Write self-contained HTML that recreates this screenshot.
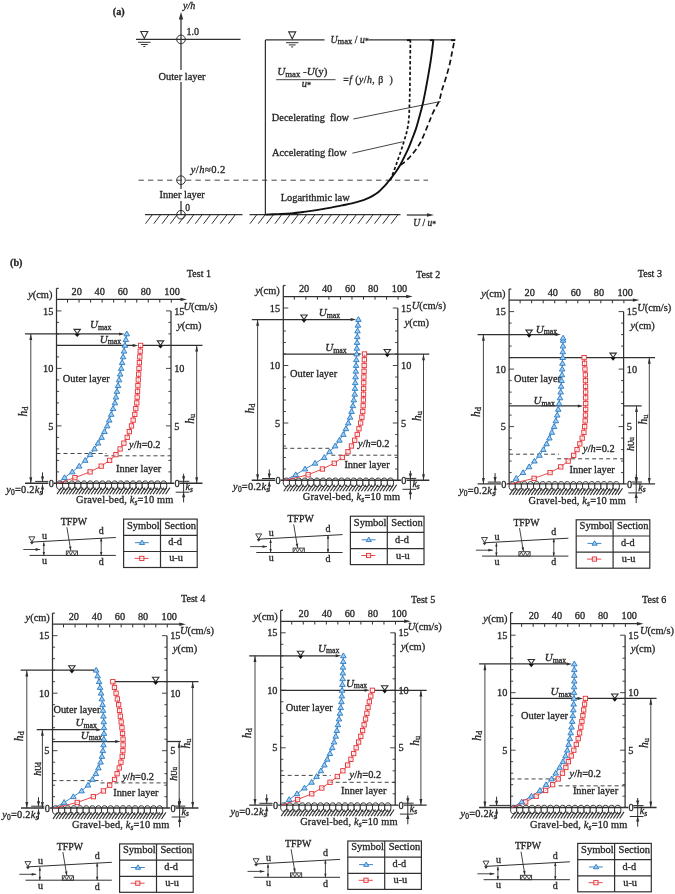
<!DOCTYPE html>
<html><head><meta charset="utf-8"><style>
html,body{margin:0;padding:0;background:#fff;overflow:hidden;}
svg{display:block;font-family:"Liberation Serif",serif;will-change:transform;}
text{stroke:#262626;stroke-width:0.3px;}
</style></head><body>
<svg width="675" height="894" viewBox="0 0 675 894">
<rect width="675" height="894" fill="#fff"/>
<text x="112.8" y="14.8" font-size="10.2" text-anchor="start" font-style="normal" font-weight="bold" fill="#262626" >(a)</text>
<line x1="181" y1="214.7" x2="181" y2="19" stroke="#303030" stroke-width="1.25" />
<polygon points="181,12 183.2,19.5 178.8,19.5" fill="#303030" stroke="none" stroke-width="1"/>
<text x="183" y="8.5" font-size="10" text-anchor="start" font-style="italic" font-weight="normal" fill="#262626" >y/h</text>
<line x1="136" y1="39.4" x2="240.5" y2="39.4" stroke="#303030" stroke-width="1.25" />
<polygon points="140.8,31.5 147.8,31.5 144.3,38.4" fill="none" stroke="#303030" stroke-width="1.1"/>
<line x1="138.1" y1="42.3" x2="150.5" y2="42.3" stroke="#303030" stroke-width="1.0" />
<line x1="140.9" y1="44.5" x2="147.7" y2="44.5" stroke="#303030" stroke-width="1.0" />
<line x1="143.3" y1="46.5" x2="145.3" y2="46.5" stroke="#303030" stroke-width="1.0" />
<circle cx="181" cy="39.4" r="4.3" fill="none" stroke="#303030" stroke-width="1"/>
<text x="186.5" y="34.6" font-size="10" text-anchor="start" font-style="normal" font-weight="normal" fill="#262626" >1.0</text>
<rect x="157" y="70" width="50" height="12" fill="#fff"/>
<text x="158.5" y="79.6" font-size="10.4" text-anchor="start" font-style="normal" font-weight="normal" fill="#262626" >Outer layer</text>
<line x1="138.5" y1="180.2" x2="428" y2="180.2" stroke="#303030" stroke-width="0.9" stroke-dasharray="5.3,4.2" />
<circle cx="181" cy="180.2" r="4.3" fill="none" stroke="#303030" stroke-width="1"/>
<text x="190.7" y="172.6" font-size="10.6" text-anchor="start" font-style="normal" font-weight="normal" fill="#262626" letter-spacing="0.45"><tspan font-style="italic">y</tspan>/<tspan font-style="italic">h</tspan>≈0.2</text>
<rect x="158" y="189" width="50" height="12" fill="#fff"/>
<text x="159.5" y="198.2" font-size="10.4" text-anchor="start" font-style="normal" font-weight="normal" fill="#262626" >Inner layer</text>
<text x="185.3" y="210.6" font-size="9.5" text-anchor="start" font-style="normal" font-weight="normal" fill="#262626" >0</text>
<line x1="145" y1="214.7" x2="242.5" y2="214.7" stroke="#303030" stroke-width="1.25" />
<line x1="152.3" y1="214.7" x2="145.5" y2="223.7" stroke="#303030" stroke-width="1.0" />
<line x1="160.6" y1="214.7" x2="153.8" y2="223.7" stroke="#303030" stroke-width="1.0" />
<line x1="168.9" y1="214.7" x2="162.1" y2="223.7" stroke="#303030" stroke-width="1.0" />
<line x1="177.2" y1="214.7" x2="170.4" y2="223.7" stroke="#303030" stroke-width="1.0" />
<line x1="185.5" y1="214.7" x2="178.7" y2="223.7" stroke="#303030" stroke-width="1.0" />
<line x1="193.8" y1="214.7" x2="187" y2="223.7" stroke="#303030" stroke-width="1.0" />
<line x1="202.1" y1="214.7" x2="195.3" y2="223.7" stroke="#303030" stroke-width="1.0" />
<line x1="210.4" y1="214.7" x2="203.6" y2="223.7" stroke="#303030" stroke-width="1.0" />
<line x1="218.7" y1="214.7" x2="211.9" y2="223.7" stroke="#303030" stroke-width="1.0" />
<line x1="227" y1="214.7" x2="220.2" y2="223.7" stroke="#303030" stroke-width="1.0" />
<line x1="235.3" y1="214.7" x2="228.5" y2="223.7" stroke="#303030" stroke-width="1.0" />
<circle cx="181" cy="214.7" r="4.3" fill="none" stroke="#303030" stroke-width="1"/>
<line x1="249.5" y1="214.7" x2="400.5" y2="214.7" stroke="#303030" stroke-width="1.25" />
<line x1="256.8" y1="214.7" x2="250" y2="223.7" stroke="#303030" stroke-width="1.0" />
<line x1="265.1" y1="214.7" x2="258.3" y2="223.7" stroke="#303030" stroke-width="1.0" />
<line x1="273.4" y1="214.7" x2="266.6" y2="223.7" stroke="#303030" stroke-width="1.0" />
<line x1="281.7" y1="214.7" x2="274.9" y2="223.7" stroke="#303030" stroke-width="1.0" />
<line x1="290" y1="214.7" x2="283.2" y2="223.7" stroke="#303030" stroke-width="1.0" />
<line x1="298.3" y1="214.7" x2="291.5" y2="223.7" stroke="#303030" stroke-width="1.0" />
<line x1="306.6" y1="214.7" x2="299.8" y2="223.7" stroke="#303030" stroke-width="1.0" />
<line x1="314.9" y1="214.7" x2="308.1" y2="223.7" stroke="#303030" stroke-width="1.0" />
<line x1="323.2" y1="214.7" x2="316.4" y2="223.7" stroke="#303030" stroke-width="1.0" />
<line x1="331.5" y1="214.7" x2="324.7" y2="223.7" stroke="#303030" stroke-width="1.0" />
<line x1="339.8" y1="214.7" x2="333" y2="223.7" stroke="#303030" stroke-width="1.0" />
<line x1="348.1" y1="214.7" x2="341.3" y2="223.7" stroke="#303030" stroke-width="1.0" />
<line x1="356.4" y1="214.7" x2="349.6" y2="223.7" stroke="#303030" stroke-width="1.0" />
<line x1="364.7" y1="214.7" x2="357.9" y2="223.7" stroke="#303030" stroke-width="1.0" />
<line x1="373" y1="214.7" x2="366.2" y2="223.7" stroke="#303030" stroke-width="1.0" />
<line x1="381.3" y1="214.7" x2="374.5" y2="223.7" stroke="#303030" stroke-width="1.0" />
<line x1="389.6" y1="214.7" x2="382.8" y2="223.7" stroke="#303030" stroke-width="1.0" />
<line x1="397.9" y1="214.7" x2="391.1" y2="223.7" stroke="#303030" stroke-width="1.0" />
<line x1="265.4" y1="40" x2="265.4" y2="214.7" stroke="#303030" stroke-width="1.25" />
<line x1="265.4" y1="39.8" x2="324.5" y2="39.8" stroke="#303030" stroke-width="1.25" />
<line x1="368.5" y1="39.8" x2="455.5" y2="39.8" stroke="#303030" stroke-width="1.25" />
<polygon points="288.7,31.9 295.7,31.9 292.2,38.8" fill="none" stroke="#303030" stroke-width="1.1"/>
<line x1="286" y1="42.7" x2="298.4" y2="42.7" stroke="#303030" stroke-width="1.0" />
<line x1="288.8" y1="44.9" x2="295.6" y2="44.9" stroke="#303030" stroke-width="1.0" />
<line x1="291.2" y1="46.9" x2="293.2" y2="46.9" stroke="#303030" stroke-width="1.0" />
<text x="330.5" y="42.6" font-size="9.8" text-anchor="start" font-style="normal" font-weight="normal" fill="#262626" ><tspan font-style="italic">U</tspan><tspan font-size="8.6" dy="1">max</tspan><tspan dy="-1"> / </tspan><tspan font-style="italic">u</tspan><tspan font-size="7.5" dy="1">*</tspan></text>
<text x="277.2" y="75.3" font-size="11" text-anchor="start" font-style="normal" font-weight="normal" fill="#262626" ><tspan font-style="italic">U</tspan><tspan font-size="8.8" dy="2">max</tspan><tspan dy="-2"> -</tspan><tspan font-style="italic">U</tspan>(y)</text>
<line x1="276.2" y1="79.7" x2="335.5" y2="79.7" stroke="#303030" stroke-width="0.9" />
<text x="301.8" y="86.5" font-size="10.5" text-anchor="start" font-style="normal" font-weight="normal" fill="#262626" ><tspan font-style="italic">u</tspan><tspan font-size="8" dy="1.5">*</tspan></text>
<text x="343.2" y="83" font-size="9.8" text-anchor="start" font-style="normal" font-weight="normal" fill="#262626" letter-spacing="0.45">=<tspan font-style="italic">f</tspan> (<tspan font-style="italic">y</tspan>/<tspan font-style="italic">h</tspan>, β&#160;&#160;)</text>
<text x="271.8" y="121.3" font-size="10.4" text-anchor="start" font-style="normal" font-weight="normal" fill="#262626" >Decelerating&#160; flow</text>
<line x1="353.3" y1="119" x2="440.5" y2="101.5" stroke="#303030" stroke-width="0.9" />
<text x="272" y="155.5" font-size="10.4" text-anchor="start" font-style="normal" font-weight="normal" fill="#262626" >Accelerating flow</text>
<line x1="352.4" y1="153.2" x2="402.6" y2="141.8" stroke="#303030" stroke-width="0.9" />
<text x="280.7" y="201.2" font-size="10.4" text-anchor="start" font-style="normal" font-weight="normal" fill="#262626" >Logarithmic law</text>
<line x1="406.8" y1="215" x2="428" y2="215" stroke="#303030" stroke-width="1.25" />
<polygon points="434,215 427,216.8 427,213.2" fill="#303030" stroke="none" stroke-width="1"/>
<text x="413.2" y="226" font-size="9.5" text-anchor="start" font-style="normal" font-weight="normal" fill="#262626" ><tspan font-style="italic">U</tspan> / <tspan font-style="italic">u</tspan><tspan font-size="7.5" dy="1">*</tspan></text>
<path d="M265.4,214.6 C267.5,214.52 273.73,214.3 278,214.1 C282.27,213.9 286.67,213.77 291,213.4 C295.33,213.03 299.5,212.48 304,211.9 C308.5,211.32 313.5,210.62 318,209.9 C322.5,209.18 326.83,208.38 331,207.6 C335.17,206.82 339.5,205.92 343,205.2 C346.5,204.48 349.17,203.97 352,203.3 C354.83,202.63 357.5,201.98 360,201.2 C362.5,200.42 364.83,199.53 367,198.6 C369.17,197.67 371.08,196.68 373,195.6 C374.92,194.52 376.72,193.55 378.5,192.1 C380.28,190.65 382.15,188.55 383.7,186.9 C385.25,185.25 386.5,183.73 387.8,182.2 C389.1,180.67 390.22,179.35 391.5,177.7 C392.78,176.05 394.2,174.17 395.5,172.3 C396.8,170.43 397.88,168.97 399.3,166.5 C400.72,164.03 402.5,160.48 404,157.5 C405.5,154.52 406.92,151.77 408.3,148.6 C409.68,145.43 411,141.87 412.3,138.5 C413.6,135.13 414.88,132.15 416.1,128.4 C417.32,124.65 418.48,120.1 419.6,116 C420.72,111.9 421.77,108.3 422.8,103.8 C423.83,99.3 424.87,93.85 425.8,89 C426.73,84.15 427.62,79.2 428.4,74.7 C429.18,70.2 429.87,66.12 430.5,62 C431.13,57.88 431.77,53.25 432.2,50 C432.63,46.75 432.9,44.12 433.1,42.5 C433.3,40.88 433.35,40.67 433.4,40.3" fill="none" stroke="#111" stroke-width="1.9"/>
<path d="M390.5,180.2 C391.6,177.17 394.88,168.37 397.1,162 C399.32,155.63 401.93,148.33 403.8,142 C405.67,135.67 407.33,131 408.3,124 C409.27,117 409.3,109 409.6,100 C409.9,91 409.97,79.92 410.1,70 C410.23,60.08 410.35,45.42 410.4,40.5" fill="none" stroke="#111" stroke-width="1.7" stroke-dasharray="3.2,2.2"/>
<path d="M400.5,165.2 C401.98,163.92 406.23,161.02 409.4,157.5 C412.57,153.98 416.4,149.52 419.5,144.1 C422.6,138.68 425.8,130.13 428,125 C430.2,119.87 430.88,117.22 432.7,113.3 C434.52,109.38 437.35,105.38 438.9,101.5 C440.45,97.62 440.82,93.98 442,90 C443.18,86.02 444.7,82 446,77.6 C447.3,73.2 448.75,68.02 449.8,63.6 C450.85,59.18 451.53,54.87 452.3,51.1 C453.07,47.33 454.05,42.68 454.4,41" fill="none" stroke="#111" stroke-width="1.7" stroke-dasharray="5.5,3.2"/>
<line x1="406.9" y1="40.2" x2="410.9" y2="40.2" stroke="#111" stroke-width="1.8" />
<line x1="429.9" y1="40.2" x2="433.9" y2="40.2" stroke="#111" stroke-width="1.8" />
<line x1="451.1" y1="40.2" x2="455.1" y2="40.2" stroke="#111" stroke-width="1.8" />
<text x="10" y="265.8" font-size="10.2" text-anchor="start" font-style="normal" font-weight="bold" fill="#262626" >(b)</text>
<text x="211.1" y="277.4" font-size="10.1" text-anchor="end" font-style="normal" font-weight="normal" fill="#262626" >Test 1</text>
<line x1="56.5" y1="288.4" x2="56.5" y2="483.4" stroke="#303030" stroke-width="1.25" />
<line x1="56.5" y1="288.4" x2="58.7" y2="288.4" stroke="#303030" stroke-width="1.25" />
<line x1="56.5" y1="471.9" x2="59.1" y2="471.9" stroke="#303030" stroke-width="0.9" />
<line x1="56.5" y1="460.4" x2="59.1" y2="460.4" stroke="#303030" stroke-width="0.9" />
<line x1="56.5" y1="448.9" x2="59.1" y2="448.9" stroke="#303030" stroke-width="0.9" />
<line x1="56.5" y1="437.4" x2="59.1" y2="437.4" stroke="#303030" stroke-width="0.9" />
<line x1="56.5" y1="425.9" x2="61.5" y2="425.9" stroke="#303030" stroke-width="0.9" />
<line x1="56.5" y1="414.4" x2="59.1" y2="414.4" stroke="#303030" stroke-width="0.9" />
<line x1="56.5" y1="402.9" x2="59.1" y2="402.9" stroke="#303030" stroke-width="0.9" />
<line x1="56.5" y1="391.4" x2="59.1" y2="391.4" stroke="#303030" stroke-width="0.9" />
<line x1="56.5" y1="379.9" x2="59.1" y2="379.9" stroke="#303030" stroke-width="0.9" />
<line x1="56.5" y1="368.4" x2="61.5" y2="368.4" stroke="#303030" stroke-width="0.9" />
<line x1="56.5" y1="356.9" x2="59.1" y2="356.9" stroke="#303030" stroke-width="0.9" />
<line x1="56.5" y1="345.4" x2="59.1" y2="345.4" stroke="#303030" stroke-width="0.9" />
<line x1="56.5" y1="333.9" x2="59.1" y2="333.9" stroke="#303030" stroke-width="0.9" />
<line x1="56.5" y1="322.4" x2="59.1" y2="322.4" stroke="#303030" stroke-width="0.9" />
<line x1="56.5" y1="310.9" x2="61.5" y2="310.9" stroke="#303030" stroke-width="0.9" />
<text x="53.3" y="429.5" font-size="10.3" text-anchor="end" font-style="normal" font-weight="normal" fill="#262626" >5</text>
<text x="53.3" y="372" font-size="10.3" text-anchor="end" font-style="normal" font-weight="normal" fill="#262626" >10</text>
<text x="53.3" y="314.5" font-size="10.3" text-anchor="end" font-style="normal" font-weight="normal" fill="#262626" >15</text>
<line x1="171" y1="310.9" x2="171" y2="483.4" stroke="#303030" stroke-width="1.25" />
<line x1="168.4" y1="471.9" x2="171" y2="471.9" stroke="#303030" stroke-width="0.9" />
<line x1="168.4" y1="460.4" x2="171" y2="460.4" stroke="#303030" stroke-width="0.9" />
<line x1="168.4" y1="448.9" x2="171" y2="448.9" stroke="#303030" stroke-width="0.9" />
<line x1="168.4" y1="437.4" x2="171" y2="437.4" stroke="#303030" stroke-width="0.9" />
<line x1="166" y1="425.9" x2="171" y2="425.9" stroke="#303030" stroke-width="0.9" />
<line x1="168.4" y1="414.4" x2="171" y2="414.4" stroke="#303030" stroke-width="0.9" />
<line x1="168.4" y1="402.9" x2="171" y2="402.9" stroke="#303030" stroke-width="0.9" />
<line x1="168.4" y1="391.4" x2="171" y2="391.4" stroke="#303030" stroke-width="0.9" />
<line x1="168.4" y1="379.9" x2="171" y2="379.9" stroke="#303030" stroke-width="0.9" />
<line x1="166" y1="368.4" x2="171" y2="368.4" stroke="#303030" stroke-width="0.9" />
<line x1="168.4" y1="356.9" x2="171" y2="356.9" stroke="#303030" stroke-width="0.9" />
<line x1="168.4" y1="345.4" x2="171" y2="345.4" stroke="#303030" stroke-width="0.9" />
<line x1="168.4" y1="333.9" x2="171" y2="333.9" stroke="#303030" stroke-width="0.9" />
<line x1="168.4" y1="322.4" x2="171" y2="322.4" stroke="#303030" stroke-width="0.9" />
<line x1="166" y1="310.9" x2="171" y2="310.9" stroke="#303030" stroke-width="0.9" />
<text x="174.2" y="429.5" font-size="10.3" text-anchor="start" font-style="normal" font-weight="normal" fill="#262626" >5</text>
<text x="174.2" y="372" font-size="10.3" text-anchor="start" font-style="normal" font-weight="normal" fill="#262626" >10</text>
<text x="174.2" y="314.5" font-size="10.3" text-anchor="start" font-style="normal" font-weight="normal" fill="#262626" >15</text>
<line x1="56.5" y1="299.4" x2="182.5" y2="299.4" stroke="#303030" stroke-width="1.25" />
<polygon points="187,299.4 180.5,301.1 180.5,297.7" fill="#303030" stroke="none" stroke-width="1"/>
<line x1="67.53" y1="299.4" x2="67.53" y2="302.6" stroke="#303030" stroke-width="1.0" />
<line x1="79.06" y1="299.4" x2="79.06" y2="302.6" stroke="#303030" stroke-width="1.0" />
<line x1="90.59" y1="299.4" x2="90.59" y2="302.6" stroke="#303030" stroke-width="1.0" />
<line x1="102.12" y1="299.4" x2="102.12" y2="302.6" stroke="#303030" stroke-width="1.0" />
<line x1="113.65" y1="299.4" x2="113.65" y2="302.6" stroke="#303030" stroke-width="1.0" />
<line x1="125.18" y1="299.4" x2="125.18" y2="302.6" stroke="#303030" stroke-width="1.0" />
<line x1="136.71" y1="299.4" x2="136.71" y2="302.6" stroke="#303030" stroke-width="1.0" />
<line x1="148.24" y1="299.4" x2="148.24" y2="302.6" stroke="#303030" stroke-width="1.0" />
<line x1="159.77" y1="299.4" x2="159.77" y2="302.6" stroke="#303030" stroke-width="1.0" />
<line x1="171.3" y1="299.4" x2="171.3" y2="302.6" stroke="#303030" stroke-width="1.0" />
<text x="76.66" y="295.1" font-size="10.3" text-anchor="middle" font-style="normal" font-weight="normal" fill="#262626" >20</text>
<text x="99.72" y="295.1" font-size="10.3" text-anchor="middle" font-style="normal" font-weight="normal" fill="#262626" >40</text>
<text x="122.78" y="295.1" font-size="10.3" text-anchor="middle" font-style="normal" font-weight="normal" fill="#262626" >60</text>
<text x="145.84" y="295.1" font-size="10.3" text-anchor="middle" font-style="normal" font-weight="normal" fill="#262626" >80</text>
<text x="172.1" y="295.1" font-size="10.3" text-anchor="middle" font-style="normal" font-weight="normal" fill="#262626" >100</text>
<text x="52.4" y="297.8" font-size="10.4" text-anchor="end" font-style="normal" font-weight="normal" fill="#262626" ><tspan font-style="italic">y</tspan>(cm)</text>
<text x="183.5" y="309.7" font-size="10.4" text-anchor="start" font-style="normal" font-weight="normal" fill="#262626" ><tspan font-style="italic">U</tspan>(cm/s)</text>
<text x="177.2" y="329.2" font-size="10.4" text-anchor="start" font-style="normal" font-weight="normal" fill="#262626" ><tspan font-style="italic">y</tspan>(cm)</text>
<ellipse cx="59.6" cy="485.2" rx="3.15" ry="4.25" fill="#fff" stroke="#303030" stroke-width="1.0"/>
<ellipse cx="65.72" cy="485.2" rx="3.15" ry="4.25" fill="#fff" stroke="#303030" stroke-width="1.0"/>
<ellipse cx="71.84" cy="485.2" rx="3.15" ry="4.25" fill="#fff" stroke="#303030" stroke-width="1.0"/>
<ellipse cx="77.96" cy="485.2" rx="3.15" ry="4.25" fill="#fff" stroke="#303030" stroke-width="1.0"/>
<ellipse cx="84.08" cy="485.2" rx="3.15" ry="4.25" fill="#fff" stroke="#303030" stroke-width="1.0"/>
<ellipse cx="90.2" cy="485.2" rx="3.15" ry="4.25" fill="#fff" stroke="#303030" stroke-width="1.0"/>
<ellipse cx="96.32" cy="485.2" rx="3.15" ry="4.25" fill="#fff" stroke="#303030" stroke-width="1.0"/>
<ellipse cx="102.44" cy="485.2" rx="3.15" ry="4.25" fill="#fff" stroke="#303030" stroke-width="1.0"/>
<ellipse cx="108.56" cy="485.2" rx="3.15" ry="4.25" fill="#fff" stroke="#303030" stroke-width="1.0"/>
<ellipse cx="114.68" cy="485.2" rx="3.15" ry="4.25" fill="#fff" stroke="#303030" stroke-width="1.0"/>
<ellipse cx="120.8" cy="485.2" rx="3.15" ry="4.25" fill="#fff" stroke="#303030" stroke-width="1.0"/>
<ellipse cx="126.92" cy="485.2" rx="3.15" ry="4.25" fill="#fff" stroke="#303030" stroke-width="1.0"/>
<ellipse cx="133.04" cy="485.2" rx="3.15" ry="4.25" fill="#fff" stroke="#303030" stroke-width="1.0"/>
<ellipse cx="139.16" cy="485.2" rx="3.15" ry="4.25" fill="#fff" stroke="#303030" stroke-width="1.0"/>
<ellipse cx="145.28" cy="485.2" rx="3.15" ry="4.25" fill="#fff" stroke="#303030" stroke-width="1.0"/>
<ellipse cx="151.4" cy="485.2" rx="3.15" ry="4.25" fill="#fff" stroke="#303030" stroke-width="1.0"/>
<ellipse cx="157.52" cy="485.2" rx="3.15" ry="4.25" fill="#fff" stroke="#303030" stroke-width="1.0"/>
<ellipse cx="163.64" cy="485.2" rx="3.15" ry="4.25" fill="#fff" stroke="#303030" stroke-width="1.0"/>
<line x1="61.4" y1="487.6" x2="57" y2="494.2" stroke="#303030" stroke-width="1.15" />
<line x1="64.5" y1="487.6" x2="60.1" y2="494.2" stroke="#303030" stroke-width="1.15" />
<line x1="67.6" y1="487.6" x2="63.2" y2="494.2" stroke="#303030" stroke-width="1.15" />
<line x1="70.7" y1="487.6" x2="66.3" y2="494.2" stroke="#303030" stroke-width="1.15" />
<line x1="73.8" y1="487.6" x2="69.4" y2="494.2" stroke="#303030" stroke-width="1.15" />
<line x1="76.9" y1="487.6" x2="72.5" y2="494.2" stroke="#303030" stroke-width="1.15" />
<line x1="80" y1="487.6" x2="75.6" y2="494.2" stroke="#303030" stroke-width="1.15" />
<line x1="83.1" y1="487.6" x2="78.7" y2="494.2" stroke="#303030" stroke-width="1.15" />
<line x1="86.2" y1="487.6" x2="81.8" y2="494.2" stroke="#303030" stroke-width="1.15" />
<line x1="89.3" y1="487.6" x2="84.9" y2="494.2" stroke="#303030" stroke-width="1.15" />
<line x1="92.4" y1="487.6" x2="88" y2="494.2" stroke="#303030" stroke-width="1.15" />
<line x1="95.5" y1="487.6" x2="91.1" y2="494.2" stroke="#303030" stroke-width="1.15" />
<line x1="98.6" y1="487.6" x2="94.2" y2="494.2" stroke="#303030" stroke-width="1.15" />
<line x1="101.7" y1="487.6" x2="97.3" y2="494.2" stroke="#303030" stroke-width="1.15" />
<line x1="104.8" y1="487.6" x2="100.4" y2="494.2" stroke="#303030" stroke-width="1.15" />
<line x1="107.9" y1="487.6" x2="103.5" y2="494.2" stroke="#303030" stroke-width="1.15" />
<line x1="111" y1="487.6" x2="106.6" y2="494.2" stroke="#303030" stroke-width="1.15" />
<line x1="114.1" y1="487.6" x2="109.7" y2="494.2" stroke="#303030" stroke-width="1.15" />
<line x1="117.2" y1="487.6" x2="112.8" y2="494.2" stroke="#303030" stroke-width="1.15" />
<line x1="120.3" y1="487.6" x2="115.9" y2="494.2" stroke="#303030" stroke-width="1.15" />
<line x1="123.4" y1="487.6" x2="119" y2="494.2" stroke="#303030" stroke-width="1.15" />
<line x1="126.5" y1="487.6" x2="122.1" y2="494.2" stroke="#303030" stroke-width="1.15" />
<line x1="129.6" y1="487.6" x2="125.2" y2="494.2" stroke="#303030" stroke-width="1.15" />
<line x1="132.7" y1="487.6" x2="128.3" y2="494.2" stroke="#303030" stroke-width="1.15" />
<line x1="135.8" y1="487.6" x2="131.4" y2="494.2" stroke="#303030" stroke-width="1.15" />
<line x1="138.9" y1="487.6" x2="134.5" y2="494.2" stroke="#303030" stroke-width="1.15" />
<line x1="142" y1="487.6" x2="137.6" y2="494.2" stroke="#303030" stroke-width="1.15" />
<line x1="145.1" y1="487.6" x2="140.7" y2="494.2" stroke="#303030" stroke-width="1.15" />
<line x1="148.2" y1="487.6" x2="143.8" y2="494.2" stroke="#303030" stroke-width="1.15" />
<line x1="151.3" y1="487.6" x2="146.9" y2="494.2" stroke="#303030" stroke-width="1.15" />
<line x1="154.4" y1="487.6" x2="150" y2="494.2" stroke="#303030" stroke-width="1.15" />
<line x1="157.5" y1="487.6" x2="153.1" y2="494.2" stroke="#303030" stroke-width="1.15" />
<line x1="160.6" y1="487.6" x2="156.2" y2="494.2" stroke="#303030" stroke-width="1.15" />
<line x1="163.7" y1="487.6" x2="159.3" y2="494.2" stroke="#303030" stroke-width="1.15" />
<line x1="166.8" y1="487.6" x2="162.4" y2="494.2" stroke="#303030" stroke-width="1.15" />
<line x1="169.9" y1="487.6" x2="165.5" y2="494.2" stroke="#303030" stroke-width="1.15" />
<line x1="25" y1="483.2" x2="202.5" y2="483.2" stroke="#303030" stroke-width="1.4" />
<text x="6.3" y="493" font-size="10.4" text-anchor="start" font-style="normal" font-weight="normal" fill="#262626" letter-spacing="0.2"><tspan font-style="italic">y</tspan><tspan font-size="7.5" dy="2">0</tspan><tspan dy="-2">=0.2</tspan><tspan font-style="italic">k</tspan><tspan font-size="7.5" dy="2" font-style="italic">s</tspan></text>
<text x="76" y="503.2" font-size="10.4" text-anchor="start" font-style="normal" font-weight="normal" fill="#262626" letter-spacing="0.15">Gravel-bed, <tspan font-style="italic">k</tspan><tspan font-size="7.5" dy="2" font-style="italic">s</tspan><tspan dy="-2">=10 mm</tspan></text>
<rect x="48.3" y="479.9" width="5.6" height="7" fill="#fff"/>
<text x="48.7" y="486.8" font-size="10.3" text-anchor="start" font-style="normal" font-weight="normal" fill="#262626" >0</text>
<line x1="35.2" y1="481.4" x2="48.3" y2="481.4" stroke="#303030" stroke-width="1.0" />
<rect x="174.2" y="479.9" width="5.6" height="7" fill="#fff"/>
<text x="174.4" y="486.8" font-size="10.3" text-anchor="start" font-style="normal" font-weight="normal" fill="#262626" >0</text>
<line x1="42.5" y1="472.4" x2="42.5" y2="481.4" stroke="#303030" stroke-width="1.0" />
<polygon points="42.5,481.4 40.9,476.4 44.1,476.4" fill="#303030" stroke="none" stroke-width="1"/>
<line x1="42.5" y1="494.4" x2="42.5" y2="484.4" stroke="#303030" stroke-width="1.0" />
<polygon points="42.5,484.4 44.1,489.4 40.9,489.4" fill="#303030" stroke="none" stroke-width="1"/>
<line x1="179" y1="481.3" x2="189.4" y2="481.3" stroke="#303030" stroke-width="1.0" />
<line x1="175.7" y1="492.2" x2="189.4" y2="492.2" stroke="#303030" stroke-width="1.0" />
<line x1="183.6" y1="473.7" x2="183.6" y2="481.3" stroke="#303030" stroke-width="1.0" />
<polygon points="183.6,481.3 182,476.3 185.2,476.3" fill="#303030" stroke="none" stroke-width="1"/>
<line x1="183.6" y1="502.4" x2="183.6" y2="492.2" stroke="#303030" stroke-width="1.0" />
<polygon points="183.6,492.2 185.2,497.2 182,497.2" fill="#303030" stroke="none" stroke-width="1"/>
<line x1="183.6" y1="481.3" x2="183.6" y2="492.2" stroke="#303030" stroke-width="1.0" />
<text x="185.6" y="490.1" font-size="10" text-anchor="start" font-style="normal" font-weight="normal" fill="#262626" ><tspan font-style="italic">k</tspan><tspan font-size="7.5" dy="1.5" font-style="italic">s</tspan></text>
<line x1="56.5" y1="453.5" x2="106.5" y2="453.5" stroke="#303030" stroke-width="0.9" stroke-dasharray="4,3" />
<line x1="104.5" y1="455.8" x2="171" y2="455.8" stroke="#303030" stroke-width="0.9" stroke-dasharray="4,3" />
<polyline points="57.5,483.4 64.5,477.65 72.3,471.9 79.2,466.15 85.2,460.4 90.1,454.65 94.5,448.9 98.05,443.15 101.6,437.4 104.4,431.65 107.2,425.9 109.2,420.15 111.2,414.4 113.05,408.65 114.9,402.9 115.95,397.15 117,391.4 118.05,385.65 119.1,379.9 120.15,374.15 121.2,368.4 122.13,362.65 123.07,356.9 124,351.15 124.93,345.4 125.87,339.65 126.8,333.9" fill="none" stroke="#2a78c2" stroke-width="0.9"/>
<polyline points="57.5,483.4 74.9,477.65 90.1,471.9 101.2,466.15 109.6,460.4 115.9,454.65 120.1,448.9 123.9,443.15 127.2,437.4 129.35,431.65 131.5,425.9 133.15,420.15 134.8,414.4 135.8,408.65 136.8,402.9 137.17,397.15 137.53,391.4 137.9,385.65 138.27,379.9 138.63,374.15 139,368.4 139.4,362.65 139.8,356.9 140.2,351.15 140.6,345.4" fill="none" stroke="#e5353a" stroke-width="0.9"/>
<text x="62.8" y="381.5" font-size="10.4" text-anchor="start" font-style="normal" font-weight="normal" fill="#262626" >Outer layer</text>
<text x="116" y="471.7" font-size="10.4" text-anchor="start" font-style="normal" font-weight="normal" fill="#262626" >Inner layer</text>
<text x="129" y="447.9" font-size="10.4" text-anchor="start" font-style="normal" font-weight="normal" fill="#262626" ><tspan font-style="italic">y</tspan>/<tspan font-style="italic">h</tspan>=0.2</text>
<line x1="25" y1="333.9" x2="120.8" y2="333.9" stroke="#303030" stroke-width="1.25" />
<polygon points="124.6,333.9 119.1,335.4 119.1,332.4" fill="#303030" stroke="none" stroke-width="1"/>
<text x="90.1" y="328.4" font-size="11" text-anchor="start" font-style="normal" font-weight="normal" fill="#262626" ><tspan font-style="italic">U</tspan><tspan font-size="7.8" dy="1.4">max</tspan></text>
<polygon points="74,329.4 80.4,329.4 77.2,333.9" fill="none" stroke="#303030" stroke-width="1.1"/>
<polygon points="74.5,333.9 79.9,333.9 77.2,337.1" fill="#111" stroke="none" stroke-width="1"/>
<line x1="30.8" y1="333.9" x2="30.8" y2="483.4" stroke="#303030" stroke-width="0.9" />
<polygon points="30.8,483.4 29.35,477.2 32.25,477.2" fill="#303030" stroke="none" stroke-width="1"/>
<polygon points="30.8,333.9 32.25,340.1 29.35,340.1" fill="#303030" stroke="none" stroke-width="1"/>
<text x="0" y="0" font-size="11.5" text-anchor="middle" fill="#262626" transform="translate(23.2,411.4) rotate(-90)" dominant-baseline="central"><tspan font-style="italic">h</tspan><tspan font-size="8.5" dy="2">d</tspan></text>
<line x1="56.5" y1="345.4" x2="134.6" y2="345.4" stroke="#303030" stroke-width="1.25" />
<polygon points="138.2,345.4 132.7,346.9 132.7,343.9" fill="#303030" stroke="none" stroke-width="1"/>
<line x1="142.8" y1="345.4" x2="202.5" y2="345.4" stroke="#303030" stroke-width="1.25" />
<text x="99.8" y="342.8" font-size="11" text-anchor="start" font-style="normal" font-weight="normal" fill="#262626" ><tspan font-style="italic">U</tspan><tspan font-size="7.8" dy="1.4">max</tspan></text>
<polygon points="157.3,340.9 163.7,340.9 160.5,345.4" fill="none" stroke="#303030" stroke-width="1.1"/>
<polygon points="157.8,345.4 163.2,345.4 160.5,348.6" fill="#111" stroke="none" stroke-width="1"/>
<line x1="196.7" y1="345.4" x2="196.7" y2="483.4" stroke="#303030" stroke-width="0.9" />
<polygon points="196.7,483.4 195.25,477.2 198.15,477.2" fill="#303030" stroke="none" stroke-width="1"/>
<polygon points="196.7,345.4 198.15,351.6 195.25,351.6" fill="#303030" stroke="none" stroke-width="1"/>
<text x="0" y="0" font-size="11.5" text-anchor="middle" fill="#262626" transform="translate(190.3,418.8) rotate(-90)" dominant-baseline="central"><tspan font-style="italic">h</tspan><tspan font-size="8.5" dy="2">u</tspan></text>
<rect x="72.75" y="475.5" width="4.3" height="4.3" fill="#fff" fill-opacity="0.6" stroke="#e5353a" stroke-width="0.95"/>
<rect x="87.95" y="469.75" width="4.3" height="4.3" fill="#fff" fill-opacity="0.6" stroke="#e5353a" stroke-width="0.95"/>
<rect x="99.05" y="464" width="4.3" height="4.3" fill="#fff" fill-opacity="0.6" stroke="#e5353a" stroke-width="0.95"/>
<rect x="107.45" y="458.25" width="4.3" height="4.3" fill="#fff" fill-opacity="0.6" stroke="#e5353a" stroke-width="0.95"/>
<rect x="113.75" y="452.5" width="4.3" height="4.3" fill="#fff" fill-opacity="0.6" stroke="#e5353a" stroke-width="0.95"/>
<rect x="117.95" y="446.75" width="4.3" height="4.3" fill="#fff" fill-opacity="0.6" stroke="#e5353a" stroke-width="0.95"/>
<rect x="121.75" y="441" width="4.3" height="4.3" fill="#fff" fill-opacity="0.6" stroke="#e5353a" stroke-width="0.95"/>
<rect x="125.05" y="435.25" width="4.3" height="4.3" fill="#fff" fill-opacity="0.6" stroke="#e5353a" stroke-width="0.95"/>
<rect x="127.2" y="429.5" width="4.3" height="4.3" fill="#fff" fill-opacity="0.6" stroke="#e5353a" stroke-width="0.95"/>
<rect x="129.35" y="423.75" width="4.3" height="4.3" fill="#fff" fill-opacity="0.6" stroke="#e5353a" stroke-width="0.95"/>
<rect x="131" y="418" width="4.3" height="4.3" fill="#fff" fill-opacity="0.6" stroke="#e5353a" stroke-width="0.95"/>
<rect x="132.65" y="412.25" width="4.3" height="4.3" fill="#fff" fill-opacity="0.6" stroke="#e5353a" stroke-width="0.95"/>
<rect x="133.65" y="406.5" width="4.3" height="4.3" fill="#fff" fill-opacity="0.6" stroke="#e5353a" stroke-width="0.95"/>
<rect x="134.65" y="400.75" width="4.3" height="4.3" fill="#fff" fill-opacity="0.6" stroke="#e5353a" stroke-width="0.95"/>
<rect x="135.02" y="395" width="4.3" height="4.3" fill="#fff" fill-opacity="0.6" stroke="#e5353a" stroke-width="0.95"/>
<rect x="135.38" y="389.25" width="4.3" height="4.3" fill="#fff" fill-opacity="0.6" stroke="#e5353a" stroke-width="0.95"/>
<rect x="135.75" y="383.5" width="4.3" height="4.3" fill="#fff" fill-opacity="0.6" stroke="#e5353a" stroke-width="0.95"/>
<rect x="136.12" y="377.75" width="4.3" height="4.3" fill="#fff" fill-opacity="0.6" stroke="#e5353a" stroke-width="0.95"/>
<rect x="136.48" y="372" width="4.3" height="4.3" fill="#fff" fill-opacity="0.6" stroke="#e5353a" stroke-width="0.95"/>
<rect x="136.85" y="366.25" width="4.3" height="4.3" fill="#fff" fill-opacity="0.6" stroke="#e5353a" stroke-width="0.95"/>
<rect x="137.25" y="360.5" width="4.3" height="4.3" fill="#fff" fill-opacity="0.6" stroke="#e5353a" stroke-width="0.95"/>
<rect x="137.65" y="354.75" width="4.3" height="4.3" fill="#fff" fill-opacity="0.6" stroke="#e5353a" stroke-width="0.95"/>
<rect x="138.05" y="349" width="4.3" height="4.3" fill="#fff" fill-opacity="0.6" stroke="#e5353a" stroke-width="0.95"/>
<rect x="138.45" y="343.25" width="4.3" height="4.3" fill="#fff" fill-opacity="0.6" stroke="#e5353a" stroke-width="0.95"/>
<polygon points="64.5,474.77 61.7,479.57 67.3,479.57" fill="#9fd0f2" stroke="#2a78c2" stroke-width="0.9"/>
<polygon points="72.3,469.02 69.5,473.82 75.1,473.82" fill="#9fd0f2" stroke="#2a78c2" stroke-width="0.9"/>
<polygon points="79.2,463.27 76.4,468.07 82,468.07" fill="#9fd0f2" stroke="#2a78c2" stroke-width="0.9"/>
<polygon points="85.2,457.52 82.4,462.32 88,462.32" fill="#9fd0f2" stroke="#2a78c2" stroke-width="0.9"/>
<polygon points="90.1,451.77 87.3,456.57 92.9,456.57" fill="#9fd0f2" stroke="#2a78c2" stroke-width="0.9"/>
<polygon points="94.5,446.02 91.7,450.82 97.3,450.82" fill="#9fd0f2" stroke="#2a78c2" stroke-width="0.9"/>
<polygon points="98.05,440.27 95.25,445.07 100.85,445.07" fill="#9fd0f2" stroke="#2a78c2" stroke-width="0.9"/>
<polygon points="101.6,434.52 98.8,439.32 104.4,439.32" fill="#9fd0f2" stroke="#2a78c2" stroke-width="0.9"/>
<polygon points="104.4,428.77 101.6,433.57 107.2,433.57" fill="#9fd0f2" stroke="#2a78c2" stroke-width="0.9"/>
<polygon points="107.2,423.02 104.4,427.82 110,427.82" fill="#9fd0f2" stroke="#2a78c2" stroke-width="0.9"/>
<polygon points="109.2,417.27 106.4,422.07 112,422.07" fill="#9fd0f2" stroke="#2a78c2" stroke-width="0.9"/>
<polygon points="111.2,411.52 108.4,416.32 114,416.32" fill="#9fd0f2" stroke="#2a78c2" stroke-width="0.9"/>
<polygon points="113.05,405.77 110.25,410.57 115.85,410.57" fill="#9fd0f2" stroke="#2a78c2" stroke-width="0.9"/>
<polygon points="114.9,400.02 112.1,404.82 117.7,404.82" fill="#9fd0f2" stroke="#2a78c2" stroke-width="0.9"/>
<polygon points="115.95,394.27 113.15,399.07 118.75,399.07" fill="#9fd0f2" stroke="#2a78c2" stroke-width="0.9"/>
<polygon points="117,388.52 114.2,393.32 119.8,393.32" fill="#9fd0f2" stroke="#2a78c2" stroke-width="0.9"/>
<polygon points="118.05,382.77 115.25,387.57 120.85,387.57" fill="#9fd0f2" stroke="#2a78c2" stroke-width="0.9"/>
<polygon points="119.1,377.02 116.3,381.82 121.9,381.82" fill="#9fd0f2" stroke="#2a78c2" stroke-width="0.9"/>
<polygon points="120.15,371.27 117.35,376.07 122.95,376.07" fill="#9fd0f2" stroke="#2a78c2" stroke-width="0.9"/>
<polygon points="121.2,365.52 118.4,370.32 124,370.32" fill="#9fd0f2" stroke="#2a78c2" stroke-width="0.9"/>
<polygon points="122.13,359.77 119.33,364.57 124.93,364.57" fill="#9fd0f2" stroke="#2a78c2" stroke-width="0.9"/>
<polygon points="123.07,354.02 120.27,358.82 125.87,358.82" fill="#9fd0f2" stroke="#2a78c2" stroke-width="0.9"/>
<polygon points="124,348.27 121.2,353.07 126.8,353.07" fill="#9fd0f2" stroke="#2a78c2" stroke-width="0.9"/>
<polygon points="124.93,342.52 122.13,347.32 127.73,347.32" fill="#9fd0f2" stroke="#2a78c2" stroke-width="0.9"/>
<polygon points="125.87,336.77 123.07,341.57 128.67,341.57" fill="#9fd0f2" stroke="#2a78c2" stroke-width="0.9"/>
<polygon points="126.8,331.02 124,335.82 129.6,335.82" fill="#9fd0f2" stroke="#2a78c2" stroke-width="0.9"/>
<rect x="123.6" y="519.1" width="73.6" height="48.4" fill="none" stroke="#303030" stroke-width="1.2"/>
<line x1="160.5" y1="519.1" x2="160.5" y2="567.5" stroke="#303030" stroke-width="1.2" />
<line x1="123.6" y1="535.3" x2="197.2" y2="535.3" stroke="#303030" stroke-width="1.2" />
<line x1="123.6" y1="551.5" x2="197.2" y2="551.5" stroke="#303030" stroke-width="1.2" />
<text x="127" y="528.5" font-size="10.5" text-anchor="start" font-style="normal" font-weight="normal" fill="#262626" >Symbol</text>
<text x="164.5" y="528.5" font-size="10.5" text-anchor="start" font-style="normal" font-weight="normal" fill="#262626" >Section</text>
<line x1="134.9" y1="542.7" x2="148.8" y2="542.7" stroke="#2a78c2" stroke-width="0.9" />
<polygon points="142,540.06 139.4,544.46 144.6,544.46" fill="#9fd0f2" stroke="#2a78c2" stroke-width="0.9"/>
<text x="168.3" y="545.4" font-size="10.3" text-anchor="start" font-style="normal" font-weight="normal" fill="#262626" >d-d</text>
<line x1="134.5" y1="558.4" x2="148.6" y2="558.4" stroke="#e5353a" stroke-width="0.9" />
<rect x="139.7" y="556.3" width="4.2" height="4.2" fill="#fff" fill-opacity="0.6" stroke="#e5353a" stroke-width="0.95"/>
<text x="169.2" y="561.4" font-size="10.3" text-anchor="start" font-style="normal" font-weight="normal" fill="#262626" >u-u</text>
<text x="60.8" y="524.8" font-size="9.8" text-anchor="start" font-style="normal" font-weight="normal" fill="#262626" >TFPW</text>
<line x1="31.3" y1="542.1" x2="115.8" y2="537.5" stroke="#303030" stroke-width="1.0" />
<line x1="29.5" y1="555.4" x2="115.8" y2="555.4" stroke="#303030" stroke-width="1.0" />
<polygon points="28.9,536.8 34.9,536.8 31.9,541.8" fill="none" stroke="#303030" stroke-width="0.9"/>
<polygon points="29.9,542 33.9,542 31.9,544.6" fill="#303030" stroke="none" stroke-width="1"/>
<line x1="23.3" y1="549.5" x2="40.2" y2="549.5" stroke="#303030" stroke-width="0.9" />
<polygon points="40.2,549.5 35.7,550.9 35.7,548.1" fill="#303030" stroke="none" stroke-width="1"/>
<text x="41.9" y="538.9" font-size="10" text-anchor="start" font-style="normal" font-weight="normal" fill="#262626" >u</text>
<text x="41.9" y="563.8" font-size="10" text-anchor="start" font-style="normal" font-weight="normal" fill="#262626" >u</text>
<line x1="43.8" y1="542.4" x2="43.8" y2="555.4" stroke="#303030" stroke-width="0.9" />
<polygon points="43.8,555.4 42.6,551.9 45,551.9" fill="#303030" stroke="none" stroke-width="1"/>
<polygon points="43.8,542.4 45,545.9 42.6,545.9" fill="#303030" stroke="none" stroke-width="1"/>
<text x="98.7" y="534.4" font-size="10" text-anchor="start" font-style="normal" font-weight="normal" fill="#262626" >d</text>
<text x="98.7" y="564.7" font-size="10" text-anchor="start" font-style="normal" font-weight="normal" fill="#262626" >d</text>
<line x1="101.2" y1="538.1" x2="101.2" y2="555.4" stroke="#303030" stroke-width="0.9" />
<polygon points="101.2,555.4 100,551.9 102.4,551.9" fill="#303030" stroke="none" stroke-width="1"/>
<polygon points="101.2,538.1 102.4,541.6 100,541.6" fill="#303030" stroke="none" stroke-width="1"/>
<rect x="66.3" y="551" width="11.2" height="4.4" fill="none" stroke="#303030" stroke-width="0.9"/>
<polyline points="66.7,555 68.7,551.4 70.7,555 72.7,551.4 74.7,555 76.9,551.4" fill="none" stroke="#303030" stroke-width="0.8"/>
<line x1="66.9" y1="527.3" x2="70.8" y2="550.6" stroke="#303030" stroke-width="0.9" />
<polygon points="70.8,550.6 68.86,546.87 71.42,546.44" fill="#303030" stroke="none" stroke-width="1"/>
<text x="440.2" y="277.7" font-size="10.1" text-anchor="end" font-style="normal" font-weight="normal" fill="#262626" >Test 2</text>
<line x1="283.3" y1="285.5" x2="283.3" y2="480.5" stroke="#303030" stroke-width="1.25" />
<line x1="283.3" y1="285.5" x2="285.5" y2="285.5" stroke="#303030" stroke-width="1.25" />
<line x1="283.3" y1="469" x2="285.9" y2="469" stroke="#303030" stroke-width="0.9" />
<line x1="283.3" y1="457.5" x2="285.9" y2="457.5" stroke="#303030" stroke-width="0.9" />
<line x1="283.3" y1="446" x2="285.9" y2="446" stroke="#303030" stroke-width="0.9" />
<line x1="283.3" y1="434.5" x2="285.9" y2="434.5" stroke="#303030" stroke-width="0.9" />
<line x1="283.3" y1="423" x2="288.3" y2="423" stroke="#303030" stroke-width="0.9" />
<line x1="283.3" y1="411.5" x2="285.9" y2="411.5" stroke="#303030" stroke-width="0.9" />
<line x1="283.3" y1="400" x2="285.9" y2="400" stroke="#303030" stroke-width="0.9" />
<line x1="283.3" y1="388.5" x2="285.9" y2="388.5" stroke="#303030" stroke-width="0.9" />
<line x1="283.3" y1="377" x2="285.9" y2="377" stroke="#303030" stroke-width="0.9" />
<line x1="283.3" y1="365.5" x2="288.3" y2="365.5" stroke="#303030" stroke-width="0.9" />
<line x1="283.3" y1="354" x2="285.9" y2="354" stroke="#303030" stroke-width="0.9" />
<line x1="283.3" y1="342.5" x2="285.9" y2="342.5" stroke="#303030" stroke-width="0.9" />
<line x1="283.3" y1="331" x2="285.9" y2="331" stroke="#303030" stroke-width="0.9" />
<line x1="283.3" y1="319.5" x2="285.9" y2="319.5" stroke="#303030" stroke-width="0.9" />
<line x1="283.3" y1="308" x2="288.3" y2="308" stroke="#303030" stroke-width="0.9" />
<text x="280.1" y="426.6" font-size="10.3" text-anchor="end" font-style="normal" font-weight="normal" fill="#262626" >5</text>
<text x="280.1" y="369.1" font-size="10.3" text-anchor="end" font-style="normal" font-weight="normal" fill="#262626" >10</text>
<text x="280.1" y="311.6" font-size="10.3" text-anchor="end" font-style="normal" font-weight="normal" fill="#262626" >15</text>
<line x1="397.8" y1="308" x2="397.8" y2="480.5" stroke="#303030" stroke-width="1.25" />
<line x1="395.2" y1="469" x2="397.8" y2="469" stroke="#303030" stroke-width="0.9" />
<line x1="395.2" y1="457.5" x2="397.8" y2="457.5" stroke="#303030" stroke-width="0.9" />
<line x1="395.2" y1="446" x2="397.8" y2="446" stroke="#303030" stroke-width="0.9" />
<line x1="395.2" y1="434.5" x2="397.8" y2="434.5" stroke="#303030" stroke-width="0.9" />
<line x1="392.8" y1="423" x2="397.8" y2="423" stroke="#303030" stroke-width="0.9" />
<line x1="395.2" y1="411.5" x2="397.8" y2="411.5" stroke="#303030" stroke-width="0.9" />
<line x1="395.2" y1="400" x2="397.8" y2="400" stroke="#303030" stroke-width="0.9" />
<line x1="395.2" y1="388.5" x2="397.8" y2="388.5" stroke="#303030" stroke-width="0.9" />
<line x1="395.2" y1="377" x2="397.8" y2="377" stroke="#303030" stroke-width="0.9" />
<line x1="392.8" y1="365.5" x2="397.8" y2="365.5" stroke="#303030" stroke-width="0.9" />
<line x1="395.2" y1="354" x2="397.8" y2="354" stroke="#303030" stroke-width="0.9" />
<line x1="395.2" y1="342.5" x2="397.8" y2="342.5" stroke="#303030" stroke-width="0.9" />
<line x1="395.2" y1="331" x2="397.8" y2="331" stroke="#303030" stroke-width="0.9" />
<line x1="395.2" y1="319.5" x2="397.8" y2="319.5" stroke="#303030" stroke-width="0.9" />
<line x1="392.8" y1="308" x2="397.8" y2="308" stroke="#303030" stroke-width="0.9" />
<text x="401" y="426.6" font-size="10.3" text-anchor="start" font-style="normal" font-weight="normal" fill="#262626" >5</text>
<text x="401" y="369.1" font-size="10.3" text-anchor="start" font-style="normal" font-weight="normal" fill="#262626" >10</text>
<text x="401" y="311.6" font-size="10.3" text-anchor="start" font-style="normal" font-weight="normal" fill="#262626" >15</text>
<line x1="283.3" y1="296.5" x2="408.2" y2="296.5" stroke="#303030" stroke-width="1.25" />
<polygon points="412.7,296.5 406.2,298.2 406.2,294.8" fill="#303030" stroke="none" stroke-width="1"/>
<line x1="294.33" y1="296.5" x2="294.33" y2="299.7" stroke="#303030" stroke-width="1.0" />
<line x1="305.86" y1="296.5" x2="305.86" y2="299.7" stroke="#303030" stroke-width="1.0" />
<line x1="317.39" y1="296.5" x2="317.39" y2="299.7" stroke="#303030" stroke-width="1.0" />
<line x1="328.92" y1="296.5" x2="328.92" y2="299.7" stroke="#303030" stroke-width="1.0" />
<line x1="340.45" y1="296.5" x2="340.45" y2="299.7" stroke="#303030" stroke-width="1.0" />
<line x1="351.98" y1="296.5" x2="351.98" y2="299.7" stroke="#303030" stroke-width="1.0" />
<line x1="363.51" y1="296.5" x2="363.51" y2="299.7" stroke="#303030" stroke-width="1.0" />
<line x1="375.04" y1="296.5" x2="375.04" y2="299.7" stroke="#303030" stroke-width="1.0" />
<line x1="386.57" y1="296.5" x2="386.57" y2="299.7" stroke="#303030" stroke-width="1.0" />
<line x1="398.1" y1="296.5" x2="398.1" y2="299.7" stroke="#303030" stroke-width="1.0" />
<text x="304.06" y="292.2" font-size="10.3" text-anchor="middle" font-style="normal" font-weight="normal" fill="#262626" >20</text>
<text x="327.12" y="292.2" font-size="10.3" text-anchor="middle" font-style="normal" font-weight="normal" fill="#262626" >40</text>
<text x="350.18" y="292.2" font-size="10.3" text-anchor="middle" font-style="normal" font-weight="normal" fill="#262626" >60</text>
<text x="373.24" y="292.2" font-size="10.3" text-anchor="middle" font-style="normal" font-weight="normal" fill="#262626" >80</text>
<text x="399.5" y="292.2" font-size="10.3" text-anchor="middle" font-style="normal" font-weight="normal" fill="#262626" >100</text>
<text x="279.7" y="293.7" font-size="10.4" text-anchor="end" font-style="normal" font-weight="normal" fill="#262626" ><tspan font-style="italic">y</tspan>(cm)</text>
<text x="411.8" y="309.1" font-size="10.4" text-anchor="start" font-style="normal" font-weight="normal" fill="#262626" ><tspan font-style="italic">U</tspan>(cm/s)</text>
<text x="404.7" y="325.6" font-size="10.4" text-anchor="start" font-style="normal" font-weight="normal" fill="#262626" ><tspan font-style="italic">y</tspan>(cm)</text>
<ellipse cx="286.4" cy="482.3" rx="3.15" ry="4.25" fill="#fff" stroke="#303030" stroke-width="1.0"/>
<ellipse cx="292.52" cy="482.3" rx="3.15" ry="4.25" fill="#fff" stroke="#303030" stroke-width="1.0"/>
<ellipse cx="298.64" cy="482.3" rx="3.15" ry="4.25" fill="#fff" stroke="#303030" stroke-width="1.0"/>
<ellipse cx="304.76" cy="482.3" rx="3.15" ry="4.25" fill="#fff" stroke="#303030" stroke-width="1.0"/>
<ellipse cx="310.88" cy="482.3" rx="3.15" ry="4.25" fill="#fff" stroke="#303030" stroke-width="1.0"/>
<ellipse cx="317" cy="482.3" rx="3.15" ry="4.25" fill="#fff" stroke="#303030" stroke-width="1.0"/>
<ellipse cx="323.12" cy="482.3" rx="3.15" ry="4.25" fill="#fff" stroke="#303030" stroke-width="1.0"/>
<ellipse cx="329.24" cy="482.3" rx="3.15" ry="4.25" fill="#fff" stroke="#303030" stroke-width="1.0"/>
<ellipse cx="335.36" cy="482.3" rx="3.15" ry="4.25" fill="#fff" stroke="#303030" stroke-width="1.0"/>
<ellipse cx="341.48" cy="482.3" rx="3.15" ry="4.25" fill="#fff" stroke="#303030" stroke-width="1.0"/>
<ellipse cx="347.6" cy="482.3" rx="3.15" ry="4.25" fill="#fff" stroke="#303030" stroke-width="1.0"/>
<ellipse cx="353.72" cy="482.3" rx="3.15" ry="4.25" fill="#fff" stroke="#303030" stroke-width="1.0"/>
<ellipse cx="359.84" cy="482.3" rx="3.15" ry="4.25" fill="#fff" stroke="#303030" stroke-width="1.0"/>
<ellipse cx="365.96" cy="482.3" rx="3.15" ry="4.25" fill="#fff" stroke="#303030" stroke-width="1.0"/>
<ellipse cx="372.08" cy="482.3" rx="3.15" ry="4.25" fill="#fff" stroke="#303030" stroke-width="1.0"/>
<ellipse cx="378.2" cy="482.3" rx="3.15" ry="4.25" fill="#fff" stroke="#303030" stroke-width="1.0"/>
<ellipse cx="384.32" cy="482.3" rx="3.15" ry="4.25" fill="#fff" stroke="#303030" stroke-width="1.0"/>
<ellipse cx="390.44" cy="482.3" rx="3.15" ry="4.25" fill="#fff" stroke="#303030" stroke-width="1.0"/>
<line x1="288.2" y1="484.7" x2="283.8" y2="491.3" stroke="#303030" stroke-width="1.15" />
<line x1="291.3" y1="484.7" x2="286.9" y2="491.3" stroke="#303030" stroke-width="1.15" />
<line x1="294.4" y1="484.7" x2="290" y2="491.3" stroke="#303030" stroke-width="1.15" />
<line x1="297.5" y1="484.7" x2="293.1" y2="491.3" stroke="#303030" stroke-width="1.15" />
<line x1="300.6" y1="484.7" x2="296.2" y2="491.3" stroke="#303030" stroke-width="1.15" />
<line x1="303.7" y1="484.7" x2="299.3" y2="491.3" stroke="#303030" stroke-width="1.15" />
<line x1="306.8" y1="484.7" x2="302.4" y2="491.3" stroke="#303030" stroke-width="1.15" />
<line x1="309.9" y1="484.7" x2="305.5" y2="491.3" stroke="#303030" stroke-width="1.15" />
<line x1="313" y1="484.7" x2="308.6" y2="491.3" stroke="#303030" stroke-width="1.15" />
<line x1="316.1" y1="484.7" x2="311.7" y2="491.3" stroke="#303030" stroke-width="1.15" />
<line x1="319.2" y1="484.7" x2="314.8" y2="491.3" stroke="#303030" stroke-width="1.15" />
<line x1="322.3" y1="484.7" x2="317.9" y2="491.3" stroke="#303030" stroke-width="1.15" />
<line x1="325.4" y1="484.7" x2="321" y2="491.3" stroke="#303030" stroke-width="1.15" />
<line x1="328.5" y1="484.7" x2="324.1" y2="491.3" stroke="#303030" stroke-width="1.15" />
<line x1="331.6" y1="484.7" x2="327.2" y2="491.3" stroke="#303030" stroke-width="1.15" />
<line x1="334.7" y1="484.7" x2="330.3" y2="491.3" stroke="#303030" stroke-width="1.15" />
<line x1="337.8" y1="484.7" x2="333.4" y2="491.3" stroke="#303030" stroke-width="1.15" />
<line x1="340.9" y1="484.7" x2="336.5" y2="491.3" stroke="#303030" stroke-width="1.15" />
<line x1="344" y1="484.7" x2="339.6" y2="491.3" stroke="#303030" stroke-width="1.15" />
<line x1="347.1" y1="484.7" x2="342.7" y2="491.3" stroke="#303030" stroke-width="1.15" />
<line x1="350.2" y1="484.7" x2="345.8" y2="491.3" stroke="#303030" stroke-width="1.15" />
<line x1="353.3" y1="484.7" x2="348.9" y2="491.3" stroke="#303030" stroke-width="1.15" />
<line x1="356.4" y1="484.7" x2="352" y2="491.3" stroke="#303030" stroke-width="1.15" />
<line x1="359.5" y1="484.7" x2="355.1" y2="491.3" stroke="#303030" stroke-width="1.15" />
<line x1="362.6" y1="484.7" x2="358.2" y2="491.3" stroke="#303030" stroke-width="1.15" />
<line x1="365.7" y1="484.7" x2="361.3" y2="491.3" stroke="#303030" stroke-width="1.15" />
<line x1="368.8" y1="484.7" x2="364.4" y2="491.3" stroke="#303030" stroke-width="1.15" />
<line x1="371.9" y1="484.7" x2="367.5" y2="491.3" stroke="#303030" stroke-width="1.15" />
<line x1="375" y1="484.7" x2="370.6" y2="491.3" stroke="#303030" stroke-width="1.15" />
<line x1="378.1" y1="484.7" x2="373.7" y2="491.3" stroke="#303030" stroke-width="1.15" />
<line x1="381.2" y1="484.7" x2="376.8" y2="491.3" stroke="#303030" stroke-width="1.15" />
<line x1="384.3" y1="484.7" x2="379.9" y2="491.3" stroke="#303030" stroke-width="1.15" />
<line x1="387.4" y1="484.7" x2="383" y2="491.3" stroke="#303030" stroke-width="1.15" />
<line x1="390.5" y1="484.7" x2="386.1" y2="491.3" stroke="#303030" stroke-width="1.15" />
<line x1="393.6" y1="484.7" x2="389.2" y2="491.3" stroke="#303030" stroke-width="1.15" />
<line x1="396.7" y1="484.7" x2="392.3" y2="491.3" stroke="#303030" stroke-width="1.15" />
<line x1="251.8" y1="480.3" x2="429.3" y2="480.3" stroke="#303030" stroke-width="1.4" />
<text x="233.1" y="490.1" font-size="10.4" text-anchor="start" font-style="normal" font-weight="normal" fill="#262626" letter-spacing="0.2"><tspan font-style="italic">y</tspan><tspan font-size="7.5" dy="2">0</tspan><tspan dy="-2">=0.2</tspan><tspan font-style="italic">k</tspan><tspan font-size="7.5" dy="2" font-style="italic">s</tspan></text>
<text x="302.8" y="500.3" font-size="10.4" text-anchor="start" font-style="normal" font-weight="normal" fill="#262626" letter-spacing="0.15">Gravel-bed, <tspan font-style="italic">k</tspan><tspan font-size="7.5" dy="2" font-style="italic">s</tspan><tspan dy="-2">=10 mm</tspan></text>
<rect x="275.1" y="477" width="5.6" height="7" fill="#fff"/>
<text x="275.5" y="483.9" font-size="10.3" text-anchor="start" font-style="normal" font-weight="normal" fill="#262626" >0</text>
<line x1="262" y1="478.5" x2="275.1" y2="478.5" stroke="#303030" stroke-width="1.0" />
<rect x="401" y="477" width="5.6" height="7" fill="#fff"/>
<text x="401.2" y="483.9" font-size="10.3" text-anchor="start" font-style="normal" font-weight="normal" fill="#262626" >0</text>
<line x1="269.3" y1="469.5" x2="269.3" y2="478.5" stroke="#303030" stroke-width="1.0" />
<polygon points="269.3,478.5 267.7,473.5 270.9,473.5" fill="#303030" stroke="none" stroke-width="1"/>
<line x1="269.3" y1="491.5" x2="269.3" y2="481.5" stroke="#303030" stroke-width="1.0" />
<polygon points="269.3,481.5 270.9,486.5 267.7,486.5" fill="#303030" stroke="none" stroke-width="1"/>
<line x1="405.8" y1="478.4" x2="416.2" y2="478.4" stroke="#303030" stroke-width="1.0" />
<line x1="402.5" y1="489.3" x2="416.2" y2="489.3" stroke="#303030" stroke-width="1.0" />
<line x1="410.4" y1="470.8" x2="410.4" y2="478.4" stroke="#303030" stroke-width="1.0" />
<polygon points="410.4,478.4 408.8,473.4 412,473.4" fill="#303030" stroke="none" stroke-width="1"/>
<line x1="410.4" y1="499.5" x2="410.4" y2="489.3" stroke="#303030" stroke-width="1.0" />
<polygon points="410.4,489.3 412,494.3 408.8,494.3" fill="#303030" stroke="none" stroke-width="1"/>
<line x1="410.4" y1="478.4" x2="410.4" y2="489.3" stroke="#303030" stroke-width="1.0" />
<text x="412.4" y="487.2" font-size="10" text-anchor="start" font-style="normal" font-weight="normal" fill="#262626" ><tspan font-style="italic">k</tspan><tspan font-size="7.5" dy="1.5" font-style="italic">s</tspan></text>
<line x1="283.3" y1="448.3" x2="333.3" y2="448.3" stroke="#303030" stroke-width="0.9" stroke-dasharray="4,3" />
<line x1="331.3" y1="455.2" x2="397.8" y2="455.2" stroke="#303030" stroke-width="0.9" stroke-dasharray="4,3" />
<polyline points="284.3,480.5 295.7,474.75 305.05,469 315.09,463.25 324.3,457.5 329.57,451.75 335.17,446 339.4,440.25 343.31,434.5 345.91,428.75 348.27,423 350.1,417.25 351.54,411.5 352.9,405.75 353.8,400 354.7,394.25 354.98,388.5 355.26,382.75 355.54,377 355.81,371.25 356.07,365.5 356.34,359.75 356.6,354 356.83,348.25 357.05,342.5 357.27,336.75 357.5,331 357.95,325.25 358.4,319.5" fill="none" stroke="#2a78c2" stroke-width="0.9"/>
<polyline points="284.3,480.5 308.09,474.75 322.4,469 334.26,463.25 342.3,457.5 348,451.75 351.45,446 354.7,440.25 357.25,434.5 358.97,428.75 360.63,423 361.88,417.25 362.77,411.5 363.14,405.75 363.43,400 363.54,394.25 363.65,388.5 363.77,382.75 363.88,377 364.03,371.25 364.18,365.5 364.34,359.75 364.5,354" fill="none" stroke="#e5353a" stroke-width="0.9"/>
<text x="290.1" y="376.7" font-size="10.4" text-anchor="start" font-style="normal" font-weight="normal" fill="#262626" >Outer layer</text>
<text x="344.4" y="467.5" font-size="10.4" text-anchor="start" font-style="normal" font-weight="normal" fill="#262626" >Inner layer</text>
<text x="358" y="447.1" font-size="10.4" text-anchor="start" font-style="normal" font-weight="normal" fill="#262626" ><tspan font-style="italic">y</tspan>/<tspan font-style="italic">h</tspan>=0.2</text>
<line x1="251.8" y1="319.5" x2="352.4" y2="319.5" stroke="#303030" stroke-width="1.25" />
<polygon points="356.2,319.5 350.7,321 350.7,318" fill="#303030" stroke="none" stroke-width="1"/>
<text x="318.7" y="316.1" font-size="11" text-anchor="start" font-style="normal" font-weight="normal" fill="#262626" ><tspan font-style="italic">U</tspan><tspan font-size="7.8" dy="1.4">max</tspan></text>
<polygon points="300.8,315 307.2,315 304,319.5" fill="none" stroke="#303030" stroke-width="1.1"/>
<polygon points="301.3,319.5 306.7,319.5 304,322.7" fill="#111" stroke="none" stroke-width="1"/>
<line x1="257.6" y1="319.5" x2="257.6" y2="480.5" stroke="#303030" stroke-width="0.9" />
<polygon points="257.6,480.5 256.15,474.3 259.05,474.3" fill="#303030" stroke="none" stroke-width="1"/>
<polygon points="257.6,319.5 259.05,325.7 256.15,325.7" fill="#303030" stroke="none" stroke-width="1"/>
<text x="0" y="0" font-size="11.5" text-anchor="middle" fill="#262626" transform="translate(250,408.5) rotate(-90)" dominant-baseline="central"><tspan font-style="italic">h</tspan><tspan font-size="8.5" dy="2">d</tspan></text>
<line x1="283.3" y1="354" x2="358.5" y2="354" stroke="#303030" stroke-width="1.25" />
<polygon points="362.1,354 356.6,355.5 356.6,352.5" fill="#303030" stroke="none" stroke-width="1"/>
<line x1="366.7" y1="354" x2="429.3" y2="354" stroke="#303030" stroke-width="1.25" />
<text x="325.2" y="351.3" font-size="11" text-anchor="start" font-style="normal" font-weight="normal" fill="#262626" ><tspan font-style="italic">U</tspan><tspan font-size="7.8" dy="1.4">max</tspan></text>
<polygon points="384.1,349.5 390.5,349.5 387.3,354" fill="none" stroke="#303030" stroke-width="1.1"/>
<polygon points="384.6,354 390,354 387.3,357.2" fill="#111" stroke="none" stroke-width="1"/>
<line x1="423.5" y1="354" x2="423.5" y2="480.5" stroke="#303030" stroke-width="0.9" />
<polygon points="423.5,480.5 422.05,474.3 424.95,474.3" fill="#303030" stroke="none" stroke-width="1"/>
<polygon points="423.5,354 424.95,360.2 422.05,360.2" fill="#303030" stroke="none" stroke-width="1"/>
<text x="0" y="0" font-size="11.5" text-anchor="middle" fill="#262626" transform="translate(417.1,415.9) rotate(-90)" dominant-baseline="central"><tspan font-style="italic">h</tspan><tspan font-size="8.5" dy="2">u</tspan></text>
<rect x="305.94" y="472.6" width="4.3" height="4.3" fill="#fff" fill-opacity="0.6" stroke="#e5353a" stroke-width="0.95"/>
<rect x="320.25" y="466.85" width="4.3" height="4.3" fill="#fff" fill-opacity="0.6" stroke="#e5353a" stroke-width="0.95"/>
<rect x="332.11" y="461.1" width="4.3" height="4.3" fill="#fff" fill-opacity="0.6" stroke="#e5353a" stroke-width="0.95"/>
<rect x="340.15" y="455.35" width="4.3" height="4.3" fill="#fff" fill-opacity="0.6" stroke="#e5353a" stroke-width="0.95"/>
<rect x="345.85" y="449.6" width="4.3" height="4.3" fill="#fff" fill-opacity="0.6" stroke="#e5353a" stroke-width="0.95"/>
<rect x="349.3" y="443.85" width="4.3" height="4.3" fill="#fff" fill-opacity="0.6" stroke="#e5353a" stroke-width="0.95"/>
<rect x="352.55" y="438.1" width="4.3" height="4.3" fill="#fff" fill-opacity="0.6" stroke="#e5353a" stroke-width="0.95"/>
<rect x="355.1" y="432.35" width="4.3" height="4.3" fill="#fff" fill-opacity="0.6" stroke="#e5353a" stroke-width="0.95"/>
<rect x="356.82" y="426.6" width="4.3" height="4.3" fill="#fff" fill-opacity="0.6" stroke="#e5353a" stroke-width="0.95"/>
<rect x="358.48" y="420.85" width="4.3" height="4.3" fill="#fff" fill-opacity="0.6" stroke="#e5353a" stroke-width="0.95"/>
<rect x="359.73" y="415.1" width="4.3" height="4.3" fill="#fff" fill-opacity="0.6" stroke="#e5353a" stroke-width="0.95"/>
<rect x="360.62" y="409.35" width="4.3" height="4.3" fill="#fff" fill-opacity="0.6" stroke="#e5353a" stroke-width="0.95"/>
<rect x="360.99" y="403.6" width="4.3" height="4.3" fill="#fff" fill-opacity="0.6" stroke="#e5353a" stroke-width="0.95"/>
<rect x="361.28" y="397.85" width="4.3" height="4.3" fill="#fff" fill-opacity="0.6" stroke="#e5353a" stroke-width="0.95"/>
<rect x="361.39" y="392.1" width="4.3" height="4.3" fill="#fff" fill-opacity="0.6" stroke="#e5353a" stroke-width="0.95"/>
<rect x="361.5" y="386.35" width="4.3" height="4.3" fill="#fff" fill-opacity="0.6" stroke="#e5353a" stroke-width="0.95"/>
<rect x="361.62" y="380.6" width="4.3" height="4.3" fill="#fff" fill-opacity="0.6" stroke="#e5353a" stroke-width="0.95"/>
<rect x="361.73" y="374.85" width="4.3" height="4.3" fill="#fff" fill-opacity="0.6" stroke="#e5353a" stroke-width="0.95"/>
<rect x="361.88" y="369.1" width="4.3" height="4.3" fill="#fff" fill-opacity="0.6" stroke="#e5353a" stroke-width="0.95"/>
<rect x="362.03" y="363.35" width="4.3" height="4.3" fill="#fff" fill-opacity="0.6" stroke="#e5353a" stroke-width="0.95"/>
<rect x="362.19" y="357.6" width="4.3" height="4.3" fill="#fff" fill-opacity="0.6" stroke="#e5353a" stroke-width="0.95"/>
<rect x="362.35" y="351.85" width="4.3" height="4.3" fill="#fff" fill-opacity="0.6" stroke="#e5353a" stroke-width="0.95"/>
<polygon points="295.7,471.87 292.9,476.67 298.5,476.67" fill="#9fd0f2" stroke="#2a78c2" stroke-width="0.9"/>
<polygon points="305.05,466.12 302.25,470.92 307.85,470.92" fill="#9fd0f2" stroke="#2a78c2" stroke-width="0.9"/>
<polygon points="315.09,460.37 312.29,465.17 317.89,465.17" fill="#9fd0f2" stroke="#2a78c2" stroke-width="0.9"/>
<polygon points="324.3,454.62 321.5,459.42 327.1,459.42" fill="#9fd0f2" stroke="#2a78c2" stroke-width="0.9"/>
<polygon points="329.57,448.87 326.77,453.67 332.37,453.67" fill="#9fd0f2" stroke="#2a78c2" stroke-width="0.9"/>
<polygon points="335.17,443.12 332.37,447.92 337.97,447.92" fill="#9fd0f2" stroke="#2a78c2" stroke-width="0.9"/>
<polygon points="339.4,437.37 336.6,442.17 342.2,442.17" fill="#9fd0f2" stroke="#2a78c2" stroke-width="0.9"/>
<polygon points="343.31,431.62 340.51,436.42 346.11,436.42" fill="#9fd0f2" stroke="#2a78c2" stroke-width="0.9"/>
<polygon points="345.91,425.87 343.11,430.67 348.71,430.67" fill="#9fd0f2" stroke="#2a78c2" stroke-width="0.9"/>
<polygon points="348.27,420.12 345.47,424.92 351.07,424.92" fill="#9fd0f2" stroke="#2a78c2" stroke-width="0.9"/>
<polygon points="350.1,414.37 347.3,419.17 352.9,419.17" fill="#9fd0f2" stroke="#2a78c2" stroke-width="0.9"/>
<polygon points="351.54,408.62 348.74,413.42 354.34,413.42" fill="#9fd0f2" stroke="#2a78c2" stroke-width="0.9"/>
<polygon points="352.9,402.87 350.1,407.67 355.7,407.67" fill="#9fd0f2" stroke="#2a78c2" stroke-width="0.9"/>
<polygon points="353.8,397.12 351,401.92 356.6,401.92" fill="#9fd0f2" stroke="#2a78c2" stroke-width="0.9"/>
<polygon points="354.7,391.37 351.9,396.17 357.5,396.17" fill="#9fd0f2" stroke="#2a78c2" stroke-width="0.9"/>
<polygon points="354.98,385.62 352.18,390.42 357.78,390.42" fill="#9fd0f2" stroke="#2a78c2" stroke-width="0.9"/>
<polygon points="355.26,379.87 352.46,384.67 358.06,384.67" fill="#9fd0f2" stroke="#2a78c2" stroke-width="0.9"/>
<polygon points="355.54,374.12 352.74,378.92 358.34,378.92" fill="#9fd0f2" stroke="#2a78c2" stroke-width="0.9"/>
<polygon points="355.81,368.37 353.01,373.17 358.61,373.17" fill="#9fd0f2" stroke="#2a78c2" stroke-width="0.9"/>
<polygon points="356.07,362.62 353.27,367.42 358.87,367.42" fill="#9fd0f2" stroke="#2a78c2" stroke-width="0.9"/>
<polygon points="356.34,356.87 353.54,361.67 359.14,361.67" fill="#9fd0f2" stroke="#2a78c2" stroke-width="0.9"/>
<polygon points="356.6,351.12 353.8,355.92 359.4,355.92" fill="#9fd0f2" stroke="#2a78c2" stroke-width="0.9"/>
<polygon points="356.83,345.37 354.03,350.17 359.63,350.17" fill="#9fd0f2" stroke="#2a78c2" stroke-width="0.9"/>
<polygon points="357.05,339.62 354.25,344.42 359.85,344.42" fill="#9fd0f2" stroke="#2a78c2" stroke-width="0.9"/>
<polygon points="357.27,333.87 354.47,338.67 360.07,338.67" fill="#9fd0f2" stroke="#2a78c2" stroke-width="0.9"/>
<polygon points="357.5,328.12 354.7,332.92 360.3,332.92" fill="#9fd0f2" stroke="#2a78c2" stroke-width="0.9"/>
<polygon points="357.95,322.37 355.15,327.17 360.75,327.17" fill="#9fd0f2" stroke="#2a78c2" stroke-width="0.9"/>
<polygon points="358.4,316.62 355.6,321.42 361.2,321.42" fill="#9fd0f2" stroke="#2a78c2" stroke-width="0.9"/>
<rect x="350.4" y="516.2" width="73.6" height="48.4" fill="none" stroke="#303030" stroke-width="1.2"/>
<line x1="387.3" y1="516.2" x2="387.3" y2="564.6" stroke="#303030" stroke-width="1.2" />
<line x1="350.4" y1="532.4" x2="424" y2="532.4" stroke="#303030" stroke-width="1.2" />
<line x1="350.4" y1="548.6" x2="424" y2="548.6" stroke="#303030" stroke-width="1.2" />
<text x="353.8" y="525.6" font-size="10.5" text-anchor="start" font-style="normal" font-weight="normal" fill="#262626" >Symbol</text>
<text x="391.3" y="525.6" font-size="10.5" text-anchor="start" font-style="normal" font-weight="normal" fill="#262626" >Section</text>
<line x1="361.7" y1="539.8" x2="375.6" y2="539.8" stroke="#2a78c2" stroke-width="0.9" />
<polygon points="368.8,537.16 366.2,541.56 371.4,541.56" fill="#9fd0f2" stroke="#2a78c2" stroke-width="0.9"/>
<text x="395.1" y="542.5" font-size="10.3" text-anchor="start" font-style="normal" font-weight="normal" fill="#262626" >d-d</text>
<line x1="361.3" y1="555.5" x2="375.4" y2="555.5" stroke="#e5353a" stroke-width="0.9" />
<rect x="366.5" y="553.4" width="4.2" height="4.2" fill="#fff" fill-opacity="0.6" stroke="#e5353a" stroke-width="0.95"/>
<text x="396" y="558.5" font-size="10.3" text-anchor="start" font-style="normal" font-weight="normal" fill="#262626" >u-u</text>
<text x="287.6" y="521.9" font-size="9.8" text-anchor="start" font-style="normal" font-weight="normal" fill="#262626" >TFPW</text>
<line x1="258.1" y1="539.2" x2="342.6" y2="534.6" stroke="#303030" stroke-width="1.0" />
<line x1="256.3" y1="552.5" x2="342.6" y2="552.5" stroke="#303030" stroke-width="1.0" />
<polygon points="255.7,533.9 261.7,533.9 258.7,538.9" fill="none" stroke="#303030" stroke-width="0.9"/>
<polygon points="256.7,539.1 260.7,539.1 258.7,541.7" fill="#303030" stroke="none" stroke-width="1"/>
<line x1="250.1" y1="546.6" x2="267" y2="546.6" stroke="#303030" stroke-width="0.9" />
<polygon points="267,546.6 262.5,548 262.5,545.2" fill="#303030" stroke="none" stroke-width="1"/>
<text x="268.7" y="536" font-size="10" text-anchor="start" font-style="normal" font-weight="normal" fill="#262626" >u</text>
<text x="268.7" y="560.9" font-size="10" text-anchor="start" font-style="normal" font-weight="normal" fill="#262626" >u</text>
<line x1="270.6" y1="539.5" x2="270.6" y2="552.5" stroke="#303030" stroke-width="0.9" />
<polygon points="270.6,552.5 269.4,549 271.8,549" fill="#303030" stroke="none" stroke-width="1"/>
<polygon points="270.6,539.5 271.8,543 269.4,543" fill="#303030" stroke="none" stroke-width="1"/>
<text x="325.5" y="531.5" font-size="10" text-anchor="start" font-style="normal" font-weight="normal" fill="#262626" >d</text>
<text x="325.5" y="561.8" font-size="10" text-anchor="start" font-style="normal" font-weight="normal" fill="#262626" >d</text>
<line x1="328" y1="535.2" x2="328" y2="552.5" stroke="#303030" stroke-width="0.9" />
<polygon points="328,552.5 326.8,549 329.2,549" fill="#303030" stroke="none" stroke-width="1"/>
<polygon points="328,535.2 329.2,538.7 326.8,538.7" fill="#303030" stroke="none" stroke-width="1"/>
<rect x="293.1" y="548.1" width="11.2" height="4.4" fill="none" stroke="#303030" stroke-width="0.9"/>
<polyline points="293.5,552.1 295.5,548.5 297.5,552.1 299.5,548.5 301.5,552.1 303.7,548.5" fill="none" stroke="#303030" stroke-width="0.8"/>
<line x1="293.7" y1="524.4" x2="297.6" y2="547.7" stroke="#303030" stroke-width="0.9" />
<polygon points="297.6,547.7 295.66,543.97 298.22,543.54" fill="#303030" stroke="none" stroke-width="1"/>
<text x="662" y="277.3" font-size="10.1" text-anchor="end" font-style="normal" font-weight="normal" fill="#262626" >Test 3</text>
<line x1="509.1" y1="289.1" x2="509.1" y2="484.1" stroke="#303030" stroke-width="1.25" />
<line x1="509.1" y1="289.1" x2="511.3" y2="289.1" stroke="#303030" stroke-width="1.25" />
<line x1="509.1" y1="472.6" x2="511.7" y2="472.6" stroke="#303030" stroke-width="0.9" />
<line x1="509.1" y1="461.1" x2="511.7" y2="461.1" stroke="#303030" stroke-width="0.9" />
<line x1="509.1" y1="449.6" x2="511.7" y2="449.6" stroke="#303030" stroke-width="0.9" />
<line x1="509.1" y1="438.1" x2="511.7" y2="438.1" stroke="#303030" stroke-width="0.9" />
<line x1="509.1" y1="426.6" x2="514.1" y2="426.6" stroke="#303030" stroke-width="0.9" />
<line x1="509.1" y1="415.1" x2="511.7" y2="415.1" stroke="#303030" stroke-width="0.9" />
<line x1="509.1" y1="403.6" x2="511.7" y2="403.6" stroke="#303030" stroke-width="0.9" />
<line x1="509.1" y1="392.1" x2="511.7" y2="392.1" stroke="#303030" stroke-width="0.9" />
<line x1="509.1" y1="380.6" x2="511.7" y2="380.6" stroke="#303030" stroke-width="0.9" />
<line x1="509.1" y1="369.1" x2="514.1" y2="369.1" stroke="#303030" stroke-width="0.9" />
<line x1="509.1" y1="357.6" x2="511.7" y2="357.6" stroke="#303030" stroke-width="0.9" />
<line x1="509.1" y1="346.1" x2="511.7" y2="346.1" stroke="#303030" stroke-width="0.9" />
<line x1="509.1" y1="334.6" x2="511.7" y2="334.6" stroke="#303030" stroke-width="0.9" />
<line x1="509.1" y1="323.1" x2="511.7" y2="323.1" stroke="#303030" stroke-width="0.9" />
<line x1="509.1" y1="311.6" x2="514.1" y2="311.6" stroke="#303030" stroke-width="0.9" />
<text x="505.9" y="430.2" font-size="10.3" text-anchor="end" font-style="normal" font-weight="normal" fill="#262626" >5</text>
<text x="505.9" y="372.7" font-size="10.3" text-anchor="end" font-style="normal" font-weight="normal" fill="#262626" >10</text>
<text x="505.9" y="315.2" font-size="10.3" text-anchor="end" font-style="normal" font-weight="normal" fill="#262626" >15</text>
<line x1="623.6" y1="311.6" x2="623.6" y2="484.1" stroke="#303030" stroke-width="1.25" />
<line x1="621" y1="472.6" x2="623.6" y2="472.6" stroke="#303030" stroke-width="0.9" />
<line x1="621" y1="461.1" x2="623.6" y2="461.1" stroke="#303030" stroke-width="0.9" />
<line x1="621" y1="449.6" x2="623.6" y2="449.6" stroke="#303030" stroke-width="0.9" />
<line x1="621" y1="438.1" x2="623.6" y2="438.1" stroke="#303030" stroke-width="0.9" />
<line x1="618.6" y1="426.6" x2="623.6" y2="426.6" stroke="#303030" stroke-width="0.9" />
<line x1="621" y1="415.1" x2="623.6" y2="415.1" stroke="#303030" stroke-width="0.9" />
<line x1="621" y1="403.6" x2="623.6" y2="403.6" stroke="#303030" stroke-width="0.9" />
<line x1="621" y1="392.1" x2="623.6" y2="392.1" stroke="#303030" stroke-width="0.9" />
<line x1="621" y1="380.6" x2="623.6" y2="380.6" stroke="#303030" stroke-width="0.9" />
<line x1="618.6" y1="369.1" x2="623.6" y2="369.1" stroke="#303030" stroke-width="0.9" />
<line x1="621" y1="357.6" x2="623.6" y2="357.6" stroke="#303030" stroke-width="0.9" />
<line x1="621" y1="346.1" x2="623.6" y2="346.1" stroke="#303030" stroke-width="0.9" />
<line x1="621" y1="334.6" x2="623.6" y2="334.6" stroke="#303030" stroke-width="0.9" />
<line x1="621" y1="323.1" x2="623.6" y2="323.1" stroke="#303030" stroke-width="0.9" />
<line x1="618.6" y1="311.6" x2="623.6" y2="311.6" stroke="#303030" stroke-width="0.9" />
<text x="626.8" y="430.2" font-size="10.3" text-anchor="start" font-style="normal" font-weight="normal" fill="#262626" >5</text>
<text x="626.8" y="372.7" font-size="10.3" text-anchor="start" font-style="normal" font-weight="normal" fill="#262626" >10</text>
<text x="626.8" y="315.2" font-size="10.3" text-anchor="start" font-style="normal" font-weight="normal" fill="#262626" >15</text>
<line x1="509.1" y1="300.1" x2="634.9" y2="300.1" stroke="#303030" stroke-width="1.25" />
<polygon points="639.4,300.1 632.9,301.8 632.9,298.4" fill="#303030" stroke="none" stroke-width="1"/>
<line x1="520.13" y1="300.1" x2="520.13" y2="303.3" stroke="#303030" stroke-width="1.0" />
<line x1="531.66" y1="300.1" x2="531.66" y2="303.3" stroke="#303030" stroke-width="1.0" />
<line x1="543.19" y1="300.1" x2="543.19" y2="303.3" stroke="#303030" stroke-width="1.0" />
<line x1="554.72" y1="300.1" x2="554.72" y2="303.3" stroke="#303030" stroke-width="1.0" />
<line x1="566.25" y1="300.1" x2="566.25" y2="303.3" stroke="#303030" stroke-width="1.0" />
<line x1="577.78" y1="300.1" x2="577.78" y2="303.3" stroke="#303030" stroke-width="1.0" />
<line x1="589.31" y1="300.1" x2="589.31" y2="303.3" stroke="#303030" stroke-width="1.0" />
<line x1="600.84" y1="300.1" x2="600.84" y2="303.3" stroke="#303030" stroke-width="1.0" />
<line x1="612.37" y1="300.1" x2="612.37" y2="303.3" stroke="#303030" stroke-width="1.0" />
<line x1="623.9" y1="300.1" x2="623.9" y2="303.3" stroke="#303030" stroke-width="1.0" />
<text x="529.76" y="295.8" font-size="10.3" text-anchor="middle" font-style="normal" font-weight="normal" fill="#262626" >20</text>
<text x="552.82" y="295.8" font-size="10.3" text-anchor="middle" font-style="normal" font-weight="normal" fill="#262626" >40</text>
<text x="575.88" y="295.8" font-size="10.3" text-anchor="middle" font-style="normal" font-weight="normal" fill="#262626" >60</text>
<text x="598.94" y="295.8" font-size="10.3" text-anchor="middle" font-style="normal" font-weight="normal" fill="#262626" >80</text>
<text x="625.2" y="295.8" font-size="10.3" text-anchor="middle" font-style="normal" font-weight="normal" fill="#262626" >100</text>
<text x="505.5" y="297.2" font-size="10.4" text-anchor="end" font-style="normal" font-weight="normal" fill="#262626" ><tspan font-style="italic">y</tspan>(cm)</text>
<text x="637.2" y="310.7" font-size="10.4" text-anchor="start" font-style="normal" font-weight="normal" fill="#262626" ><tspan font-style="italic">U</tspan>(cm/s)</text>
<text x="630.6" y="328.9" font-size="10.4" text-anchor="start" font-style="normal" font-weight="normal" fill="#262626" ><tspan font-style="italic">y</tspan>(cm)</text>
<ellipse cx="512.2" cy="485.9" rx="3.15" ry="4.25" fill="#fff" stroke="#303030" stroke-width="1.0"/>
<ellipse cx="518.32" cy="485.9" rx="3.15" ry="4.25" fill="#fff" stroke="#303030" stroke-width="1.0"/>
<ellipse cx="524.44" cy="485.9" rx="3.15" ry="4.25" fill="#fff" stroke="#303030" stroke-width="1.0"/>
<ellipse cx="530.56" cy="485.9" rx="3.15" ry="4.25" fill="#fff" stroke="#303030" stroke-width="1.0"/>
<ellipse cx="536.68" cy="485.9" rx="3.15" ry="4.25" fill="#fff" stroke="#303030" stroke-width="1.0"/>
<ellipse cx="542.8" cy="485.9" rx="3.15" ry="4.25" fill="#fff" stroke="#303030" stroke-width="1.0"/>
<ellipse cx="548.92" cy="485.9" rx="3.15" ry="4.25" fill="#fff" stroke="#303030" stroke-width="1.0"/>
<ellipse cx="555.04" cy="485.9" rx="3.15" ry="4.25" fill="#fff" stroke="#303030" stroke-width="1.0"/>
<ellipse cx="561.16" cy="485.9" rx="3.15" ry="4.25" fill="#fff" stroke="#303030" stroke-width="1.0"/>
<ellipse cx="567.28" cy="485.9" rx="3.15" ry="4.25" fill="#fff" stroke="#303030" stroke-width="1.0"/>
<ellipse cx="573.4" cy="485.9" rx="3.15" ry="4.25" fill="#fff" stroke="#303030" stroke-width="1.0"/>
<ellipse cx="579.52" cy="485.9" rx="3.15" ry="4.25" fill="#fff" stroke="#303030" stroke-width="1.0"/>
<ellipse cx="585.64" cy="485.9" rx="3.15" ry="4.25" fill="#fff" stroke="#303030" stroke-width="1.0"/>
<ellipse cx="591.76" cy="485.9" rx="3.15" ry="4.25" fill="#fff" stroke="#303030" stroke-width="1.0"/>
<ellipse cx="597.88" cy="485.9" rx="3.15" ry="4.25" fill="#fff" stroke="#303030" stroke-width="1.0"/>
<ellipse cx="604" cy="485.9" rx="3.15" ry="4.25" fill="#fff" stroke="#303030" stroke-width="1.0"/>
<ellipse cx="610.12" cy="485.9" rx="3.15" ry="4.25" fill="#fff" stroke="#303030" stroke-width="1.0"/>
<ellipse cx="616.24" cy="485.9" rx="3.15" ry="4.25" fill="#fff" stroke="#303030" stroke-width="1.0"/>
<line x1="514" y1="488.3" x2="509.6" y2="494.9" stroke="#303030" stroke-width="1.15" />
<line x1="517.1" y1="488.3" x2="512.7" y2="494.9" stroke="#303030" stroke-width="1.15" />
<line x1="520.2" y1="488.3" x2="515.8" y2="494.9" stroke="#303030" stroke-width="1.15" />
<line x1="523.3" y1="488.3" x2="518.9" y2="494.9" stroke="#303030" stroke-width="1.15" />
<line x1="526.4" y1="488.3" x2="522" y2="494.9" stroke="#303030" stroke-width="1.15" />
<line x1="529.5" y1="488.3" x2="525.1" y2="494.9" stroke="#303030" stroke-width="1.15" />
<line x1="532.6" y1="488.3" x2="528.2" y2="494.9" stroke="#303030" stroke-width="1.15" />
<line x1="535.7" y1="488.3" x2="531.3" y2="494.9" stroke="#303030" stroke-width="1.15" />
<line x1="538.8" y1="488.3" x2="534.4" y2="494.9" stroke="#303030" stroke-width="1.15" />
<line x1="541.9" y1="488.3" x2="537.5" y2="494.9" stroke="#303030" stroke-width="1.15" />
<line x1="545" y1="488.3" x2="540.6" y2="494.9" stroke="#303030" stroke-width="1.15" />
<line x1="548.1" y1="488.3" x2="543.7" y2="494.9" stroke="#303030" stroke-width="1.15" />
<line x1="551.2" y1="488.3" x2="546.8" y2="494.9" stroke="#303030" stroke-width="1.15" />
<line x1="554.3" y1="488.3" x2="549.9" y2="494.9" stroke="#303030" stroke-width="1.15" />
<line x1="557.4" y1="488.3" x2="553" y2="494.9" stroke="#303030" stroke-width="1.15" />
<line x1="560.5" y1="488.3" x2="556.1" y2="494.9" stroke="#303030" stroke-width="1.15" />
<line x1="563.6" y1="488.3" x2="559.2" y2="494.9" stroke="#303030" stroke-width="1.15" />
<line x1="566.7" y1="488.3" x2="562.3" y2="494.9" stroke="#303030" stroke-width="1.15" />
<line x1="569.8" y1="488.3" x2="565.4" y2="494.9" stroke="#303030" stroke-width="1.15" />
<line x1="572.9" y1="488.3" x2="568.5" y2="494.9" stroke="#303030" stroke-width="1.15" />
<line x1="576" y1="488.3" x2="571.6" y2="494.9" stroke="#303030" stroke-width="1.15" />
<line x1="579.1" y1="488.3" x2="574.7" y2="494.9" stroke="#303030" stroke-width="1.15" />
<line x1="582.2" y1="488.3" x2="577.8" y2="494.9" stroke="#303030" stroke-width="1.15" />
<line x1="585.3" y1="488.3" x2="580.9" y2="494.9" stroke="#303030" stroke-width="1.15" />
<line x1="588.4" y1="488.3" x2="584" y2="494.9" stroke="#303030" stroke-width="1.15" />
<line x1="591.5" y1="488.3" x2="587.1" y2="494.9" stroke="#303030" stroke-width="1.15" />
<line x1="594.6" y1="488.3" x2="590.2" y2="494.9" stroke="#303030" stroke-width="1.15" />
<line x1="597.7" y1="488.3" x2="593.3" y2="494.9" stroke="#303030" stroke-width="1.15" />
<line x1="600.8" y1="488.3" x2="596.4" y2="494.9" stroke="#303030" stroke-width="1.15" />
<line x1="603.9" y1="488.3" x2="599.5" y2="494.9" stroke="#303030" stroke-width="1.15" />
<line x1="607" y1="488.3" x2="602.6" y2="494.9" stroke="#303030" stroke-width="1.15" />
<line x1="610.1" y1="488.3" x2="605.7" y2="494.9" stroke="#303030" stroke-width="1.15" />
<line x1="613.2" y1="488.3" x2="608.8" y2="494.9" stroke="#303030" stroke-width="1.15" />
<line x1="616.3" y1="488.3" x2="611.9" y2="494.9" stroke="#303030" stroke-width="1.15" />
<line x1="619.4" y1="488.3" x2="615" y2="494.9" stroke="#303030" stroke-width="1.15" />
<line x1="622.5" y1="488.3" x2="618.1" y2="494.9" stroke="#303030" stroke-width="1.15" />
<line x1="477.6" y1="483.9" x2="655.1" y2="483.9" stroke="#303030" stroke-width="1.4" />
<text x="458.9" y="493.7" font-size="10.4" text-anchor="start" font-style="normal" font-weight="normal" fill="#262626" letter-spacing="0.2"><tspan font-style="italic">y</tspan><tspan font-size="7.5" dy="2">0</tspan><tspan dy="-2">=0.2</tspan><tspan font-style="italic">k</tspan><tspan font-size="7.5" dy="2" font-style="italic">s</tspan></text>
<text x="528.6" y="503.9" font-size="10.4" text-anchor="start" font-style="normal" font-weight="normal" fill="#262626" letter-spacing="0.15">Gravel-bed, <tspan font-style="italic">k</tspan><tspan font-size="7.5" dy="2" font-style="italic">s</tspan><tspan dy="-2">=10 mm</tspan></text>
<rect x="500.9" y="480.6" width="5.6" height="7" fill="#fff"/>
<text x="501.3" y="487.5" font-size="10.3" text-anchor="start" font-style="normal" font-weight="normal" fill="#262626" >0</text>
<line x1="487.8" y1="482.1" x2="500.9" y2="482.1" stroke="#303030" stroke-width="1.0" />
<rect x="626.8" y="480.6" width="5.6" height="7" fill="#fff"/>
<text x="627" y="487.5" font-size="10.3" text-anchor="start" font-style="normal" font-weight="normal" fill="#262626" >0</text>
<line x1="495.1" y1="473.1" x2="495.1" y2="482.1" stroke="#303030" stroke-width="1.0" />
<polygon points="495.1,482.1 493.5,477.1 496.7,477.1" fill="#303030" stroke="none" stroke-width="1"/>
<line x1="495.1" y1="495.1" x2="495.1" y2="485.1" stroke="#303030" stroke-width="1.0" />
<polygon points="495.1,485.1 496.7,490.1 493.5,490.1" fill="#303030" stroke="none" stroke-width="1"/>
<line x1="631.6" y1="482" x2="642" y2="482" stroke="#303030" stroke-width="1.0" />
<line x1="628.3" y1="492.9" x2="642" y2="492.9" stroke="#303030" stroke-width="1.0" />
<line x1="636.2" y1="474.4" x2="636.2" y2="482" stroke="#303030" stroke-width="1.0" />
<polygon points="636.2,482 634.6,477 637.8,477" fill="#303030" stroke="none" stroke-width="1"/>
<line x1="636.2" y1="503.1" x2="636.2" y2="492.9" stroke="#303030" stroke-width="1.0" />
<polygon points="636.2,492.9 637.8,497.9 634.6,497.9" fill="#303030" stroke="none" stroke-width="1"/>
<line x1="636.2" y1="482" x2="636.2" y2="492.9" stroke="#303030" stroke-width="1.0" />
<text x="638.2" y="490.8" font-size="10" text-anchor="start" font-style="normal" font-weight="normal" fill="#262626" ><tspan font-style="italic">k</tspan><tspan font-size="7.5" dy="1.5" font-style="italic">s</tspan></text>
<line x1="509.1" y1="454.2" x2="559.1" y2="454.2" stroke="#303030" stroke-width="0.9" stroke-dasharray="4,3" />
<line x1="557.1" y1="458.8" x2="623.6" y2="458.8" stroke="#303030" stroke-width="0.9" stroke-dasharray="4,3" />
<polyline points="510.1,484.1 516.2,478.35 522.97,472.6 529.1,466.85 534.41,461.1 539.48,455.35 543.3,449.6 546.6,443.85 549.4,438.1 551.85,432.35 554.06,426.6 555.83,420.85 557.21,415.1 558.26,409.35 559.17,403.6 560,397.85 560.68,392.1 561.11,386.35 561.55,380.6 561.95,374.85 562.19,369.1 562.43,363.35 562.68,357.6 562.82,351.85 562.94,346.1 563.07,340.35 563.12,338.05" fill="none" stroke="#2a78c2" stroke-width="0.9"/>
<polyline points="510.1,484.1 534.1,478.35 550.06,472.6 560.72,466.85 568.22,461.1 573.69,455.35 577.03,449.6 579.8,443.85 582.2,438.1 583.93,432.35 584.67,426.6 585.17,420.85 585.48,415.1 585.64,409.35 585.7,403.6 585.7,397.85 585.67,392.1 585.58,386.35 585.48,380.6 585.35,374.85 584.96,369.1 584.54,363.35 584.1,357.6" fill="none" stroke="#e5353a" stroke-width="0.9"/>
<text x="514" y="382.2" font-size="10.4" text-anchor="start" font-style="normal" font-weight="normal" fill="#262626" >Outer layer</text>
<text x="569.5" y="472.8" font-size="10.4" text-anchor="start" font-style="normal" font-weight="normal" fill="#262626" >Inner layer</text>
<text x="583.1" y="452.4" font-size="10.4" text-anchor="start" font-style="normal" font-weight="normal" fill="#262626" ><tspan font-style="italic">y</tspan>/<tspan font-style="italic">h</tspan>=0.2</text>
<line x1="477.6" y1="334.6" x2="557.12" y2="334.6" stroke="#303030" stroke-width="1.25" />
<polygon points="560.92,334.6 555.42,336.1 555.42,333.1" fill="#303030" stroke="none" stroke-width="1"/>
<text x="535.7" y="332.7" font-size="11" text-anchor="start" font-style="normal" font-weight="normal" fill="#262626" ><tspan font-style="italic">U</tspan><tspan font-size="7.8" dy="1.4">max</tspan></text>
<polygon points="525.9,330.1 532.3,330.1 529.1,334.6" fill="none" stroke="#303030" stroke-width="1.1"/>
<polygon points="526.4,334.6 531.8,334.6 529.1,337.8" fill="#111" stroke="none" stroke-width="1"/>
<line x1="483.4" y1="334.6" x2="483.4" y2="484.1" stroke="#303030" stroke-width="0.9" />
<polygon points="483.4,484.1 481.95,477.9 484.85,477.9" fill="#303030" stroke="none" stroke-width="1"/>
<polygon points="483.4,334.6 484.85,340.8 481.95,340.8" fill="#303030" stroke="none" stroke-width="1"/>
<text x="0" y="0" font-size="11.5" text-anchor="middle" fill="#262626" transform="translate(475.8,412.1) rotate(-90)" dominant-baseline="central"><tspan font-style="italic">h</tspan><tspan font-size="8.5" dy="2">d</tspan></text>
<line x1="509.1" y1="357.6" x2="581.9" y2="357.6" stroke="#303030" stroke-width="1.25" />
<line x1="586.3" y1="357.6" x2="655.1" y2="357.6" stroke="#303030" stroke-width="1.25" />
<polygon points="609.9,353.1 616.3,353.1 613.1,357.6" fill="none" stroke="#303030" stroke-width="1.1"/>
<polygon points="610.4,357.6 615.8,357.6 613.1,360.8" fill="#111" stroke="none" stroke-width="1"/>
<line x1="649.3" y1="357.6" x2="649.3" y2="484.1" stroke="#303030" stroke-width="0.9" />
<polygon points="649.3,484.1 647.85,477.9 650.75,477.9" fill="#303030" stroke="none" stroke-width="1"/>
<polygon points="649.3,357.6 650.75,363.8 647.85,363.8" fill="#303030" stroke="none" stroke-width="1"/>
<text x="0" y="0" font-size="11.5" text-anchor="middle" fill="#262626" transform="translate(642.9,419.5) rotate(-90)" dominant-baseline="central"><tspan font-style="italic">h</tspan><tspan font-size="8.5" dy="2">u</tspan></text>
<line x1="509.1" y1="405.9" x2="579.7" y2="405.9" stroke="#303030" stroke-width="1.25" />
<polygon points="583.3,405.9 577.8,407.4 577.8,404.4" fill="#303030" stroke="none" stroke-width="1"/>
<text x="533.5" y="404.1" font-size="11" text-anchor="start" font-style="normal" font-weight="normal" fill="#262626" ><tspan font-style="italic">U</tspan><tspan font-size="7.8" dy="1.4">max</tspan></text>
<line x1="623.6" y1="405.9" x2="641.6" y2="405.9" stroke="#303030" stroke-width="1.25" />
<line x1="636.5" y1="405.9" x2="636.5" y2="484.1" stroke="#303030" stroke-width="0.9" />
<polygon points="636.5,484.1 635.05,477.9 637.95,477.9" fill="#303030" stroke="none" stroke-width="1"/>
<polygon points="636.5,405.9 637.95,412.1 635.05,412.1" fill="#303030" stroke="none" stroke-width="1"/>
<text x="0" y="0" font-size="10" text-anchor="middle" fill="#262626" transform="translate(630.2,444) rotate(-90)" dominant-baseline="central"><tspan font-style="italic">h</tspan><tspan font-size="7.2" dy="1.8">Uu</tspan></text>
<rect x="531.95" y="476.2" width="4.3" height="4.3" fill="#fff" fill-opacity="0.6" stroke="#e5353a" stroke-width="0.95"/>
<rect x="547.91" y="470.45" width="4.3" height="4.3" fill="#fff" fill-opacity="0.6" stroke="#e5353a" stroke-width="0.95"/>
<rect x="558.57" y="464.7" width="4.3" height="4.3" fill="#fff" fill-opacity="0.6" stroke="#e5353a" stroke-width="0.95"/>
<rect x="566.07" y="458.95" width="4.3" height="4.3" fill="#fff" fill-opacity="0.6" stroke="#e5353a" stroke-width="0.95"/>
<rect x="571.54" y="453.2" width="4.3" height="4.3" fill="#fff" fill-opacity="0.6" stroke="#e5353a" stroke-width="0.95"/>
<rect x="574.88" y="447.45" width="4.3" height="4.3" fill="#fff" fill-opacity="0.6" stroke="#e5353a" stroke-width="0.95"/>
<rect x="577.65" y="441.7" width="4.3" height="4.3" fill="#fff" fill-opacity="0.6" stroke="#e5353a" stroke-width="0.95"/>
<rect x="580.05" y="435.95" width="4.3" height="4.3" fill="#fff" fill-opacity="0.6" stroke="#e5353a" stroke-width="0.95"/>
<rect x="581.78" y="430.2" width="4.3" height="4.3" fill="#fff" fill-opacity="0.6" stroke="#e5353a" stroke-width="0.95"/>
<rect x="582.52" y="424.45" width="4.3" height="4.3" fill="#fff" fill-opacity="0.6" stroke="#e5353a" stroke-width="0.95"/>
<rect x="583.02" y="418.7" width="4.3" height="4.3" fill="#fff" fill-opacity="0.6" stroke="#e5353a" stroke-width="0.95"/>
<rect x="583.33" y="412.95" width="4.3" height="4.3" fill="#fff" fill-opacity="0.6" stroke="#e5353a" stroke-width="0.95"/>
<rect x="583.49" y="407.2" width="4.3" height="4.3" fill="#fff" fill-opacity="0.6" stroke="#e5353a" stroke-width="0.95"/>
<rect x="583.55" y="401.45" width="4.3" height="4.3" fill="#fff" fill-opacity="0.6" stroke="#e5353a" stroke-width="0.95"/>
<rect x="583.55" y="395.7" width="4.3" height="4.3" fill="#fff" fill-opacity="0.6" stroke="#e5353a" stroke-width="0.95"/>
<rect x="583.52" y="389.95" width="4.3" height="4.3" fill="#fff" fill-opacity="0.6" stroke="#e5353a" stroke-width="0.95"/>
<rect x="583.43" y="384.2" width="4.3" height="4.3" fill="#fff" fill-opacity="0.6" stroke="#e5353a" stroke-width="0.95"/>
<rect x="583.33" y="378.45" width="4.3" height="4.3" fill="#fff" fill-opacity="0.6" stroke="#e5353a" stroke-width="0.95"/>
<rect x="583.2" y="372.7" width="4.3" height="4.3" fill="#fff" fill-opacity="0.6" stroke="#e5353a" stroke-width="0.95"/>
<rect x="582.81" y="366.95" width="4.3" height="4.3" fill="#fff" fill-opacity="0.6" stroke="#e5353a" stroke-width="0.95"/>
<rect x="582.39" y="361.2" width="4.3" height="4.3" fill="#fff" fill-opacity="0.6" stroke="#e5353a" stroke-width="0.95"/>
<rect x="581.95" y="355.45" width="4.3" height="4.3" fill="#fff" fill-opacity="0.6" stroke="#e5353a" stroke-width="0.95"/>
<polygon points="516.2,475.47 513.4,480.27 519,480.27" fill="#9fd0f2" stroke="#2a78c2" stroke-width="0.9"/>
<polygon points="522.97,469.72 520.17,474.52 525.77,474.52" fill="#9fd0f2" stroke="#2a78c2" stroke-width="0.9"/>
<polygon points="529.1,463.97 526.3,468.77 531.9,468.77" fill="#9fd0f2" stroke="#2a78c2" stroke-width="0.9"/>
<polygon points="534.41,458.22 531.61,463.02 537.21,463.02" fill="#9fd0f2" stroke="#2a78c2" stroke-width="0.9"/>
<polygon points="539.48,452.47 536.68,457.27 542.28,457.27" fill="#9fd0f2" stroke="#2a78c2" stroke-width="0.9"/>
<polygon points="543.3,446.72 540.5,451.52 546.1,451.52" fill="#9fd0f2" stroke="#2a78c2" stroke-width="0.9"/>
<polygon points="546.6,440.97 543.8,445.77 549.4,445.77" fill="#9fd0f2" stroke="#2a78c2" stroke-width="0.9"/>
<polygon points="549.4,435.22 546.6,440.02 552.2,440.02" fill="#9fd0f2" stroke="#2a78c2" stroke-width="0.9"/>
<polygon points="551.85,429.47 549.05,434.27 554.65,434.27" fill="#9fd0f2" stroke="#2a78c2" stroke-width="0.9"/>
<polygon points="554.06,423.72 551.26,428.52 556.86,428.52" fill="#9fd0f2" stroke="#2a78c2" stroke-width="0.9"/>
<polygon points="555.83,417.97 553.03,422.77 558.63,422.77" fill="#9fd0f2" stroke="#2a78c2" stroke-width="0.9"/>
<polygon points="557.21,412.22 554.41,417.02 560.01,417.02" fill="#9fd0f2" stroke="#2a78c2" stroke-width="0.9"/>
<polygon points="558.26,406.47 555.46,411.27 561.06,411.27" fill="#9fd0f2" stroke="#2a78c2" stroke-width="0.9"/>
<polygon points="559.17,400.72 556.37,405.52 561.97,405.52" fill="#9fd0f2" stroke="#2a78c2" stroke-width="0.9"/>
<polygon points="560,394.97 557.2,399.77 562.8,399.77" fill="#9fd0f2" stroke="#2a78c2" stroke-width="0.9"/>
<polygon points="560.68,389.22 557.88,394.02 563.48,394.02" fill="#9fd0f2" stroke="#2a78c2" stroke-width="0.9"/>
<polygon points="561.11,383.47 558.31,388.27 563.91,388.27" fill="#9fd0f2" stroke="#2a78c2" stroke-width="0.9"/>
<polygon points="561.55,377.72 558.75,382.52 564.35,382.52" fill="#9fd0f2" stroke="#2a78c2" stroke-width="0.9"/>
<polygon points="561.95,371.97 559.15,376.77 564.75,376.77" fill="#9fd0f2" stroke="#2a78c2" stroke-width="0.9"/>
<polygon points="562.19,366.22 559.39,371.02 564.99,371.02" fill="#9fd0f2" stroke="#2a78c2" stroke-width="0.9"/>
<polygon points="562.43,360.47 559.63,365.27 565.23,365.27" fill="#9fd0f2" stroke="#2a78c2" stroke-width="0.9"/>
<polygon points="562.68,354.72 559.88,359.52 565.48,359.52" fill="#9fd0f2" stroke="#2a78c2" stroke-width="0.9"/>
<polygon points="562.82,348.97 560.02,353.77 565.62,353.77" fill="#9fd0f2" stroke="#2a78c2" stroke-width="0.9"/>
<polygon points="562.94,343.22 560.14,348.02 565.74,348.02" fill="#9fd0f2" stroke="#2a78c2" stroke-width="0.9"/>
<polygon points="563.07,337.47 560.27,342.27 565.87,342.27" fill="#9fd0f2" stroke="#2a78c2" stroke-width="0.9"/>
<polygon points="563.12,335.17 560.32,339.97 565.92,339.97" fill="#9fd0f2" stroke="#2a78c2" stroke-width="0.9"/>
<rect x="576.2" y="519.8" width="73.6" height="48.4" fill="none" stroke="#303030" stroke-width="1.2"/>
<line x1="613.1" y1="519.8" x2="613.1" y2="568.2" stroke="#303030" stroke-width="1.2" />
<line x1="576.2" y1="536" x2="649.8" y2="536" stroke="#303030" stroke-width="1.2" />
<line x1="576.2" y1="552.2" x2="649.8" y2="552.2" stroke="#303030" stroke-width="1.2" />
<text x="579.6" y="529.2" font-size="10.5" text-anchor="start" font-style="normal" font-weight="normal" fill="#262626" >Symbol</text>
<text x="617.1" y="529.2" font-size="10.5" text-anchor="start" font-style="normal" font-weight="normal" fill="#262626" >Section</text>
<line x1="587.5" y1="543.4" x2="601.4" y2="543.4" stroke="#2a78c2" stroke-width="0.9" />
<polygon points="594.6,540.76 592,545.16 597.2,545.16" fill="#9fd0f2" stroke="#2a78c2" stroke-width="0.9"/>
<text x="620.9" y="546.1" font-size="10.3" text-anchor="start" font-style="normal" font-weight="normal" fill="#262626" >d-d</text>
<line x1="587.1" y1="559.1" x2="601.2" y2="559.1" stroke="#e5353a" stroke-width="0.9" />
<rect x="592.3" y="557" width="4.2" height="4.2" fill="#fff" fill-opacity="0.6" stroke="#e5353a" stroke-width="0.95"/>
<text x="621.8" y="562.1" font-size="10.3" text-anchor="start" font-style="normal" font-weight="normal" fill="#262626" >u-u</text>
<text x="513.4" y="525.5" font-size="9.8" text-anchor="start" font-style="normal" font-weight="normal" fill="#262626" >TFPW</text>
<line x1="483.9" y1="542.8" x2="568.4" y2="538.2" stroke="#303030" stroke-width="1.0" />
<line x1="482.1" y1="556.1" x2="568.4" y2="556.1" stroke="#303030" stroke-width="1.0" />
<polygon points="481.5,537.5 487.5,537.5 484.5,542.5" fill="none" stroke="#303030" stroke-width="0.9"/>
<polygon points="482.5,542.7 486.5,542.7 484.5,545.3" fill="#303030" stroke="none" stroke-width="1"/>
<line x1="475.9" y1="550.2" x2="492.8" y2="550.2" stroke="#303030" stroke-width="0.9" />
<polygon points="492.8,550.2 488.3,551.6 488.3,548.8" fill="#303030" stroke="none" stroke-width="1"/>
<text x="494.5" y="539.6" font-size="10" text-anchor="start" font-style="normal" font-weight="normal" fill="#262626" >u</text>
<text x="494.5" y="564.5" font-size="10" text-anchor="start" font-style="normal" font-weight="normal" fill="#262626" >u</text>
<line x1="496.4" y1="543.1" x2="496.4" y2="556.1" stroke="#303030" stroke-width="0.9" />
<polygon points="496.4,556.1 495.2,552.6 497.6,552.6" fill="#303030" stroke="none" stroke-width="1"/>
<polygon points="496.4,543.1 497.6,546.6 495.2,546.6" fill="#303030" stroke="none" stroke-width="1"/>
<text x="551.3" y="535.1" font-size="10" text-anchor="start" font-style="normal" font-weight="normal" fill="#262626" >d</text>
<text x="551.3" y="565.4" font-size="10" text-anchor="start" font-style="normal" font-weight="normal" fill="#262626" >d</text>
<line x1="553.8" y1="538.8" x2="553.8" y2="556.1" stroke="#303030" stroke-width="0.9" />
<polygon points="553.8,556.1 552.6,552.6 555,552.6" fill="#303030" stroke="none" stroke-width="1"/>
<polygon points="553.8,538.8 555,542.3 552.6,542.3" fill="#303030" stroke="none" stroke-width="1"/>
<rect x="518.9" y="551.7" width="11.2" height="4.4" fill="none" stroke="#303030" stroke-width="0.9"/>
<polyline points="519.3,555.7 521.3,552.1 523.3,555.7 525.3,552.1 527.3,555.7 529.5,552.1" fill="none" stroke="#303030" stroke-width="0.8"/>
<line x1="519.5" y1="528" x2="523.4" y2="551.3" stroke="#303030" stroke-width="0.9" />
<polygon points="523.4,551.3 521.46,547.57 524.02,547.14" fill="#303030" stroke="none" stroke-width="1"/>
<text x="205.2" y="601.7" font-size="10.1" text-anchor="end" font-style="normal" font-weight="normal" fill="#262626" >Test 4</text>
<line x1="52.5" y1="613.2" x2="52.5" y2="808.2" stroke="#303030" stroke-width="1.25" />
<line x1="52.5" y1="613.2" x2="54.7" y2="613.2" stroke="#303030" stroke-width="1.25" />
<line x1="52.5" y1="796.7" x2="55.1" y2="796.7" stroke="#303030" stroke-width="0.9" />
<line x1="52.5" y1="785.2" x2="55.1" y2="785.2" stroke="#303030" stroke-width="0.9" />
<line x1="52.5" y1="773.7" x2="55.1" y2="773.7" stroke="#303030" stroke-width="0.9" />
<line x1="52.5" y1="762.2" x2="55.1" y2="762.2" stroke="#303030" stroke-width="0.9" />
<line x1="52.5" y1="750.7" x2="57.5" y2="750.7" stroke="#303030" stroke-width="0.9" />
<line x1="52.5" y1="739.2" x2="55.1" y2="739.2" stroke="#303030" stroke-width="0.9" />
<line x1="52.5" y1="727.7" x2="55.1" y2="727.7" stroke="#303030" stroke-width="0.9" />
<line x1="52.5" y1="716.2" x2="55.1" y2="716.2" stroke="#303030" stroke-width="0.9" />
<line x1="52.5" y1="704.7" x2="55.1" y2="704.7" stroke="#303030" stroke-width="0.9" />
<line x1="52.5" y1="693.2" x2="57.5" y2="693.2" stroke="#303030" stroke-width="0.9" />
<line x1="52.5" y1="681.7" x2="55.1" y2="681.7" stroke="#303030" stroke-width="0.9" />
<line x1="52.5" y1="670.2" x2="55.1" y2="670.2" stroke="#303030" stroke-width="0.9" />
<line x1="52.5" y1="658.7" x2="55.1" y2="658.7" stroke="#303030" stroke-width="0.9" />
<line x1="52.5" y1="647.2" x2="55.1" y2="647.2" stroke="#303030" stroke-width="0.9" />
<line x1="52.5" y1="635.7" x2="57.5" y2="635.7" stroke="#303030" stroke-width="0.9" />
<text x="49.3" y="754.3" font-size="10.3" text-anchor="end" font-style="normal" font-weight="normal" fill="#262626" >5</text>
<text x="49.3" y="696.8" font-size="10.3" text-anchor="end" font-style="normal" font-weight="normal" fill="#262626" >10</text>
<text x="49.3" y="639.3" font-size="10.3" text-anchor="end" font-style="normal" font-weight="normal" fill="#262626" >15</text>
<line x1="167" y1="635.7" x2="167" y2="808.2" stroke="#303030" stroke-width="1.25" />
<line x1="164.4" y1="796.7" x2="167" y2="796.7" stroke="#303030" stroke-width="0.9" />
<line x1="164.4" y1="785.2" x2="167" y2="785.2" stroke="#303030" stroke-width="0.9" />
<line x1="164.4" y1="773.7" x2="167" y2="773.7" stroke="#303030" stroke-width="0.9" />
<line x1="164.4" y1="762.2" x2="167" y2="762.2" stroke="#303030" stroke-width="0.9" />
<line x1="162" y1="750.7" x2="167" y2="750.7" stroke="#303030" stroke-width="0.9" />
<line x1="164.4" y1="739.2" x2="167" y2="739.2" stroke="#303030" stroke-width="0.9" />
<line x1="164.4" y1="727.7" x2="167" y2="727.7" stroke="#303030" stroke-width="0.9" />
<line x1="164.4" y1="716.2" x2="167" y2="716.2" stroke="#303030" stroke-width="0.9" />
<line x1="164.4" y1="704.7" x2="167" y2="704.7" stroke="#303030" stroke-width="0.9" />
<line x1="162" y1="693.2" x2="167" y2="693.2" stroke="#303030" stroke-width="0.9" />
<line x1="164.4" y1="681.7" x2="167" y2="681.7" stroke="#303030" stroke-width="0.9" />
<line x1="164.4" y1="670.2" x2="167" y2="670.2" stroke="#303030" stroke-width="0.9" />
<line x1="164.4" y1="658.7" x2="167" y2="658.7" stroke="#303030" stroke-width="0.9" />
<line x1="164.4" y1="647.2" x2="167" y2="647.2" stroke="#303030" stroke-width="0.9" />
<line x1="162" y1="635.7" x2="167" y2="635.7" stroke="#303030" stroke-width="0.9" />
<text x="170.2" y="754.3" font-size="10.3" text-anchor="start" font-style="normal" font-weight="normal" fill="#262626" >5</text>
<text x="170.2" y="696.8" font-size="10.3" text-anchor="start" font-style="normal" font-weight="normal" fill="#262626" >10</text>
<text x="170.2" y="639.3" font-size="10.3" text-anchor="start" font-style="normal" font-weight="normal" fill="#262626" >15</text>
<line x1="52.5" y1="624.2" x2="181.3" y2="624.2" stroke="#303030" stroke-width="1.25" />
<polygon points="185.8,624.2 179.3,625.9 179.3,622.5" fill="#303030" stroke="none" stroke-width="1"/>
<line x1="63.53" y1="624.2" x2="63.53" y2="627.4" stroke="#303030" stroke-width="1.0" />
<line x1="75.06" y1="624.2" x2="75.06" y2="627.4" stroke="#303030" stroke-width="1.0" />
<line x1="86.59" y1="624.2" x2="86.59" y2="627.4" stroke="#303030" stroke-width="1.0" />
<line x1="98.12" y1="624.2" x2="98.12" y2="627.4" stroke="#303030" stroke-width="1.0" />
<line x1="109.65" y1="624.2" x2="109.65" y2="627.4" stroke="#303030" stroke-width="1.0" />
<line x1="121.18" y1="624.2" x2="121.18" y2="627.4" stroke="#303030" stroke-width="1.0" />
<line x1="132.71" y1="624.2" x2="132.71" y2="627.4" stroke="#303030" stroke-width="1.0" />
<line x1="144.24" y1="624.2" x2="144.24" y2="627.4" stroke="#303030" stroke-width="1.0" />
<line x1="155.77" y1="624.2" x2="155.77" y2="627.4" stroke="#303030" stroke-width="1.0" />
<line x1="167.3" y1="624.2" x2="167.3" y2="627.4" stroke="#303030" stroke-width="1.0" />
<text x="73.86" y="619.9" font-size="10.3" text-anchor="middle" font-style="normal" font-weight="normal" fill="#262626" >20</text>
<text x="96.92" y="619.9" font-size="10.3" text-anchor="middle" font-style="normal" font-weight="normal" fill="#262626" >40</text>
<text x="119.98" y="619.9" font-size="10.3" text-anchor="middle" font-style="normal" font-weight="normal" fill="#262626" >60</text>
<text x="143.04" y="619.9" font-size="10.3" text-anchor="middle" font-style="normal" font-weight="normal" fill="#262626" >80</text>
<text x="169.3" y="619.9" font-size="10.3" text-anchor="middle" font-style="normal" font-weight="normal" fill="#262626" >100</text>
<text x="49.8" y="620.6" font-size="10.4" text-anchor="end" font-style="normal" font-weight="normal" fill="#262626" ><tspan font-style="italic">y</tspan>(cm)</text>
<text x="180" y="633.7" font-size="10.4" text-anchor="start" font-style="normal" font-weight="normal" fill="#262626" ><tspan font-style="italic">U</tspan>(cm/s)</text>
<text x="172.9" y="651.5" font-size="10.4" text-anchor="start" font-style="normal" font-weight="normal" fill="#262626" ><tspan font-style="italic">y</tspan>(cm)</text>
<ellipse cx="55.6" cy="810" rx="3.15" ry="4.25" fill="#fff" stroke="#303030" stroke-width="1.0"/>
<ellipse cx="61.72" cy="810" rx="3.15" ry="4.25" fill="#fff" stroke="#303030" stroke-width="1.0"/>
<ellipse cx="67.84" cy="810" rx="3.15" ry="4.25" fill="#fff" stroke="#303030" stroke-width="1.0"/>
<ellipse cx="73.96" cy="810" rx="3.15" ry="4.25" fill="#fff" stroke="#303030" stroke-width="1.0"/>
<ellipse cx="80.08" cy="810" rx="3.15" ry="4.25" fill="#fff" stroke="#303030" stroke-width="1.0"/>
<ellipse cx="86.2" cy="810" rx="3.15" ry="4.25" fill="#fff" stroke="#303030" stroke-width="1.0"/>
<ellipse cx="92.32" cy="810" rx="3.15" ry="4.25" fill="#fff" stroke="#303030" stroke-width="1.0"/>
<ellipse cx="98.44" cy="810" rx="3.15" ry="4.25" fill="#fff" stroke="#303030" stroke-width="1.0"/>
<ellipse cx="104.56" cy="810" rx="3.15" ry="4.25" fill="#fff" stroke="#303030" stroke-width="1.0"/>
<ellipse cx="110.68" cy="810" rx="3.15" ry="4.25" fill="#fff" stroke="#303030" stroke-width="1.0"/>
<ellipse cx="116.8" cy="810" rx="3.15" ry="4.25" fill="#fff" stroke="#303030" stroke-width="1.0"/>
<ellipse cx="122.92" cy="810" rx="3.15" ry="4.25" fill="#fff" stroke="#303030" stroke-width="1.0"/>
<ellipse cx="129.04" cy="810" rx="3.15" ry="4.25" fill="#fff" stroke="#303030" stroke-width="1.0"/>
<ellipse cx="135.16" cy="810" rx="3.15" ry="4.25" fill="#fff" stroke="#303030" stroke-width="1.0"/>
<ellipse cx="141.28" cy="810" rx="3.15" ry="4.25" fill="#fff" stroke="#303030" stroke-width="1.0"/>
<ellipse cx="147.4" cy="810" rx="3.15" ry="4.25" fill="#fff" stroke="#303030" stroke-width="1.0"/>
<ellipse cx="153.52" cy="810" rx="3.15" ry="4.25" fill="#fff" stroke="#303030" stroke-width="1.0"/>
<ellipse cx="159.64" cy="810" rx="3.15" ry="4.25" fill="#fff" stroke="#303030" stroke-width="1.0"/>
<line x1="57.4" y1="812.4" x2="53" y2="819" stroke="#303030" stroke-width="1.15" />
<line x1="60.5" y1="812.4" x2="56.1" y2="819" stroke="#303030" stroke-width="1.15" />
<line x1="63.6" y1="812.4" x2="59.2" y2="819" stroke="#303030" stroke-width="1.15" />
<line x1="66.7" y1="812.4" x2="62.3" y2="819" stroke="#303030" stroke-width="1.15" />
<line x1="69.8" y1="812.4" x2="65.4" y2="819" stroke="#303030" stroke-width="1.15" />
<line x1="72.9" y1="812.4" x2="68.5" y2="819" stroke="#303030" stroke-width="1.15" />
<line x1="76" y1="812.4" x2="71.6" y2="819" stroke="#303030" stroke-width="1.15" />
<line x1="79.1" y1="812.4" x2="74.7" y2="819" stroke="#303030" stroke-width="1.15" />
<line x1="82.2" y1="812.4" x2="77.8" y2="819" stroke="#303030" stroke-width="1.15" />
<line x1="85.3" y1="812.4" x2="80.9" y2="819" stroke="#303030" stroke-width="1.15" />
<line x1="88.4" y1="812.4" x2="84" y2="819" stroke="#303030" stroke-width="1.15" />
<line x1="91.5" y1="812.4" x2="87.1" y2="819" stroke="#303030" stroke-width="1.15" />
<line x1="94.6" y1="812.4" x2="90.2" y2="819" stroke="#303030" stroke-width="1.15" />
<line x1="97.7" y1="812.4" x2="93.3" y2="819" stroke="#303030" stroke-width="1.15" />
<line x1="100.8" y1="812.4" x2="96.4" y2="819" stroke="#303030" stroke-width="1.15" />
<line x1="103.9" y1="812.4" x2="99.5" y2="819" stroke="#303030" stroke-width="1.15" />
<line x1="107" y1="812.4" x2="102.6" y2="819" stroke="#303030" stroke-width="1.15" />
<line x1="110.1" y1="812.4" x2="105.7" y2="819" stroke="#303030" stroke-width="1.15" />
<line x1="113.2" y1="812.4" x2="108.8" y2="819" stroke="#303030" stroke-width="1.15" />
<line x1="116.3" y1="812.4" x2="111.9" y2="819" stroke="#303030" stroke-width="1.15" />
<line x1="119.4" y1="812.4" x2="115" y2="819" stroke="#303030" stroke-width="1.15" />
<line x1="122.5" y1="812.4" x2="118.1" y2="819" stroke="#303030" stroke-width="1.15" />
<line x1="125.6" y1="812.4" x2="121.2" y2="819" stroke="#303030" stroke-width="1.15" />
<line x1="128.7" y1="812.4" x2="124.3" y2="819" stroke="#303030" stroke-width="1.15" />
<line x1="131.8" y1="812.4" x2="127.4" y2="819" stroke="#303030" stroke-width="1.15" />
<line x1="134.9" y1="812.4" x2="130.5" y2="819" stroke="#303030" stroke-width="1.15" />
<line x1="138" y1="812.4" x2="133.6" y2="819" stroke="#303030" stroke-width="1.15" />
<line x1="141.1" y1="812.4" x2="136.7" y2="819" stroke="#303030" stroke-width="1.15" />
<line x1="144.2" y1="812.4" x2="139.8" y2="819" stroke="#303030" stroke-width="1.15" />
<line x1="147.3" y1="812.4" x2="142.9" y2="819" stroke="#303030" stroke-width="1.15" />
<line x1="150.4" y1="812.4" x2="146" y2="819" stroke="#303030" stroke-width="1.15" />
<line x1="153.5" y1="812.4" x2="149.1" y2="819" stroke="#303030" stroke-width="1.15" />
<line x1="156.6" y1="812.4" x2="152.2" y2="819" stroke="#303030" stroke-width="1.15" />
<line x1="159.7" y1="812.4" x2="155.3" y2="819" stroke="#303030" stroke-width="1.15" />
<line x1="162.8" y1="812.4" x2="158.4" y2="819" stroke="#303030" stroke-width="1.15" />
<line x1="165.9" y1="812.4" x2="161.5" y2="819" stroke="#303030" stroke-width="1.15" />
<line x1="21" y1="808" x2="198.5" y2="808" stroke="#303030" stroke-width="1.4" />
<text x="2.3" y="817.8" font-size="10.4" text-anchor="start" font-style="normal" font-weight="normal" fill="#262626" letter-spacing="0.2"><tspan font-style="italic">y</tspan><tspan font-size="7.5" dy="2">0</tspan><tspan dy="-2">=0.2</tspan><tspan font-style="italic">k</tspan><tspan font-size="7.5" dy="2" font-style="italic">s</tspan></text>
<text x="72" y="828" font-size="10.4" text-anchor="start" font-style="normal" font-weight="normal" fill="#262626" letter-spacing="0.15">Gravel-bed, <tspan font-style="italic">k</tspan><tspan font-size="7.5" dy="2" font-style="italic">s</tspan><tspan dy="-2">=10 mm</tspan></text>
<rect x="44.3" y="804.7" width="5.6" height="7" fill="#fff"/>
<text x="44.7" y="811.6" font-size="10.3" text-anchor="start" font-style="normal" font-weight="normal" fill="#262626" >0</text>
<line x1="31.2" y1="806.2" x2="44.3" y2="806.2" stroke="#303030" stroke-width="1.0" />
<rect x="170.2" y="804.7" width="5.6" height="7" fill="#fff"/>
<text x="170.4" y="811.6" font-size="10.3" text-anchor="start" font-style="normal" font-weight="normal" fill="#262626" >0</text>
<line x1="38.5" y1="797.2" x2="38.5" y2="806.2" stroke="#303030" stroke-width="1.0" />
<polygon points="38.5,806.2 36.9,801.2 40.1,801.2" fill="#303030" stroke="none" stroke-width="1"/>
<line x1="38.5" y1="819.2" x2="38.5" y2="809.2" stroke="#303030" stroke-width="1.0" />
<polygon points="38.5,809.2 40.1,814.2 36.9,814.2" fill="#303030" stroke="none" stroke-width="1"/>
<line x1="175" y1="806.1" x2="185.4" y2="806.1" stroke="#303030" stroke-width="1.0" />
<line x1="171.7" y1="817" x2="185.4" y2="817" stroke="#303030" stroke-width="1.0" />
<line x1="179.6" y1="798.5" x2="179.6" y2="806.1" stroke="#303030" stroke-width="1.0" />
<polygon points="179.6,806.1 178,801.1 181.2,801.1" fill="#303030" stroke="none" stroke-width="1"/>
<line x1="179.6" y1="827.2" x2="179.6" y2="817" stroke="#303030" stroke-width="1.0" />
<polygon points="179.6,817 181.2,822 178,822" fill="#303030" stroke="none" stroke-width="1"/>
<line x1="179.6" y1="806.1" x2="179.6" y2="817" stroke="#303030" stroke-width="1.0" />
<text x="181.6" y="814.9" font-size="10" text-anchor="start" font-style="normal" font-weight="normal" fill="#262626" ><tspan font-style="italic">k</tspan><tspan font-size="7.5" dy="1.5" font-style="italic">s</tspan></text>
<line x1="52.5" y1="780.6" x2="102.5" y2="780.6" stroke="#303030" stroke-width="0.9" stroke-dasharray="4,3" />
<line x1="100.5" y1="782.9" x2="167" y2="782.9" stroke="#303030" stroke-width="0.9" stroke-dasharray="4,3" />
<polyline points="53.5,808.2 64.11,802.45 73.31,796.7 81.63,790.95 88.04,785.2 92.45,779.45 95.9,773.7 98.4,767.95 100.57,762.2 101.91,756.45 102.84,750.7 103.49,744.95 103.86,739.2 104,733.45 104.01,727.7 103.75,721.95 103.44,716.2 103.03,710.45 102.55,704.7 101.81,698.95 101.06,693.2 100.09,687.45 99.1,681.7 97.65,675.95 96.2,670.2" fill="none" stroke="#2a78c2" stroke-width="0.9"/>
<polyline points="53.5,808.2 77.23,802.45 93.33,796.7 103.45,790.95 109.71,785.2 114.55,779.45 117.09,773.7 119.23,767.95 120.96,762.2 122.21,756.45 122.9,750.7 123.1,744.95 123.04,739.2 122.53,733.45 121.94,727.7 121.16,721.95 120.37,716.2 119.55,710.45 118.65,704.7 117.37,698.95 116.1,693.2 114.45,687.45 112.8,681.7" fill="none" stroke="#e5353a" stroke-width="0.9"/>
<text x="53.4" y="713" font-size="10.4" text-anchor="start" font-style="normal" font-weight="normal" fill="#262626" >Outer layer</text>
<text x="113.2" y="795.9" font-size="10.4" text-anchor="start" font-style="normal" font-weight="normal" fill="#262626" >Inner layer</text>
<text x="122.4" y="779.9" font-size="10.4" text-anchor="start" font-style="normal" font-weight="normal" fill="#262626" ><tspan font-style="italic">y</tspan>/<tspan font-style="italic">h</tspan>=0.2</text>
<line x1="20.6" y1="670.2" x2="94.2" y2="670.2" stroke="#303030" stroke-width="1.25" />
<polygon points="68.7,665.7 75.1,665.7 71.9,670.2" fill="none" stroke="#303030" stroke-width="1.1"/>
<polygon points="69.2,670.2 74.6,670.2 71.9,673.4" fill="#111" stroke="none" stroke-width="1"/>
<line x1="26.8" y1="670.2" x2="26.8" y2="808.2" stroke="#303030" stroke-width="0.9" />
<polygon points="26.8,808.2 25.35,802 28.25,802" fill="#303030" stroke="none" stroke-width="1"/>
<polygon points="26.8,670.2 28.25,676.4 25.35,676.4" fill="#303030" stroke="none" stroke-width="1"/>
<text x="0" y="0" font-size="11.5" text-anchor="middle" fill="#262626" transform="translate(19.2,736.2) rotate(-90)" dominant-baseline="central"><tspan font-style="italic">h</tspan><tspan font-size="8.5" dy="2">d</tspan></text>
<line x1="115" y1="681.7" x2="198.5" y2="681.7" stroke="#303030" stroke-width="1.25" />
<polygon points="152.5,677.2 158.9,677.2 155.7,681.7" fill="none" stroke="#303030" stroke-width="1.1"/>
<polygon points="153,681.7 158.4,681.7 155.7,684.9" fill="#111" stroke="none" stroke-width="1"/>
<line x1="192.7" y1="681.7" x2="192.7" y2="808.2" stroke="#303030" stroke-width="0.9" />
<polygon points="192.7,808.2 191.25,802 194.15,802" fill="#303030" stroke="none" stroke-width="1"/>
<polygon points="192.7,681.7 194.15,687.9 191.25,687.9" fill="#303030" stroke="none" stroke-width="1"/>
<text x="0" y="0" font-size="11.5" text-anchor="middle" fill="#262626" transform="translate(186.3,743.6) rotate(-90)" dominant-baseline="central"><tspan font-style="italic">h</tspan><tspan font-size="8.5" dy="2">u</tspan></text>
<line x1="36.7" y1="729.66" x2="98.1" y2="729.66" stroke="#303030" stroke-width="1.25" />
<polygon points="101.9,729.66 96.4,731.16 96.4,728.16" fill="#303030" stroke="none" stroke-width="1"/>
<text x="75.6" y="726.16" font-size="11" text-anchor="start" font-style="normal" font-weight="normal" fill="#262626" ><tspan font-style="italic">U</tspan><tspan font-size="7.8" dy="1.4">max</tspan></text>
<line x1="42.4" y1="729.66" x2="42.4" y2="808.2" stroke="#303030" stroke-width="0.9" />
<polygon points="42.4,808.2 40.95,802 43.85,802" fill="#303030" stroke="none" stroke-width="1"/>
<polygon points="42.4,729.66 43.85,735.86 40.95,735.86" fill="#303030" stroke="none" stroke-width="1"/>
<text x="0" y="0" font-size="10" text-anchor="middle" fill="#262626" transform="translate(36.9,768.93) rotate(-90)" dominant-baseline="central"><tspan font-style="italic">h</tspan><tspan font-size="7.2" dy="1.8">Ud</tspan></text>
<line x1="52.5" y1="741.5" x2="117.1" y2="741.5" stroke="#303030" stroke-width="1.25" />
<polygon points="120.7,741.5 115.2,743 115.2,740" fill="#303030" stroke="none" stroke-width="1"/>
<text x="80.7" y="738.9" font-size="11" text-anchor="start" font-style="normal" font-weight="normal" fill="#262626" ><tspan font-style="italic">U</tspan><tspan font-size="7.8" dy="1.4">max</tspan></text>
<line x1="167" y1="741.5" x2="181" y2="741.5" stroke="#303030" stroke-width="1.25" />
<line x1="179.2" y1="741.5" x2="179.2" y2="808.2" stroke="#303030" stroke-width="0.9" />
<polygon points="179.2,808.2 177.75,802 180.65,802" fill="#303030" stroke="none" stroke-width="1"/>
<polygon points="179.2,741.5 180.65,747.7 177.75,747.7" fill="#303030" stroke="none" stroke-width="1"/>
<text x="0" y="0" font-size="10" text-anchor="middle" fill="#262626" transform="translate(172.9,773.85) rotate(-90)" dominant-baseline="central"><tspan font-style="italic">h</tspan><tspan font-size="7.2" dy="1.8">Uu</tspan></text>
<rect x="75.08" y="800.3" width="4.3" height="4.3" fill="#fff" fill-opacity="0.6" stroke="#e5353a" stroke-width="0.95"/>
<rect x="91.18" y="794.55" width="4.3" height="4.3" fill="#fff" fill-opacity="0.6" stroke="#e5353a" stroke-width="0.95"/>
<rect x="101.3" y="788.8" width="4.3" height="4.3" fill="#fff" fill-opacity="0.6" stroke="#e5353a" stroke-width="0.95"/>
<rect x="107.56" y="783.05" width="4.3" height="4.3" fill="#fff" fill-opacity="0.6" stroke="#e5353a" stroke-width="0.95"/>
<rect x="112.4" y="777.3" width="4.3" height="4.3" fill="#fff" fill-opacity="0.6" stroke="#e5353a" stroke-width="0.95"/>
<rect x="114.94" y="771.55" width="4.3" height="4.3" fill="#fff" fill-opacity="0.6" stroke="#e5353a" stroke-width="0.95"/>
<rect x="117.08" y="765.8" width="4.3" height="4.3" fill="#fff" fill-opacity="0.6" stroke="#e5353a" stroke-width="0.95"/>
<rect x="118.81" y="760.05" width="4.3" height="4.3" fill="#fff" fill-opacity="0.6" stroke="#e5353a" stroke-width="0.95"/>
<rect x="120.06" y="754.3" width="4.3" height="4.3" fill="#fff" fill-opacity="0.6" stroke="#e5353a" stroke-width="0.95"/>
<rect x="120.75" y="748.55" width="4.3" height="4.3" fill="#fff" fill-opacity="0.6" stroke="#e5353a" stroke-width="0.95"/>
<rect x="120.95" y="742.8" width="4.3" height="4.3" fill="#fff" fill-opacity="0.6" stroke="#e5353a" stroke-width="0.95"/>
<rect x="120.89" y="737.05" width="4.3" height="4.3" fill="#fff" fill-opacity="0.6" stroke="#e5353a" stroke-width="0.95"/>
<rect x="120.38" y="731.3" width="4.3" height="4.3" fill="#fff" fill-opacity="0.6" stroke="#e5353a" stroke-width="0.95"/>
<rect x="119.79" y="725.55" width="4.3" height="4.3" fill="#fff" fill-opacity="0.6" stroke="#e5353a" stroke-width="0.95"/>
<rect x="119.01" y="719.8" width="4.3" height="4.3" fill="#fff" fill-opacity="0.6" stroke="#e5353a" stroke-width="0.95"/>
<rect x="118.22" y="714.05" width="4.3" height="4.3" fill="#fff" fill-opacity="0.6" stroke="#e5353a" stroke-width="0.95"/>
<rect x="117.4" y="708.3" width="4.3" height="4.3" fill="#fff" fill-opacity="0.6" stroke="#e5353a" stroke-width="0.95"/>
<rect x="116.5" y="702.55" width="4.3" height="4.3" fill="#fff" fill-opacity="0.6" stroke="#e5353a" stroke-width="0.95"/>
<rect x="115.22" y="696.8" width="4.3" height="4.3" fill="#fff" fill-opacity="0.6" stroke="#e5353a" stroke-width="0.95"/>
<rect x="113.95" y="691.05" width="4.3" height="4.3" fill="#fff" fill-opacity="0.6" stroke="#e5353a" stroke-width="0.95"/>
<rect x="112.3" y="685.3" width="4.3" height="4.3" fill="#fff" fill-opacity="0.6" stroke="#e5353a" stroke-width="0.95"/>
<rect x="110.65" y="679.55" width="4.3" height="4.3" fill="#fff" fill-opacity="0.6" stroke="#e5353a" stroke-width="0.95"/>
<polygon points="64.11,799.57 61.31,804.37 66.91,804.37" fill="#9fd0f2" stroke="#2a78c2" stroke-width="0.9"/>
<polygon points="73.31,793.82 70.51,798.62 76.11,798.62" fill="#9fd0f2" stroke="#2a78c2" stroke-width="0.9"/>
<polygon points="81.63,788.07 78.83,792.87 84.43,792.87" fill="#9fd0f2" stroke="#2a78c2" stroke-width="0.9"/>
<polygon points="88.04,782.32 85.24,787.12 90.84,787.12" fill="#9fd0f2" stroke="#2a78c2" stroke-width="0.9"/>
<polygon points="92.45,776.57 89.65,781.37 95.25,781.37" fill="#9fd0f2" stroke="#2a78c2" stroke-width="0.9"/>
<polygon points="95.9,770.82 93.1,775.62 98.7,775.62" fill="#9fd0f2" stroke="#2a78c2" stroke-width="0.9"/>
<polygon points="98.4,765.07 95.6,769.87 101.2,769.87" fill="#9fd0f2" stroke="#2a78c2" stroke-width="0.9"/>
<polygon points="100.57,759.32 97.77,764.12 103.37,764.12" fill="#9fd0f2" stroke="#2a78c2" stroke-width="0.9"/>
<polygon points="101.91,753.57 99.11,758.37 104.71,758.37" fill="#9fd0f2" stroke="#2a78c2" stroke-width="0.9"/>
<polygon points="102.84,747.82 100.04,752.62 105.64,752.62" fill="#9fd0f2" stroke="#2a78c2" stroke-width="0.9"/>
<polygon points="103.49,742.07 100.69,746.87 106.29,746.87" fill="#9fd0f2" stroke="#2a78c2" stroke-width="0.9"/>
<polygon points="103.86,736.32 101.06,741.12 106.66,741.12" fill="#9fd0f2" stroke="#2a78c2" stroke-width="0.9"/>
<polygon points="104,730.57 101.2,735.37 106.8,735.37" fill="#9fd0f2" stroke="#2a78c2" stroke-width="0.9"/>
<polygon points="104.01,724.82 101.21,729.62 106.81,729.62" fill="#9fd0f2" stroke="#2a78c2" stroke-width="0.9"/>
<polygon points="103.75,719.07 100.95,723.87 106.55,723.87" fill="#9fd0f2" stroke="#2a78c2" stroke-width="0.9"/>
<polygon points="103.44,713.32 100.64,718.12 106.24,718.12" fill="#9fd0f2" stroke="#2a78c2" stroke-width="0.9"/>
<polygon points="103.03,707.57 100.23,712.37 105.83,712.37" fill="#9fd0f2" stroke="#2a78c2" stroke-width="0.9"/>
<polygon points="102.55,701.82 99.75,706.62 105.35,706.62" fill="#9fd0f2" stroke="#2a78c2" stroke-width="0.9"/>
<polygon points="101.81,696.07 99.01,700.87 104.61,700.87" fill="#9fd0f2" stroke="#2a78c2" stroke-width="0.9"/>
<polygon points="101.06,690.32 98.26,695.12 103.86,695.12" fill="#9fd0f2" stroke="#2a78c2" stroke-width="0.9"/>
<polygon points="100.09,684.57 97.29,689.37 102.89,689.37" fill="#9fd0f2" stroke="#2a78c2" stroke-width="0.9"/>
<polygon points="99.1,678.82 96.3,683.62 101.9,683.62" fill="#9fd0f2" stroke="#2a78c2" stroke-width="0.9"/>
<polygon points="97.65,673.07 94.85,677.87 100.45,677.87" fill="#9fd0f2" stroke="#2a78c2" stroke-width="0.9"/>
<polygon points="96.2,667.32 93.4,672.12 99,672.12" fill="#9fd0f2" stroke="#2a78c2" stroke-width="0.9"/>
<rect x="119.6" y="843.9" width="73.6" height="48.4" fill="none" stroke="#303030" stroke-width="1.2"/>
<line x1="156.5" y1="843.9" x2="156.5" y2="892.3" stroke="#303030" stroke-width="1.2" />
<line x1="119.6" y1="860.1" x2="193.2" y2="860.1" stroke="#303030" stroke-width="1.2" />
<line x1="119.6" y1="876.3" x2="193.2" y2="876.3" stroke="#303030" stroke-width="1.2" />
<text x="123" y="853.3" font-size="10.5" text-anchor="start" font-style="normal" font-weight="normal" fill="#262626" >Symbol</text>
<text x="160.5" y="853.3" font-size="10.5" text-anchor="start" font-style="normal" font-weight="normal" fill="#262626" >Section</text>
<line x1="130.9" y1="867.5" x2="144.8" y2="867.5" stroke="#2a78c2" stroke-width="0.9" />
<polygon points="138,864.86 135.4,869.26 140.6,869.26" fill="#9fd0f2" stroke="#2a78c2" stroke-width="0.9"/>
<text x="164.3" y="870.2" font-size="10.3" text-anchor="start" font-style="normal" font-weight="normal" fill="#262626" >d-d</text>
<line x1="130.5" y1="883.2" x2="144.6" y2="883.2" stroke="#e5353a" stroke-width="0.9" />
<rect x="135.7" y="881.1" width="4.2" height="4.2" fill="#fff" fill-opacity="0.6" stroke="#e5353a" stroke-width="0.95"/>
<text x="165.2" y="886.2" font-size="10.3" text-anchor="start" font-style="normal" font-weight="normal" fill="#262626" >u-u</text>
<text x="56.8" y="849.6" font-size="9.8" text-anchor="start" font-style="normal" font-weight="normal" fill="#262626" >TFPW</text>
<line x1="27.3" y1="866.9" x2="111.8" y2="862.3" stroke="#303030" stroke-width="1.0" />
<line x1="25.5" y1="880.2" x2="111.8" y2="880.2" stroke="#303030" stroke-width="1.0" />
<polygon points="24.9,861.6 30.9,861.6 27.9,866.6" fill="none" stroke="#303030" stroke-width="0.9"/>
<polygon points="25.9,866.8 29.9,866.8 27.9,869.4" fill="#303030" stroke="none" stroke-width="1"/>
<line x1="19.3" y1="874.3" x2="36.2" y2="874.3" stroke="#303030" stroke-width="0.9" />
<polygon points="36.2,874.3 31.7,875.7 31.7,872.9" fill="#303030" stroke="none" stroke-width="1"/>
<text x="37.9" y="863.7" font-size="10" text-anchor="start" font-style="normal" font-weight="normal" fill="#262626" >u</text>
<text x="37.9" y="888.6" font-size="10" text-anchor="start" font-style="normal" font-weight="normal" fill="#262626" >u</text>
<line x1="39.8" y1="867.2" x2="39.8" y2="880.2" stroke="#303030" stroke-width="0.9" />
<polygon points="39.8,880.2 38.6,876.7 41,876.7" fill="#303030" stroke="none" stroke-width="1"/>
<polygon points="39.8,867.2 41,870.7 38.6,870.7" fill="#303030" stroke="none" stroke-width="1"/>
<text x="94.7" y="859.2" font-size="10" text-anchor="start" font-style="normal" font-weight="normal" fill="#262626" >d</text>
<text x="94.7" y="889.5" font-size="10" text-anchor="start" font-style="normal" font-weight="normal" fill="#262626" >d</text>
<line x1="97.2" y1="862.9" x2="97.2" y2="880.2" stroke="#303030" stroke-width="0.9" />
<polygon points="97.2,880.2 96,876.7 98.4,876.7" fill="#303030" stroke="none" stroke-width="1"/>
<polygon points="97.2,862.9 98.4,866.4 96,866.4" fill="#303030" stroke="none" stroke-width="1"/>
<rect x="62.3" y="875.8" width="11.2" height="4.4" fill="none" stroke="#303030" stroke-width="0.9"/>
<polyline points="62.7,879.8 64.7,876.2 66.7,879.8 68.7,876.2 70.7,879.8 72.9,876.2" fill="none" stroke="#303030" stroke-width="0.8"/>
<line x1="62.9" y1="852.1" x2="66.8" y2="875.4" stroke="#303030" stroke-width="0.9" />
<polygon points="66.8,875.4 64.86,871.67 67.42,871.24" fill="#303030" stroke="none" stroke-width="1"/>
<text x="435.2" y="602.8" font-size="10.1" text-anchor="end" font-style="normal" font-weight="normal" fill="#262626" >Test 5</text>
<line x1="280.7" y1="610.3" x2="280.7" y2="805.3" stroke="#303030" stroke-width="1.25" />
<line x1="280.7" y1="610.3" x2="282.9" y2="610.3" stroke="#303030" stroke-width="1.25" />
<line x1="280.7" y1="793.8" x2="283.3" y2="793.8" stroke="#303030" stroke-width="0.9" />
<line x1="280.7" y1="782.3" x2="283.3" y2="782.3" stroke="#303030" stroke-width="0.9" />
<line x1="280.7" y1="770.8" x2="283.3" y2="770.8" stroke="#303030" stroke-width="0.9" />
<line x1="280.7" y1="759.3" x2="283.3" y2="759.3" stroke="#303030" stroke-width="0.9" />
<line x1="280.7" y1="747.8" x2="285.7" y2="747.8" stroke="#303030" stroke-width="0.9" />
<line x1="280.7" y1="736.3" x2="283.3" y2="736.3" stroke="#303030" stroke-width="0.9" />
<line x1="280.7" y1="724.8" x2="283.3" y2="724.8" stroke="#303030" stroke-width="0.9" />
<line x1="280.7" y1="713.3" x2="283.3" y2="713.3" stroke="#303030" stroke-width="0.9" />
<line x1="280.7" y1="701.8" x2="283.3" y2="701.8" stroke="#303030" stroke-width="0.9" />
<line x1="280.7" y1="690.3" x2="285.7" y2="690.3" stroke="#303030" stroke-width="0.9" />
<line x1="280.7" y1="678.8" x2="283.3" y2="678.8" stroke="#303030" stroke-width="0.9" />
<line x1="280.7" y1="667.3" x2="283.3" y2="667.3" stroke="#303030" stroke-width="0.9" />
<line x1="280.7" y1="655.8" x2="283.3" y2="655.8" stroke="#303030" stroke-width="0.9" />
<line x1="280.7" y1="644.3" x2="283.3" y2="644.3" stroke="#303030" stroke-width="0.9" />
<line x1="280.7" y1="632.8" x2="285.7" y2="632.8" stroke="#303030" stroke-width="0.9" />
<text x="277.5" y="751.4" font-size="10.3" text-anchor="end" font-style="normal" font-weight="normal" fill="#262626" >5</text>
<text x="277.5" y="693.9" font-size="10.3" text-anchor="end" font-style="normal" font-weight="normal" fill="#262626" >10</text>
<text x="277.5" y="636.4" font-size="10.3" text-anchor="end" font-style="normal" font-weight="normal" fill="#262626" >15</text>
<line x1="395.2" y1="632.8" x2="395.2" y2="805.3" stroke="#303030" stroke-width="1.25" />
<line x1="392.6" y1="793.8" x2="395.2" y2="793.8" stroke="#303030" stroke-width="0.9" />
<line x1="392.6" y1="782.3" x2="395.2" y2="782.3" stroke="#303030" stroke-width="0.9" />
<line x1="392.6" y1="770.8" x2="395.2" y2="770.8" stroke="#303030" stroke-width="0.9" />
<line x1="392.6" y1="759.3" x2="395.2" y2="759.3" stroke="#303030" stroke-width="0.9" />
<line x1="390.2" y1="747.8" x2="395.2" y2="747.8" stroke="#303030" stroke-width="0.9" />
<line x1="392.6" y1="736.3" x2="395.2" y2="736.3" stroke="#303030" stroke-width="0.9" />
<line x1="392.6" y1="724.8" x2="395.2" y2="724.8" stroke="#303030" stroke-width="0.9" />
<line x1="392.6" y1="713.3" x2="395.2" y2="713.3" stroke="#303030" stroke-width="0.9" />
<line x1="392.6" y1="701.8" x2="395.2" y2="701.8" stroke="#303030" stroke-width="0.9" />
<line x1="390.2" y1="690.3" x2="395.2" y2="690.3" stroke="#303030" stroke-width="0.9" />
<line x1="392.6" y1="678.8" x2="395.2" y2="678.8" stroke="#303030" stroke-width="0.9" />
<line x1="392.6" y1="667.3" x2="395.2" y2="667.3" stroke="#303030" stroke-width="0.9" />
<line x1="392.6" y1="655.8" x2="395.2" y2="655.8" stroke="#303030" stroke-width="0.9" />
<line x1="392.6" y1="644.3" x2="395.2" y2="644.3" stroke="#303030" stroke-width="0.9" />
<line x1="390.2" y1="632.8" x2="395.2" y2="632.8" stroke="#303030" stroke-width="0.9" />
<text x="398.4" y="751.4" font-size="10.3" text-anchor="start" font-style="normal" font-weight="normal" fill="#262626" >5</text>
<text x="398.4" y="693.9" font-size="10.3" text-anchor="start" font-style="normal" font-weight="normal" fill="#262626" >10</text>
<text x="398.4" y="636.4" font-size="10.3" text-anchor="start" font-style="normal" font-weight="normal" fill="#262626" >15</text>
<line x1="280.7" y1="621.3" x2="406.2" y2="621.3" stroke="#303030" stroke-width="1.25" />
<polygon points="410.7,621.3 404.2,623 404.2,619.6" fill="#303030" stroke="none" stroke-width="1"/>
<line x1="291.73" y1="621.3" x2="291.73" y2="624.5" stroke="#303030" stroke-width="1.0" />
<line x1="303.26" y1="621.3" x2="303.26" y2="624.5" stroke="#303030" stroke-width="1.0" />
<line x1="314.79" y1="621.3" x2="314.79" y2="624.5" stroke="#303030" stroke-width="1.0" />
<line x1="326.32" y1="621.3" x2="326.32" y2="624.5" stroke="#303030" stroke-width="1.0" />
<line x1="337.85" y1="621.3" x2="337.85" y2="624.5" stroke="#303030" stroke-width="1.0" />
<line x1="349.38" y1="621.3" x2="349.38" y2="624.5" stroke="#303030" stroke-width="1.0" />
<line x1="360.91" y1="621.3" x2="360.91" y2="624.5" stroke="#303030" stroke-width="1.0" />
<line x1="372.44" y1="621.3" x2="372.44" y2="624.5" stroke="#303030" stroke-width="1.0" />
<line x1="383.97" y1="621.3" x2="383.97" y2="624.5" stroke="#303030" stroke-width="1.0" />
<line x1="395.5" y1="621.3" x2="395.5" y2="624.5" stroke="#303030" stroke-width="1.0" />
<text x="303.76" y="617" font-size="10.3" text-anchor="middle" font-style="normal" font-weight="normal" fill="#262626" >20</text>
<text x="326.82" y="617" font-size="10.3" text-anchor="middle" font-style="normal" font-weight="normal" fill="#262626" >40</text>
<text x="349.88" y="617" font-size="10.3" text-anchor="middle" font-style="normal" font-weight="normal" fill="#262626" >60</text>
<text x="372.94" y="617" font-size="10.3" text-anchor="middle" font-style="normal" font-weight="normal" fill="#262626" >80</text>
<text x="399.2" y="617" font-size="10.3" text-anchor="middle" font-style="normal" font-weight="normal" fill="#262626" >100</text>
<text x="277.8" y="619.6" font-size="10.4" text-anchor="end" font-style="normal" font-weight="normal" fill="#262626" ><tspan font-style="italic">y</tspan>(cm)</text>
<text x="407.7" y="630" font-size="10.4" text-anchor="start" font-style="normal" font-weight="normal" fill="#262626" ><tspan font-style="italic">U</tspan>(cm/s)</text>
<text x="400.9" y="649.6" font-size="10.4" text-anchor="start" font-style="normal" font-weight="normal" fill="#262626" ><tspan font-style="italic">y</tspan>(cm)</text>
<ellipse cx="283.8" cy="807.1" rx="3.15" ry="4.25" fill="#fff" stroke="#303030" stroke-width="1.0"/>
<ellipse cx="289.92" cy="807.1" rx="3.15" ry="4.25" fill="#fff" stroke="#303030" stroke-width="1.0"/>
<ellipse cx="296.04" cy="807.1" rx="3.15" ry="4.25" fill="#fff" stroke="#303030" stroke-width="1.0"/>
<ellipse cx="302.16" cy="807.1" rx="3.15" ry="4.25" fill="#fff" stroke="#303030" stroke-width="1.0"/>
<ellipse cx="308.28" cy="807.1" rx="3.15" ry="4.25" fill="#fff" stroke="#303030" stroke-width="1.0"/>
<ellipse cx="314.4" cy="807.1" rx="3.15" ry="4.25" fill="#fff" stroke="#303030" stroke-width="1.0"/>
<ellipse cx="320.52" cy="807.1" rx="3.15" ry="4.25" fill="#fff" stroke="#303030" stroke-width="1.0"/>
<ellipse cx="326.64" cy="807.1" rx="3.15" ry="4.25" fill="#fff" stroke="#303030" stroke-width="1.0"/>
<ellipse cx="332.76" cy="807.1" rx="3.15" ry="4.25" fill="#fff" stroke="#303030" stroke-width="1.0"/>
<ellipse cx="338.88" cy="807.1" rx="3.15" ry="4.25" fill="#fff" stroke="#303030" stroke-width="1.0"/>
<ellipse cx="345" cy="807.1" rx="3.15" ry="4.25" fill="#fff" stroke="#303030" stroke-width="1.0"/>
<ellipse cx="351.12" cy="807.1" rx="3.15" ry="4.25" fill="#fff" stroke="#303030" stroke-width="1.0"/>
<ellipse cx="357.24" cy="807.1" rx="3.15" ry="4.25" fill="#fff" stroke="#303030" stroke-width="1.0"/>
<ellipse cx="363.36" cy="807.1" rx="3.15" ry="4.25" fill="#fff" stroke="#303030" stroke-width="1.0"/>
<ellipse cx="369.48" cy="807.1" rx="3.15" ry="4.25" fill="#fff" stroke="#303030" stroke-width="1.0"/>
<ellipse cx="375.6" cy="807.1" rx="3.15" ry="4.25" fill="#fff" stroke="#303030" stroke-width="1.0"/>
<ellipse cx="381.72" cy="807.1" rx="3.15" ry="4.25" fill="#fff" stroke="#303030" stroke-width="1.0"/>
<ellipse cx="387.84" cy="807.1" rx="3.15" ry="4.25" fill="#fff" stroke="#303030" stroke-width="1.0"/>
<line x1="285.6" y1="809.5" x2="281.2" y2="816.1" stroke="#303030" stroke-width="1.15" />
<line x1="288.7" y1="809.5" x2="284.3" y2="816.1" stroke="#303030" stroke-width="1.15" />
<line x1="291.8" y1="809.5" x2="287.4" y2="816.1" stroke="#303030" stroke-width="1.15" />
<line x1="294.9" y1="809.5" x2="290.5" y2="816.1" stroke="#303030" stroke-width="1.15" />
<line x1="298" y1="809.5" x2="293.6" y2="816.1" stroke="#303030" stroke-width="1.15" />
<line x1="301.1" y1="809.5" x2="296.7" y2="816.1" stroke="#303030" stroke-width="1.15" />
<line x1="304.2" y1="809.5" x2="299.8" y2="816.1" stroke="#303030" stroke-width="1.15" />
<line x1="307.3" y1="809.5" x2="302.9" y2="816.1" stroke="#303030" stroke-width="1.15" />
<line x1="310.4" y1="809.5" x2="306" y2="816.1" stroke="#303030" stroke-width="1.15" />
<line x1="313.5" y1="809.5" x2="309.1" y2="816.1" stroke="#303030" stroke-width="1.15" />
<line x1="316.6" y1="809.5" x2="312.2" y2="816.1" stroke="#303030" stroke-width="1.15" />
<line x1="319.7" y1="809.5" x2="315.3" y2="816.1" stroke="#303030" stroke-width="1.15" />
<line x1="322.8" y1="809.5" x2="318.4" y2="816.1" stroke="#303030" stroke-width="1.15" />
<line x1="325.9" y1="809.5" x2="321.5" y2="816.1" stroke="#303030" stroke-width="1.15" />
<line x1="329" y1="809.5" x2="324.6" y2="816.1" stroke="#303030" stroke-width="1.15" />
<line x1="332.1" y1="809.5" x2="327.7" y2="816.1" stroke="#303030" stroke-width="1.15" />
<line x1="335.2" y1="809.5" x2="330.8" y2="816.1" stroke="#303030" stroke-width="1.15" />
<line x1="338.3" y1="809.5" x2="333.9" y2="816.1" stroke="#303030" stroke-width="1.15" />
<line x1="341.4" y1="809.5" x2="337" y2="816.1" stroke="#303030" stroke-width="1.15" />
<line x1="344.5" y1="809.5" x2="340.1" y2="816.1" stroke="#303030" stroke-width="1.15" />
<line x1="347.6" y1="809.5" x2="343.2" y2="816.1" stroke="#303030" stroke-width="1.15" />
<line x1="350.7" y1="809.5" x2="346.3" y2="816.1" stroke="#303030" stroke-width="1.15" />
<line x1="353.8" y1="809.5" x2="349.4" y2="816.1" stroke="#303030" stroke-width="1.15" />
<line x1="356.9" y1="809.5" x2="352.5" y2="816.1" stroke="#303030" stroke-width="1.15" />
<line x1="360" y1="809.5" x2="355.6" y2="816.1" stroke="#303030" stroke-width="1.15" />
<line x1="363.1" y1="809.5" x2="358.7" y2="816.1" stroke="#303030" stroke-width="1.15" />
<line x1="366.2" y1="809.5" x2="361.8" y2="816.1" stroke="#303030" stroke-width="1.15" />
<line x1="369.3" y1="809.5" x2="364.9" y2="816.1" stroke="#303030" stroke-width="1.15" />
<line x1="372.4" y1="809.5" x2="368" y2="816.1" stroke="#303030" stroke-width="1.15" />
<line x1="375.5" y1="809.5" x2="371.1" y2="816.1" stroke="#303030" stroke-width="1.15" />
<line x1="378.6" y1="809.5" x2="374.2" y2="816.1" stroke="#303030" stroke-width="1.15" />
<line x1="381.7" y1="809.5" x2="377.3" y2="816.1" stroke="#303030" stroke-width="1.15" />
<line x1="384.8" y1="809.5" x2="380.4" y2="816.1" stroke="#303030" stroke-width="1.15" />
<line x1="387.9" y1="809.5" x2="383.5" y2="816.1" stroke="#303030" stroke-width="1.15" />
<line x1="391" y1="809.5" x2="386.6" y2="816.1" stroke="#303030" stroke-width="1.15" />
<line x1="394.1" y1="809.5" x2="389.7" y2="816.1" stroke="#303030" stroke-width="1.15" />
<line x1="249.2" y1="805.1" x2="426.7" y2="805.1" stroke="#303030" stroke-width="1.4" />
<text x="230.5" y="814.9" font-size="10.4" text-anchor="start" font-style="normal" font-weight="normal" fill="#262626" letter-spacing="0.2"><tspan font-style="italic">y</tspan><tspan font-size="7.5" dy="2">0</tspan><tspan dy="-2">=0.2</tspan><tspan font-style="italic">k</tspan><tspan font-size="7.5" dy="2" font-style="italic">s</tspan></text>
<text x="300.2" y="825.1" font-size="10.4" text-anchor="start" font-style="normal" font-weight="normal" fill="#262626" letter-spacing="0.15">Gravel-bed, <tspan font-style="italic">k</tspan><tspan font-size="7.5" dy="2" font-style="italic">s</tspan><tspan dy="-2">=10 mm</tspan></text>
<rect x="272.5" y="801.8" width="5.6" height="7" fill="#fff"/>
<text x="272.9" y="808.7" font-size="10.3" text-anchor="start" font-style="normal" font-weight="normal" fill="#262626" >0</text>
<line x1="259.4" y1="803.3" x2="272.5" y2="803.3" stroke="#303030" stroke-width="1.0" />
<rect x="398.4" y="801.8" width="5.6" height="7" fill="#fff"/>
<text x="398.6" y="808.7" font-size="10.3" text-anchor="start" font-style="normal" font-weight="normal" fill="#262626" >0</text>
<line x1="266.7" y1="794.3" x2="266.7" y2="803.3" stroke="#303030" stroke-width="1.0" />
<polygon points="266.7,803.3 265.1,798.3 268.3,798.3" fill="#303030" stroke="none" stroke-width="1"/>
<line x1="266.7" y1="816.3" x2="266.7" y2="806.3" stroke="#303030" stroke-width="1.0" />
<polygon points="266.7,806.3 268.3,811.3 265.1,811.3" fill="#303030" stroke="none" stroke-width="1"/>
<line x1="403.2" y1="803.2" x2="413.6" y2="803.2" stroke="#303030" stroke-width="1.0" />
<line x1="399.9" y1="814.1" x2="413.6" y2="814.1" stroke="#303030" stroke-width="1.0" />
<line x1="407.8" y1="795.6" x2="407.8" y2="803.2" stroke="#303030" stroke-width="1.0" />
<polygon points="407.8,803.2 406.2,798.2 409.4,798.2" fill="#303030" stroke="none" stroke-width="1"/>
<line x1="407.8" y1="824.3" x2="407.8" y2="814.1" stroke="#303030" stroke-width="1.0" />
<polygon points="407.8,814.1 409.4,819.1 406.2,819.1" fill="#303030" stroke="none" stroke-width="1"/>
<line x1="407.8" y1="803.2" x2="407.8" y2="814.1" stroke="#303030" stroke-width="1.0" />
<text x="409.8" y="812" font-size="10" text-anchor="start" font-style="normal" font-weight="normal" fill="#262626" ><tspan font-style="italic">k</tspan><tspan font-size="7.5" dy="1.5" font-style="italic">s</tspan></text>
<line x1="280.7" y1="775.4" x2="330.7" y2="775.4" stroke="#303030" stroke-width="0.9" stroke-dasharray="4,3" />
<line x1="328.7" y1="782.3" x2="395.2" y2="782.3" stroke="#303030" stroke-width="0.9" stroke-dasharray="4,3" />
<polyline points="281.7,805.3 289.16,799.55 296.99,793.8 304.45,788.05 311.57,782.3 316.61,776.55 320.88,770.8 324.36,765.05 327.26,759.3 329.95,753.55 332.21,747.8 334.1,742.05 335.72,736.3 336.85,730.55 337.94,724.8 339,719.05 339.95,713.3 340.7,707.55 341.45,701.8 341.82,696.05 342.11,690.3 342.39,684.55 342.62,678.8 342.81,673.05 343.01,667.3 343.2,661.55 343.4,655.8" fill="none" stroke="#2a78c2" stroke-width="0.9"/>
<polyline points="281.7,805.3 297.59,799.55 311.71,793.8 321.8,788.05 330.01,782.3 337.3,776.55 342.89,770.8 347.6,765.05 350.91,759.3 353.7,753.55 356.15,747.8 358.61,742.05 360.81,736.3 362.61,730.55 364.11,724.8 365.55,719.05 366.88,713.3 368.01,707.55 369.32,701.8 370.8,696.05 372.4,690.3" fill="none" stroke="#e5353a" stroke-width="0.9"/>
<text x="285.8" y="711.1" font-size="10.4" text-anchor="start" font-style="normal" font-weight="normal" fill="#262626" >Outer layer</text>
<text x="341.1" y="794.4" font-size="10.4" text-anchor="start" font-style="normal" font-weight="normal" fill="#262626" >Inner layer</text>
<text x="349.6" y="778" font-size="10.4" text-anchor="start" font-style="normal" font-weight="normal" fill="#262626" ><tspan font-style="italic">y</tspan>/<tspan font-style="italic">h</tspan>=0.2</text>
<line x1="249.2" y1="655.8" x2="337.4" y2="655.8" stroke="#303030" stroke-width="1.25" />
<polygon points="341.2,655.8 335.7,657.3 335.7,654.3" fill="#303030" stroke="none" stroke-width="1"/>
<text x="318" y="651.7" font-size="11" text-anchor="start" font-style="normal" font-weight="normal" fill="#262626" ><tspan font-style="italic">U</tspan><tspan font-size="7.8" dy="1.4">max</tspan></text>
<polygon points="297.4,651.3 303.8,651.3 300.6,655.8" fill="none" stroke="#303030" stroke-width="1.1"/>
<polygon points="297.9,655.8 303.3,655.8 300.6,659" fill="#111" stroke="none" stroke-width="1"/>
<line x1="255" y1="655.8" x2="255" y2="805.3" stroke="#303030" stroke-width="0.9" />
<polygon points="255,805.3 253.55,799.1 256.45,799.1" fill="#303030" stroke="none" stroke-width="1"/>
<polygon points="255,655.8 256.45,662 253.55,662" fill="#303030" stroke="none" stroke-width="1"/>
<text x="0" y="0" font-size="11.5" text-anchor="middle" fill="#262626" transform="translate(247.4,733.3) rotate(-90)" dominant-baseline="central"><tspan font-style="italic">h</tspan><tspan font-size="8.5" dy="2">d</tspan></text>
<line x1="280.7" y1="690.3" x2="366.4" y2="690.3" stroke="#303030" stroke-width="1.25" />
<polygon points="370,690.3 364.5,691.8 364.5,688.8" fill="#303030" stroke="none" stroke-width="1"/>
<line x1="374.6" y1="690.3" x2="426.7" y2="690.3" stroke="#303030" stroke-width="1.25" />
<text x="345.9" y="687" font-size="11" text-anchor="start" font-style="normal" font-weight="normal" fill="#262626" ><tspan font-style="italic">U</tspan><tspan font-size="7.8" dy="1.4">max</tspan></text>
<polygon points="381.5,685.8 387.9,685.8 384.7,690.3" fill="none" stroke="#303030" stroke-width="1.1"/>
<polygon points="382,690.3 387.4,690.3 384.7,693.5" fill="#111" stroke="none" stroke-width="1"/>
<line x1="420.9" y1="690.3" x2="420.9" y2="805.3" stroke="#303030" stroke-width="0.9" />
<polygon points="420.9,805.3 419.45,799.1 422.35,799.1" fill="#303030" stroke="none" stroke-width="1"/>
<polygon points="420.9,690.3 422.35,696.5 419.45,696.5" fill="#303030" stroke="none" stroke-width="1"/>
<text x="0" y="0" font-size="11.5" text-anchor="middle" fill="#262626" transform="translate(414.5,740.7) rotate(-90)" dominant-baseline="central"><tspan font-style="italic">h</tspan><tspan font-size="8.5" dy="2">u</tspan></text>
<rect x="295.44" y="797.4" width="4.3" height="4.3" fill="#fff" fill-opacity="0.6" stroke="#e5353a" stroke-width="0.95"/>
<rect x="309.56" y="791.65" width="4.3" height="4.3" fill="#fff" fill-opacity="0.6" stroke="#e5353a" stroke-width="0.95"/>
<rect x="319.65" y="785.9" width="4.3" height="4.3" fill="#fff" fill-opacity="0.6" stroke="#e5353a" stroke-width="0.95"/>
<rect x="327.86" y="780.15" width="4.3" height="4.3" fill="#fff" fill-opacity="0.6" stroke="#e5353a" stroke-width="0.95"/>
<rect x="335.15" y="774.4" width="4.3" height="4.3" fill="#fff" fill-opacity="0.6" stroke="#e5353a" stroke-width="0.95"/>
<rect x="340.74" y="768.65" width="4.3" height="4.3" fill="#fff" fill-opacity="0.6" stroke="#e5353a" stroke-width="0.95"/>
<rect x="345.45" y="762.9" width="4.3" height="4.3" fill="#fff" fill-opacity="0.6" stroke="#e5353a" stroke-width="0.95"/>
<rect x="348.76" y="757.15" width="4.3" height="4.3" fill="#fff" fill-opacity="0.6" stroke="#e5353a" stroke-width="0.95"/>
<rect x="351.55" y="751.4" width="4.3" height="4.3" fill="#fff" fill-opacity="0.6" stroke="#e5353a" stroke-width="0.95"/>
<rect x="354" y="745.65" width="4.3" height="4.3" fill="#fff" fill-opacity="0.6" stroke="#e5353a" stroke-width="0.95"/>
<rect x="356.46" y="739.9" width="4.3" height="4.3" fill="#fff" fill-opacity="0.6" stroke="#e5353a" stroke-width="0.95"/>
<rect x="358.66" y="734.15" width="4.3" height="4.3" fill="#fff" fill-opacity="0.6" stroke="#e5353a" stroke-width="0.95"/>
<rect x="360.46" y="728.4" width="4.3" height="4.3" fill="#fff" fill-opacity="0.6" stroke="#e5353a" stroke-width="0.95"/>
<rect x="361.96" y="722.65" width="4.3" height="4.3" fill="#fff" fill-opacity="0.6" stroke="#e5353a" stroke-width="0.95"/>
<rect x="363.4" y="716.9" width="4.3" height="4.3" fill="#fff" fill-opacity="0.6" stroke="#e5353a" stroke-width="0.95"/>
<rect x="364.73" y="711.15" width="4.3" height="4.3" fill="#fff" fill-opacity="0.6" stroke="#e5353a" stroke-width="0.95"/>
<rect x="365.86" y="705.4" width="4.3" height="4.3" fill="#fff" fill-opacity="0.6" stroke="#e5353a" stroke-width="0.95"/>
<rect x="367.17" y="699.65" width="4.3" height="4.3" fill="#fff" fill-opacity="0.6" stroke="#e5353a" stroke-width="0.95"/>
<rect x="368.65" y="693.9" width="4.3" height="4.3" fill="#fff" fill-opacity="0.6" stroke="#e5353a" stroke-width="0.95"/>
<rect x="370.25" y="688.15" width="4.3" height="4.3" fill="#fff" fill-opacity="0.6" stroke="#e5353a" stroke-width="0.95"/>
<polygon points="289.16,796.67 286.36,801.47 291.96,801.47" fill="#9fd0f2" stroke="#2a78c2" stroke-width="0.9"/>
<polygon points="296.99,790.92 294.19,795.72 299.79,795.72" fill="#9fd0f2" stroke="#2a78c2" stroke-width="0.9"/>
<polygon points="304.45,785.17 301.65,789.97 307.25,789.97" fill="#9fd0f2" stroke="#2a78c2" stroke-width="0.9"/>
<polygon points="311.57,779.42 308.77,784.22 314.38,784.22" fill="#9fd0f2" stroke="#2a78c2" stroke-width="0.9"/>
<polygon points="316.61,773.67 313.81,778.47 319.41,778.47" fill="#9fd0f2" stroke="#2a78c2" stroke-width="0.9"/>
<polygon points="320.88,767.92 318.08,772.72 323.68,772.72" fill="#9fd0f2" stroke="#2a78c2" stroke-width="0.9"/>
<polygon points="324.36,762.17 321.56,766.97 327.16,766.97" fill="#9fd0f2" stroke="#2a78c2" stroke-width="0.9"/>
<polygon points="327.26,756.42 324.46,761.22 330.06,761.22" fill="#9fd0f2" stroke="#2a78c2" stroke-width="0.9"/>
<polygon points="329.95,750.67 327.15,755.47 332.75,755.47" fill="#9fd0f2" stroke="#2a78c2" stroke-width="0.9"/>
<polygon points="332.21,744.92 329.41,749.72 335.01,749.72" fill="#9fd0f2" stroke="#2a78c2" stroke-width="0.9"/>
<polygon points="334.1,739.17 331.3,743.97 336.9,743.97" fill="#9fd0f2" stroke="#2a78c2" stroke-width="0.9"/>
<polygon points="335.72,733.42 332.92,738.22 338.52,738.22" fill="#9fd0f2" stroke="#2a78c2" stroke-width="0.9"/>
<polygon points="336.85,727.67 334.05,732.47 339.65,732.47" fill="#9fd0f2" stroke="#2a78c2" stroke-width="0.9"/>
<polygon points="337.94,721.92 335.14,726.72 340.74,726.72" fill="#9fd0f2" stroke="#2a78c2" stroke-width="0.9"/>
<polygon points="339,716.17 336.2,720.97 341.8,720.97" fill="#9fd0f2" stroke="#2a78c2" stroke-width="0.9"/>
<polygon points="339.95,710.42 337.15,715.22 342.75,715.22" fill="#9fd0f2" stroke="#2a78c2" stroke-width="0.9"/>
<polygon points="340.7,704.67 337.9,709.47 343.5,709.47" fill="#9fd0f2" stroke="#2a78c2" stroke-width="0.9"/>
<polygon points="341.45,698.92 338.65,703.72 344.25,703.72" fill="#9fd0f2" stroke="#2a78c2" stroke-width="0.9"/>
<polygon points="341.82,693.17 339.02,697.97 344.62,697.97" fill="#9fd0f2" stroke="#2a78c2" stroke-width="0.9"/>
<polygon points="342.11,687.42 339.31,692.22 344.91,692.22" fill="#9fd0f2" stroke="#2a78c2" stroke-width="0.9"/>
<polygon points="342.39,681.67 339.59,686.47 345.19,686.47" fill="#9fd0f2" stroke="#2a78c2" stroke-width="0.9"/>
<polygon points="342.62,675.92 339.82,680.72 345.42,680.72" fill="#9fd0f2" stroke="#2a78c2" stroke-width="0.9"/>
<polygon points="342.81,670.17 340.01,674.97 345.61,674.97" fill="#9fd0f2" stroke="#2a78c2" stroke-width="0.9"/>
<polygon points="343.01,664.42 340.21,669.22 345.81,669.22" fill="#9fd0f2" stroke="#2a78c2" stroke-width="0.9"/>
<polygon points="343.2,658.67 340.4,663.47 346,663.47" fill="#9fd0f2" stroke="#2a78c2" stroke-width="0.9"/>
<polygon points="343.4,652.92 340.6,657.72 346.2,657.72" fill="#9fd0f2" stroke="#2a78c2" stroke-width="0.9"/>
<rect x="347.8" y="841" width="73.6" height="48.4" fill="none" stroke="#303030" stroke-width="1.2"/>
<line x1="384.7" y1="841" x2="384.7" y2="889.4" stroke="#303030" stroke-width="1.2" />
<line x1="347.8" y1="857.2" x2="421.4" y2="857.2" stroke="#303030" stroke-width="1.2" />
<line x1="347.8" y1="873.4" x2="421.4" y2="873.4" stroke="#303030" stroke-width="1.2" />
<text x="351.2" y="850.4" font-size="10.5" text-anchor="start" font-style="normal" font-weight="normal" fill="#262626" >Symbol</text>
<text x="388.7" y="850.4" font-size="10.5" text-anchor="start" font-style="normal" font-weight="normal" fill="#262626" >Section</text>
<line x1="359.1" y1="864.6" x2="373" y2="864.6" stroke="#2a78c2" stroke-width="0.9" />
<polygon points="366.2,861.96 363.6,866.36 368.8,866.36" fill="#9fd0f2" stroke="#2a78c2" stroke-width="0.9"/>
<text x="392.5" y="867.3" font-size="10.3" text-anchor="start" font-style="normal" font-weight="normal" fill="#262626" >d-d</text>
<line x1="358.7" y1="880.3" x2="372.8" y2="880.3" stroke="#e5353a" stroke-width="0.9" />
<rect x="363.9" y="878.2" width="4.2" height="4.2" fill="#fff" fill-opacity="0.6" stroke="#e5353a" stroke-width="0.95"/>
<text x="393.4" y="883.3" font-size="10.3" text-anchor="start" font-style="normal" font-weight="normal" fill="#262626" >u-u</text>
<text x="285" y="846.7" font-size="9.8" text-anchor="start" font-style="normal" font-weight="normal" fill="#262626" >TFPW</text>
<line x1="255.5" y1="864" x2="340" y2="859.4" stroke="#303030" stroke-width="1.0" />
<line x1="253.7" y1="877.3" x2="340" y2="877.3" stroke="#303030" stroke-width="1.0" />
<polygon points="253.1,858.7 259.1,858.7 256.1,863.7" fill="none" stroke="#303030" stroke-width="0.9"/>
<polygon points="254.1,863.9 258.1,863.9 256.1,866.5" fill="#303030" stroke="none" stroke-width="1"/>
<line x1="247.5" y1="871.4" x2="264.4" y2="871.4" stroke="#303030" stroke-width="0.9" />
<polygon points="264.4,871.4 259.9,872.8 259.9,870" fill="#303030" stroke="none" stroke-width="1"/>
<text x="266.1" y="860.8" font-size="10" text-anchor="start" font-style="normal" font-weight="normal" fill="#262626" >u</text>
<text x="266.1" y="885.7" font-size="10" text-anchor="start" font-style="normal" font-weight="normal" fill="#262626" >u</text>
<line x1="268" y1="864.3" x2="268" y2="877.3" stroke="#303030" stroke-width="0.9" />
<polygon points="268,877.3 266.8,873.8 269.2,873.8" fill="#303030" stroke="none" stroke-width="1"/>
<polygon points="268,864.3 269.2,867.8 266.8,867.8" fill="#303030" stroke="none" stroke-width="1"/>
<text x="322.9" y="856.3" font-size="10" text-anchor="start" font-style="normal" font-weight="normal" fill="#262626" >d</text>
<text x="322.9" y="886.6" font-size="10" text-anchor="start" font-style="normal" font-weight="normal" fill="#262626" >d</text>
<line x1="325.4" y1="860" x2="325.4" y2="877.3" stroke="#303030" stroke-width="0.9" />
<polygon points="325.4,877.3 324.2,873.8 326.6,873.8" fill="#303030" stroke="none" stroke-width="1"/>
<polygon points="325.4,860 326.6,863.5 324.2,863.5" fill="#303030" stroke="none" stroke-width="1"/>
<rect x="290.5" y="872.9" width="11.2" height="4.4" fill="none" stroke="#303030" stroke-width="0.9"/>
<polyline points="290.9,876.9 292.9,873.3 294.9,876.9 296.9,873.3 298.9,876.9 301.1,873.3" fill="none" stroke="#303030" stroke-width="0.8"/>
<line x1="291.1" y1="849.2" x2="295" y2="872.5" stroke="#303030" stroke-width="0.9" />
<polygon points="295,872.5 293.06,868.77 295.62,868.34" fill="#303030" stroke="none" stroke-width="1"/>
<text x="666.3" y="602.7" font-size="10.1" text-anchor="end" font-style="normal" font-weight="normal" fill="#262626" >Test 6</text>
<line x1="510.6" y1="612.7" x2="510.6" y2="807.7" stroke="#303030" stroke-width="1.25" />
<line x1="510.6" y1="612.7" x2="512.8" y2="612.7" stroke="#303030" stroke-width="1.25" />
<line x1="510.6" y1="796.2" x2="513.2" y2="796.2" stroke="#303030" stroke-width="0.9" />
<line x1="510.6" y1="784.7" x2="513.2" y2="784.7" stroke="#303030" stroke-width="0.9" />
<line x1="510.6" y1="773.2" x2="513.2" y2="773.2" stroke="#303030" stroke-width="0.9" />
<line x1="510.6" y1="761.7" x2="513.2" y2="761.7" stroke="#303030" stroke-width="0.9" />
<line x1="510.6" y1="750.2" x2="515.6" y2="750.2" stroke="#303030" stroke-width="0.9" />
<line x1="510.6" y1="738.7" x2="513.2" y2="738.7" stroke="#303030" stroke-width="0.9" />
<line x1="510.6" y1="727.2" x2="513.2" y2="727.2" stroke="#303030" stroke-width="0.9" />
<line x1="510.6" y1="715.7" x2="513.2" y2="715.7" stroke="#303030" stroke-width="0.9" />
<line x1="510.6" y1="704.2" x2="513.2" y2="704.2" stroke="#303030" stroke-width="0.9" />
<line x1="510.6" y1="692.7" x2="515.6" y2="692.7" stroke="#303030" stroke-width="0.9" />
<line x1="510.6" y1="681.2" x2="513.2" y2="681.2" stroke="#303030" stroke-width="0.9" />
<line x1="510.6" y1="669.7" x2="513.2" y2="669.7" stroke="#303030" stroke-width="0.9" />
<line x1="510.6" y1="658.2" x2="513.2" y2="658.2" stroke="#303030" stroke-width="0.9" />
<line x1="510.6" y1="646.7" x2="513.2" y2="646.7" stroke="#303030" stroke-width="0.9" />
<line x1="510.6" y1="635.2" x2="515.6" y2="635.2" stroke="#303030" stroke-width="0.9" />
<text x="507.4" y="753.8" font-size="10.3" text-anchor="end" font-style="normal" font-weight="normal" fill="#262626" >5</text>
<text x="507.4" y="696.3" font-size="10.3" text-anchor="end" font-style="normal" font-weight="normal" fill="#262626" >10</text>
<text x="507.4" y="638.8" font-size="10.3" text-anchor="end" font-style="normal" font-weight="normal" fill="#262626" >15</text>
<line x1="625.1" y1="635.2" x2="625.1" y2="807.7" stroke="#303030" stroke-width="1.25" />
<line x1="622.5" y1="796.2" x2="625.1" y2="796.2" stroke="#303030" stroke-width="0.9" />
<line x1="622.5" y1="784.7" x2="625.1" y2="784.7" stroke="#303030" stroke-width="0.9" />
<line x1="622.5" y1="773.2" x2="625.1" y2="773.2" stroke="#303030" stroke-width="0.9" />
<line x1="622.5" y1="761.7" x2="625.1" y2="761.7" stroke="#303030" stroke-width="0.9" />
<line x1="620.1" y1="750.2" x2="625.1" y2="750.2" stroke="#303030" stroke-width="0.9" />
<line x1="622.5" y1="738.7" x2="625.1" y2="738.7" stroke="#303030" stroke-width="0.9" />
<line x1="622.5" y1="727.2" x2="625.1" y2="727.2" stroke="#303030" stroke-width="0.9" />
<line x1="622.5" y1="715.7" x2="625.1" y2="715.7" stroke="#303030" stroke-width="0.9" />
<line x1="622.5" y1="704.2" x2="625.1" y2="704.2" stroke="#303030" stroke-width="0.9" />
<line x1="620.1" y1="692.7" x2="625.1" y2="692.7" stroke="#303030" stroke-width="0.9" />
<line x1="622.5" y1="681.2" x2="625.1" y2="681.2" stroke="#303030" stroke-width="0.9" />
<line x1="622.5" y1="669.7" x2="625.1" y2="669.7" stroke="#303030" stroke-width="0.9" />
<line x1="622.5" y1="658.2" x2="625.1" y2="658.2" stroke="#303030" stroke-width="0.9" />
<line x1="622.5" y1="646.7" x2="625.1" y2="646.7" stroke="#303030" stroke-width="0.9" />
<line x1="620.1" y1="635.2" x2="625.1" y2="635.2" stroke="#303030" stroke-width="0.9" />
<text x="628.3" y="753.8" font-size="10.3" text-anchor="start" font-style="normal" font-weight="normal" fill="#262626" >5</text>
<text x="628.3" y="696.3" font-size="10.3" text-anchor="start" font-style="normal" font-weight="normal" fill="#262626" >10</text>
<text x="628.3" y="638.8" font-size="10.3" text-anchor="start" font-style="normal" font-weight="normal" fill="#262626" >15</text>
<line x1="510.6" y1="623.7" x2="638.9" y2="623.7" stroke="#303030" stroke-width="1.25" />
<polygon points="643.4,623.7 636.9,625.4 636.9,622" fill="#303030" stroke="none" stroke-width="1"/>
<line x1="521.63" y1="623.7" x2="521.63" y2="626.9" stroke="#303030" stroke-width="1.0" />
<line x1="533.16" y1="623.7" x2="533.16" y2="626.9" stroke="#303030" stroke-width="1.0" />
<line x1="544.69" y1="623.7" x2="544.69" y2="626.9" stroke="#303030" stroke-width="1.0" />
<line x1="556.22" y1="623.7" x2="556.22" y2="626.9" stroke="#303030" stroke-width="1.0" />
<line x1="567.75" y1="623.7" x2="567.75" y2="626.9" stroke="#303030" stroke-width="1.0" />
<line x1="579.28" y1="623.7" x2="579.28" y2="626.9" stroke="#303030" stroke-width="1.0" />
<line x1="590.81" y1="623.7" x2="590.81" y2="626.9" stroke="#303030" stroke-width="1.0" />
<line x1="602.34" y1="623.7" x2="602.34" y2="626.9" stroke="#303030" stroke-width="1.0" />
<line x1="613.87" y1="623.7" x2="613.87" y2="626.9" stroke="#303030" stroke-width="1.0" />
<line x1="625.4" y1="623.7" x2="625.4" y2="626.9" stroke="#303030" stroke-width="1.0" />
<text x="533.86" y="619.4" font-size="10.3" text-anchor="middle" font-style="normal" font-weight="normal" fill="#262626" >20</text>
<text x="556.92" y="619.4" font-size="10.3" text-anchor="middle" font-style="normal" font-weight="normal" fill="#262626" >40</text>
<text x="579.98" y="619.4" font-size="10.3" text-anchor="middle" font-style="normal" font-weight="normal" fill="#262626" >60</text>
<text x="603.04" y="619.4" font-size="10.3" text-anchor="middle" font-style="normal" font-weight="normal" fill="#262626" >80</text>
<text x="629.3" y="619.4" font-size="10.3" text-anchor="middle" font-style="normal" font-weight="normal" fill="#262626" >100</text>
<text x="507.5" y="621.9" font-size="10.4" text-anchor="end" font-style="normal" font-weight="normal" fill="#262626" ><tspan font-style="italic">y</tspan>(cm)</text>
<text x="639.9" y="633.6" font-size="10.4" text-anchor="start" font-style="normal" font-weight="normal" fill="#262626" ><tspan font-style="italic">U</tspan>(cm/s)</text>
<text x="631" y="652.2" font-size="10.4" text-anchor="start" font-style="normal" font-weight="normal" fill="#262626" ><tspan font-style="italic">y</tspan>(cm)</text>
<ellipse cx="513.7" cy="809.5" rx="3.15" ry="4.25" fill="#fff" stroke="#303030" stroke-width="1.0"/>
<ellipse cx="519.82" cy="809.5" rx="3.15" ry="4.25" fill="#fff" stroke="#303030" stroke-width="1.0"/>
<ellipse cx="525.94" cy="809.5" rx="3.15" ry="4.25" fill="#fff" stroke="#303030" stroke-width="1.0"/>
<ellipse cx="532.06" cy="809.5" rx="3.15" ry="4.25" fill="#fff" stroke="#303030" stroke-width="1.0"/>
<ellipse cx="538.18" cy="809.5" rx="3.15" ry="4.25" fill="#fff" stroke="#303030" stroke-width="1.0"/>
<ellipse cx="544.3" cy="809.5" rx="3.15" ry="4.25" fill="#fff" stroke="#303030" stroke-width="1.0"/>
<ellipse cx="550.42" cy="809.5" rx="3.15" ry="4.25" fill="#fff" stroke="#303030" stroke-width="1.0"/>
<ellipse cx="556.54" cy="809.5" rx="3.15" ry="4.25" fill="#fff" stroke="#303030" stroke-width="1.0"/>
<ellipse cx="562.66" cy="809.5" rx="3.15" ry="4.25" fill="#fff" stroke="#303030" stroke-width="1.0"/>
<ellipse cx="568.78" cy="809.5" rx="3.15" ry="4.25" fill="#fff" stroke="#303030" stroke-width="1.0"/>
<ellipse cx="574.9" cy="809.5" rx="3.15" ry="4.25" fill="#fff" stroke="#303030" stroke-width="1.0"/>
<ellipse cx="581.02" cy="809.5" rx="3.15" ry="4.25" fill="#fff" stroke="#303030" stroke-width="1.0"/>
<ellipse cx="587.14" cy="809.5" rx="3.15" ry="4.25" fill="#fff" stroke="#303030" stroke-width="1.0"/>
<ellipse cx="593.26" cy="809.5" rx="3.15" ry="4.25" fill="#fff" stroke="#303030" stroke-width="1.0"/>
<ellipse cx="599.38" cy="809.5" rx="3.15" ry="4.25" fill="#fff" stroke="#303030" stroke-width="1.0"/>
<ellipse cx="605.5" cy="809.5" rx="3.15" ry="4.25" fill="#fff" stroke="#303030" stroke-width="1.0"/>
<ellipse cx="611.62" cy="809.5" rx="3.15" ry="4.25" fill="#fff" stroke="#303030" stroke-width="1.0"/>
<ellipse cx="617.74" cy="809.5" rx="3.15" ry="4.25" fill="#fff" stroke="#303030" stroke-width="1.0"/>
<line x1="515.5" y1="811.9" x2="511.1" y2="818.5" stroke="#303030" stroke-width="1.15" />
<line x1="518.6" y1="811.9" x2="514.2" y2="818.5" stroke="#303030" stroke-width="1.15" />
<line x1="521.7" y1="811.9" x2="517.3" y2="818.5" stroke="#303030" stroke-width="1.15" />
<line x1="524.8" y1="811.9" x2="520.4" y2="818.5" stroke="#303030" stroke-width="1.15" />
<line x1="527.9" y1="811.9" x2="523.5" y2="818.5" stroke="#303030" stroke-width="1.15" />
<line x1="531" y1="811.9" x2="526.6" y2="818.5" stroke="#303030" stroke-width="1.15" />
<line x1="534.1" y1="811.9" x2="529.7" y2="818.5" stroke="#303030" stroke-width="1.15" />
<line x1="537.2" y1="811.9" x2="532.8" y2="818.5" stroke="#303030" stroke-width="1.15" />
<line x1="540.3" y1="811.9" x2="535.9" y2="818.5" stroke="#303030" stroke-width="1.15" />
<line x1="543.4" y1="811.9" x2="539" y2="818.5" stroke="#303030" stroke-width="1.15" />
<line x1="546.5" y1="811.9" x2="542.1" y2="818.5" stroke="#303030" stroke-width="1.15" />
<line x1="549.6" y1="811.9" x2="545.2" y2="818.5" stroke="#303030" stroke-width="1.15" />
<line x1="552.7" y1="811.9" x2="548.3" y2="818.5" stroke="#303030" stroke-width="1.15" />
<line x1="555.8" y1="811.9" x2="551.4" y2="818.5" stroke="#303030" stroke-width="1.15" />
<line x1="558.9" y1="811.9" x2="554.5" y2="818.5" stroke="#303030" stroke-width="1.15" />
<line x1="562" y1="811.9" x2="557.6" y2="818.5" stroke="#303030" stroke-width="1.15" />
<line x1="565.1" y1="811.9" x2="560.7" y2="818.5" stroke="#303030" stroke-width="1.15" />
<line x1="568.2" y1="811.9" x2="563.8" y2="818.5" stroke="#303030" stroke-width="1.15" />
<line x1="571.3" y1="811.9" x2="566.9" y2="818.5" stroke="#303030" stroke-width="1.15" />
<line x1="574.4" y1="811.9" x2="570" y2="818.5" stroke="#303030" stroke-width="1.15" />
<line x1="577.5" y1="811.9" x2="573.1" y2="818.5" stroke="#303030" stroke-width="1.15" />
<line x1="580.6" y1="811.9" x2="576.2" y2="818.5" stroke="#303030" stroke-width="1.15" />
<line x1="583.7" y1="811.9" x2="579.3" y2="818.5" stroke="#303030" stroke-width="1.15" />
<line x1="586.8" y1="811.9" x2="582.4" y2="818.5" stroke="#303030" stroke-width="1.15" />
<line x1="589.9" y1="811.9" x2="585.5" y2="818.5" stroke="#303030" stroke-width="1.15" />
<line x1="593" y1="811.9" x2="588.6" y2="818.5" stroke="#303030" stroke-width="1.15" />
<line x1="596.1" y1="811.9" x2="591.7" y2="818.5" stroke="#303030" stroke-width="1.15" />
<line x1="599.2" y1="811.9" x2="594.8" y2="818.5" stroke="#303030" stroke-width="1.15" />
<line x1="602.3" y1="811.9" x2="597.9" y2="818.5" stroke="#303030" stroke-width="1.15" />
<line x1="605.4" y1="811.9" x2="601" y2="818.5" stroke="#303030" stroke-width="1.15" />
<line x1="608.5" y1="811.9" x2="604.1" y2="818.5" stroke="#303030" stroke-width="1.15" />
<line x1="611.6" y1="811.9" x2="607.2" y2="818.5" stroke="#303030" stroke-width="1.15" />
<line x1="614.7" y1="811.9" x2="610.3" y2="818.5" stroke="#303030" stroke-width="1.15" />
<line x1="617.8" y1="811.9" x2="613.4" y2="818.5" stroke="#303030" stroke-width="1.15" />
<line x1="620.9" y1="811.9" x2="616.5" y2="818.5" stroke="#303030" stroke-width="1.15" />
<line x1="624" y1="811.9" x2="619.6" y2="818.5" stroke="#303030" stroke-width="1.15" />
<line x1="479.1" y1="807.5" x2="656.6" y2="807.5" stroke="#303030" stroke-width="1.4" />
<text x="460.4" y="817.3" font-size="10.4" text-anchor="start" font-style="normal" font-weight="normal" fill="#262626" letter-spacing="0.2"><tspan font-style="italic">y</tspan><tspan font-size="7.5" dy="2">0</tspan><tspan dy="-2">=0.2</tspan><tspan font-style="italic">k</tspan><tspan font-size="7.5" dy="2" font-style="italic">s</tspan></text>
<text x="530.1" y="827.5" font-size="10.4" text-anchor="start" font-style="normal" font-weight="normal" fill="#262626" letter-spacing="0.15">Gravel-bed, <tspan font-style="italic">k</tspan><tspan font-size="7.5" dy="2" font-style="italic">s</tspan><tspan dy="-2">=10 mm</tspan></text>
<line x1="489.3" y1="805.4" x2="510.6" y2="805.4" stroke="#303030" stroke-width="1.0" />
<rect x="628.3" y="804.2" width="5.6" height="7" fill="#fff"/>
<text x="628.5" y="811.1" font-size="10.3" text-anchor="start" font-style="normal" font-weight="normal" fill="#262626" >0</text>
<line x1="496.6" y1="796.7" x2="496.6" y2="805.7" stroke="#303030" stroke-width="1.0" />
<polygon points="496.6,805.7 495,800.7 498.2,800.7" fill="#303030" stroke="none" stroke-width="1"/>
<line x1="496.6" y1="818.7" x2="496.6" y2="808.7" stroke="#303030" stroke-width="1.0" />
<polygon points="496.6,808.7 498.2,813.7 495,813.7" fill="#303030" stroke="none" stroke-width="1"/>
<line x1="633.1" y1="805.6" x2="643.5" y2="805.6" stroke="#303030" stroke-width="1.0" />
<line x1="629.8" y1="816.5" x2="643.5" y2="816.5" stroke="#303030" stroke-width="1.0" />
<line x1="637.7" y1="798" x2="637.7" y2="805.6" stroke="#303030" stroke-width="1.0" />
<polygon points="637.7,805.6 636.1,800.6 639.3,800.6" fill="#303030" stroke="none" stroke-width="1"/>
<line x1="637.7" y1="826.7" x2="637.7" y2="816.5" stroke="#303030" stroke-width="1.0" />
<polygon points="637.7,816.5 639.3,821.5 636.1,821.5" fill="#303030" stroke="none" stroke-width="1"/>
<line x1="637.7" y1="805.6" x2="637.7" y2="816.5" stroke="#303030" stroke-width="1.0" />
<text x="639.7" y="814.4" font-size="10" text-anchor="start" font-style="normal" font-weight="normal" fill="#262626" ><tspan font-style="italic">k</tspan><tspan font-size="7.5" dy="1.5" font-style="italic">s</tspan></text>
<line x1="510.6" y1="778.95" x2="560.6" y2="778.95" stroke="#303030" stroke-width="0.9" stroke-dasharray="4,3" />
<line x1="558.6" y1="785.85" x2="625.1" y2="785.85" stroke="#303030" stroke-width="0.9" stroke-dasharray="4,3" />
<polyline points="511.6,807.7 521.69,801.95 531.4,796.2 539.9,790.45 546.11,784.7 551.57,778.95 555.75,773.2 559.62,767.45 562.95,761.7 565.56,755.95 567.26,750.2 568.62,744.45 569.87,738.7 570.7,732.95 571.49,727.2 572.24,721.45 572.82,715.7 573.3,709.95 573.61,704.2 573.88,698.45 574.03,692.7 574.17,686.95 574.3,681.2 574.3,675.45 574.3,669.7 574.3,663.95" fill="none" stroke="#2a78c2" stroke-width="0.9"/>
<polyline points="511.6,807.7 525.68,801.95 536.18,796.2 545.58,790.45 552.61,784.7 558.2,778.95 562.45,773.2 565.86,767.45 568.41,761.7 571.25,755.95 573.8,750.2 576.3,744.45 578.18,738.7 579.59,732.95 580.82,727.2 581.92,721.45 582.86,715.7 583.7,709.95 584.58,704.2 585.4,698.45" fill="none" stroke="#e5353a" stroke-width="0.9"/>
<text x="521" y="718.6" font-size="10.4" text-anchor="start" font-style="normal" font-weight="normal" fill="#262626" >Outer layer</text>
<text x="572.9" y="794.4" font-size="10.4" text-anchor="start" font-style="normal" font-weight="normal" fill="#262626" >Inner layer</text>
<text x="569.5" y="777.3" font-size="10.4" text-anchor="start" font-style="normal" font-weight="normal" fill="#262626" ><tspan font-style="italic">y</tspan>/<tspan font-style="italic">h</tspan>=0.2</text>
<line x1="479.1" y1="663.95" x2="568.3" y2="663.95" stroke="#303030" stroke-width="1.25" />
<polygon points="572.1,663.95 566.6,665.45 566.6,662.45" fill="#303030" stroke="none" stroke-width="1"/>
<text x="544.8" y="661.45" font-size="11" text-anchor="start" font-style="normal" font-weight="normal" fill="#262626" ><tspan font-style="italic">U</tspan><tspan font-size="7.8" dy="1.4">max</tspan></text>
<polygon points="528.1,659.45 534.5,659.45 531.3,663.95" fill="none" stroke="#303030" stroke-width="1.1"/>
<polygon points="528.6,663.95 534,663.95 531.3,667.15" fill="#111" stroke="none" stroke-width="1"/>
<line x1="484.9" y1="663.95" x2="484.9" y2="807.7" stroke="#303030" stroke-width="0.9" />
<polygon points="484.9,807.7 483.45,801.5 486.35,801.5" fill="#303030" stroke="none" stroke-width="1"/>
<polygon points="484.9,663.95 486.35,670.15 483.45,670.15" fill="#303030" stroke="none" stroke-width="1"/>
<text x="0" y="0" font-size="11.5" text-anchor="middle" fill="#262626" transform="translate(477.3,735.7) rotate(-90)" dominant-baseline="central"><tspan font-style="italic">h</tspan><tspan font-size="8.5" dy="2">d</tspan></text>
<line x1="510.6" y1="698.45" x2="579.4" y2="698.45" stroke="#303030" stroke-width="1.25" />
<polygon points="583,698.45 577.5,699.95 577.5,696.95" fill="#303030" stroke="none" stroke-width="1"/>
<line x1="587.6" y1="698.45" x2="656.6" y2="698.45" stroke="#303030" stroke-width="1.25" />
<text x="550.6" y="695.45" font-size="11" text-anchor="start" font-style="normal" font-weight="normal" fill="#262626" ><tspan font-style="italic">U</tspan><tspan font-size="7.8" dy="1.4">max</tspan></text>
<polygon points="611.6,693.95 618,693.95 614.8,698.45" fill="none" stroke="#303030" stroke-width="1.1"/>
<polygon points="612.1,698.45 617.5,698.45 614.8,701.65" fill="#111" stroke="none" stroke-width="1"/>
<line x1="650.8" y1="698.45" x2="650.8" y2="807.7" stroke="#303030" stroke-width="0.9" />
<polygon points="650.8,807.7 649.35,801.5 652.25,801.5" fill="#303030" stroke="none" stroke-width="1"/>
<polygon points="650.8,698.45 652.25,704.65 649.35,704.65" fill="#303030" stroke="none" stroke-width="1"/>
<text x="0" y="0" font-size="11.5" text-anchor="middle" fill="#262626" transform="translate(644.4,743.1) rotate(-90)" dominant-baseline="central"><tspan font-style="italic">h</tspan><tspan font-size="8.5" dy="2">u</tspan></text>
<rect x="523.53" y="799.8" width="4.3" height="4.3" fill="#fff" fill-opacity="0.6" stroke="#e5353a" stroke-width="0.95"/>
<rect x="534.03" y="794.05" width="4.3" height="4.3" fill="#fff" fill-opacity="0.6" stroke="#e5353a" stroke-width="0.95"/>
<rect x="543.43" y="788.3" width="4.3" height="4.3" fill="#fff" fill-opacity="0.6" stroke="#e5353a" stroke-width="0.95"/>
<rect x="550.46" y="782.55" width="4.3" height="4.3" fill="#fff" fill-opacity="0.6" stroke="#e5353a" stroke-width="0.95"/>
<rect x="556.05" y="776.8" width="4.3" height="4.3" fill="#fff" fill-opacity="0.6" stroke="#e5353a" stroke-width="0.95"/>
<rect x="560.3" y="771.05" width="4.3" height="4.3" fill="#fff" fill-opacity="0.6" stroke="#e5353a" stroke-width="0.95"/>
<rect x="563.71" y="765.3" width="4.3" height="4.3" fill="#fff" fill-opacity="0.6" stroke="#e5353a" stroke-width="0.95"/>
<rect x="566.26" y="759.55" width="4.3" height="4.3" fill="#fff" fill-opacity="0.6" stroke="#e5353a" stroke-width="0.95"/>
<rect x="569.1" y="753.8" width="4.3" height="4.3" fill="#fff" fill-opacity="0.6" stroke="#e5353a" stroke-width="0.95"/>
<rect x="571.65" y="748.05" width="4.3" height="4.3" fill="#fff" fill-opacity="0.6" stroke="#e5353a" stroke-width="0.95"/>
<rect x="574.15" y="742.3" width="4.3" height="4.3" fill="#fff" fill-opacity="0.6" stroke="#e5353a" stroke-width="0.95"/>
<rect x="576.03" y="736.55" width="4.3" height="4.3" fill="#fff" fill-opacity="0.6" stroke="#e5353a" stroke-width="0.95"/>
<rect x="577.44" y="730.8" width="4.3" height="4.3" fill="#fff" fill-opacity="0.6" stroke="#e5353a" stroke-width="0.95"/>
<rect x="578.67" y="725.05" width="4.3" height="4.3" fill="#fff" fill-opacity="0.6" stroke="#e5353a" stroke-width="0.95"/>
<rect x="579.77" y="719.3" width="4.3" height="4.3" fill="#fff" fill-opacity="0.6" stroke="#e5353a" stroke-width="0.95"/>
<rect x="580.71" y="713.55" width="4.3" height="4.3" fill="#fff" fill-opacity="0.6" stroke="#e5353a" stroke-width="0.95"/>
<rect x="581.55" y="707.8" width="4.3" height="4.3" fill="#fff" fill-opacity="0.6" stroke="#e5353a" stroke-width="0.95"/>
<rect x="582.43" y="702.05" width="4.3" height="4.3" fill="#fff" fill-opacity="0.6" stroke="#e5353a" stroke-width="0.95"/>
<rect x="583.25" y="696.3" width="4.3" height="4.3" fill="#fff" fill-opacity="0.6" stroke="#e5353a" stroke-width="0.95"/>
<polygon points="521.69,799.07 518.89,803.87 524.49,803.87" fill="#9fd0f2" stroke="#2a78c2" stroke-width="0.9"/>
<polygon points="531.4,793.32 528.6,798.12 534.2,798.12" fill="#9fd0f2" stroke="#2a78c2" stroke-width="0.9"/>
<polygon points="539.9,787.57 537.1,792.37 542.7,792.37" fill="#9fd0f2" stroke="#2a78c2" stroke-width="0.9"/>
<polygon points="546.11,781.82 543.31,786.62 548.91,786.62" fill="#9fd0f2" stroke="#2a78c2" stroke-width="0.9"/>
<polygon points="551.57,776.07 548.77,780.87 554.37,780.87" fill="#9fd0f2" stroke="#2a78c2" stroke-width="0.9"/>
<polygon points="555.75,770.32 552.95,775.12 558.55,775.12" fill="#9fd0f2" stroke="#2a78c2" stroke-width="0.9"/>
<polygon points="559.62,764.57 556.82,769.37 562.42,769.37" fill="#9fd0f2" stroke="#2a78c2" stroke-width="0.9"/>
<polygon points="562.95,758.82 560.15,763.62 565.75,763.62" fill="#9fd0f2" stroke="#2a78c2" stroke-width="0.9"/>
<polygon points="565.56,753.07 562.76,757.87 568.36,757.87" fill="#9fd0f2" stroke="#2a78c2" stroke-width="0.9"/>
<polygon points="567.26,747.32 564.46,752.12 570.06,752.12" fill="#9fd0f2" stroke="#2a78c2" stroke-width="0.9"/>
<polygon points="568.62,741.57 565.82,746.37 571.42,746.37" fill="#9fd0f2" stroke="#2a78c2" stroke-width="0.9"/>
<polygon points="569.87,735.82 567.07,740.62 572.67,740.62" fill="#9fd0f2" stroke="#2a78c2" stroke-width="0.9"/>
<polygon points="570.7,730.07 567.9,734.87 573.5,734.87" fill="#9fd0f2" stroke="#2a78c2" stroke-width="0.9"/>
<polygon points="571.49,724.32 568.69,729.12 574.29,729.12" fill="#9fd0f2" stroke="#2a78c2" stroke-width="0.9"/>
<polygon points="572.24,718.57 569.44,723.37 575.04,723.37" fill="#9fd0f2" stroke="#2a78c2" stroke-width="0.9"/>
<polygon points="572.82,712.82 570.02,717.62 575.62,717.62" fill="#9fd0f2" stroke="#2a78c2" stroke-width="0.9"/>
<polygon points="573.3,707.07 570.5,711.87 576.1,711.87" fill="#9fd0f2" stroke="#2a78c2" stroke-width="0.9"/>
<polygon points="573.61,701.32 570.81,706.12 576.41,706.12" fill="#9fd0f2" stroke="#2a78c2" stroke-width="0.9"/>
<polygon points="573.88,695.57 571.08,700.37 576.68,700.37" fill="#9fd0f2" stroke="#2a78c2" stroke-width="0.9"/>
<polygon points="574.03,689.82 571.23,694.62 576.83,694.62" fill="#9fd0f2" stroke="#2a78c2" stroke-width="0.9"/>
<polygon points="574.17,684.07 571.37,688.87 576.97,688.87" fill="#9fd0f2" stroke="#2a78c2" stroke-width="0.9"/>
<polygon points="574.3,678.32 571.5,683.12 577.1,683.12" fill="#9fd0f2" stroke="#2a78c2" stroke-width="0.9"/>
<polygon points="574.3,672.57 571.5,677.37 577.1,677.37" fill="#9fd0f2" stroke="#2a78c2" stroke-width="0.9"/>
<polygon points="574.3,666.82 571.5,671.62 577.1,671.62" fill="#9fd0f2" stroke="#2a78c2" stroke-width="0.9"/>
<polygon points="574.3,661.07 571.5,665.87 577.1,665.87" fill="#9fd0f2" stroke="#2a78c2" stroke-width="0.9"/>
<rect x="577.7" y="843.4" width="73.6" height="48.4" fill="none" stroke="#303030" stroke-width="1.2"/>
<line x1="614.6" y1="843.4" x2="614.6" y2="891.8" stroke="#303030" stroke-width="1.2" />
<line x1="577.7" y1="859.6" x2="651.3" y2="859.6" stroke="#303030" stroke-width="1.2" />
<line x1="577.7" y1="875.8" x2="651.3" y2="875.8" stroke="#303030" stroke-width="1.2" />
<text x="581.1" y="852.8" font-size="10.5" text-anchor="start" font-style="normal" font-weight="normal" fill="#262626" >Symbol</text>
<text x="618.6" y="852.8" font-size="10.5" text-anchor="start" font-style="normal" font-weight="normal" fill="#262626" >Section</text>
<line x1="589" y1="867" x2="602.9" y2="867" stroke="#2a78c2" stroke-width="0.9" />
<polygon points="596.1,864.36 593.5,868.76 598.7,868.76" fill="#9fd0f2" stroke="#2a78c2" stroke-width="0.9"/>
<text x="622.4" y="869.7" font-size="10.3" text-anchor="start" font-style="normal" font-weight="normal" fill="#262626" >d-d</text>
<line x1="588.6" y1="882.7" x2="602.7" y2="882.7" stroke="#e5353a" stroke-width="0.9" />
<rect x="593.8" y="880.6" width="4.2" height="4.2" fill="#fff" fill-opacity="0.6" stroke="#e5353a" stroke-width="0.95"/>
<text x="623.3" y="885.7" font-size="10.3" text-anchor="start" font-style="normal" font-weight="normal" fill="#262626" >u-u</text>
<text x="514.9" y="849.1" font-size="9.8" text-anchor="start" font-style="normal" font-weight="normal" fill="#262626" >TFPW</text>
<line x1="485.4" y1="866.4" x2="569.9" y2="861.8" stroke="#303030" stroke-width="1.0" />
<line x1="483.6" y1="879.7" x2="569.9" y2="879.7" stroke="#303030" stroke-width="1.0" />
<polygon points="483,861.1 489,861.1 486,866.1" fill="none" stroke="#303030" stroke-width="0.9"/>
<polygon points="484,866.3 488,866.3 486,868.9" fill="#303030" stroke="none" stroke-width="1"/>
<line x1="477.4" y1="873.8" x2="494.3" y2="873.8" stroke="#303030" stroke-width="0.9" />
<polygon points="494.3,873.8 489.8,875.2 489.8,872.4" fill="#303030" stroke="none" stroke-width="1"/>
<text x="496" y="863.2" font-size="10" text-anchor="start" font-style="normal" font-weight="normal" fill="#262626" >u</text>
<text x="496" y="888.1" font-size="10" text-anchor="start" font-style="normal" font-weight="normal" fill="#262626" >u</text>
<line x1="497.9" y1="866.7" x2="497.9" y2="879.7" stroke="#303030" stroke-width="0.9" />
<polygon points="497.9,879.7 496.7,876.2 499.1,876.2" fill="#303030" stroke="none" stroke-width="1"/>
<polygon points="497.9,866.7 499.1,870.2 496.7,870.2" fill="#303030" stroke="none" stroke-width="1"/>
<text x="552.8" y="858.7" font-size="10" text-anchor="start" font-style="normal" font-weight="normal" fill="#262626" >d</text>
<text x="552.8" y="889" font-size="10" text-anchor="start" font-style="normal" font-weight="normal" fill="#262626" >d</text>
<line x1="555.3" y1="862.4" x2="555.3" y2="879.7" stroke="#303030" stroke-width="0.9" />
<polygon points="555.3,879.7 554.1,876.2 556.5,876.2" fill="#303030" stroke="none" stroke-width="1"/>
<polygon points="555.3,862.4 556.5,865.9 554.1,865.9" fill="#303030" stroke="none" stroke-width="1"/>
<rect x="520.4" y="875.3" width="11.2" height="4.4" fill="none" stroke="#303030" stroke-width="0.9"/>
<polyline points="520.8,879.3 522.8,875.7 524.8,879.3 526.8,875.7 528.8,879.3 531,875.7" fill="none" stroke="#303030" stroke-width="0.8"/>
<line x1="521" y1="851.6" x2="524.9" y2="874.9" stroke="#303030" stroke-width="0.9" />
<polygon points="524.9,874.9 522.96,871.17 525.52,870.74" fill="#303030" stroke="none" stroke-width="1"/>
</svg>
</body></html>
